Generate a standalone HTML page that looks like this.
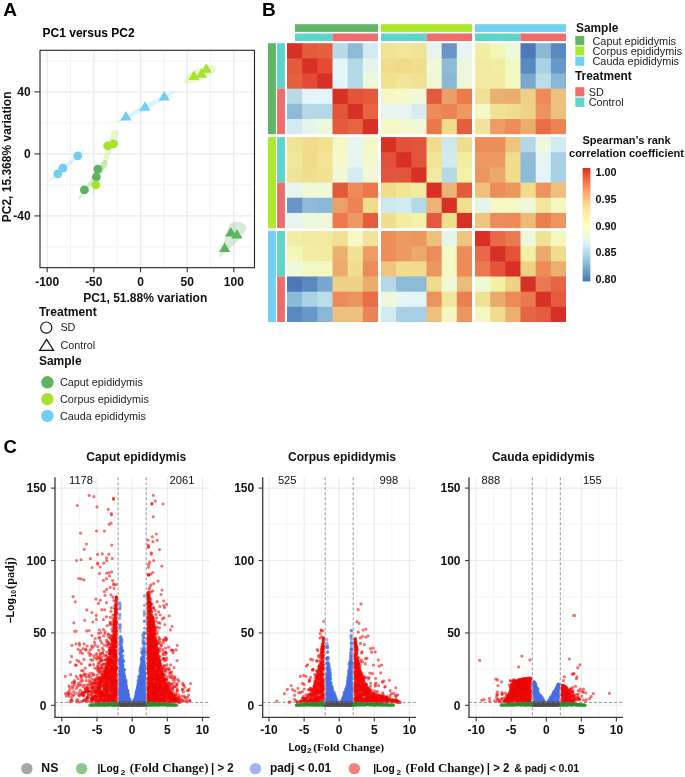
<!DOCTYPE html>
<html><head><meta charset="utf-8"><style>
html,body{margin:0;padding:0;background:#fff;}
body{width:685px;height:777px;overflow:hidden;font-family:"Liberation Sans", sans-serif;}
svg{display:block;filter:blur(0.35px);}
</style></head><body>
<svg width="685" height="777" viewBox="0 0 685 777">
<rect width="685" height="777" fill="#fff"/>
<text x="3.2" y="15.9" font-size="19" font-weight="bold" text-anchor="start" fill="#000" font-family='"Liberation Sans", sans-serif' >A</text>
<text x="42.6" y="37.0" font-size="12" font-weight="bold" text-anchor="start" fill="#000" font-family='"Liberation Sans", sans-serif' >PC1 versus PC2</text>
<rect x="40.0" y="50.3" width="214.5" height="217.39999999999998" fill="#fff"/>
<line x1="70.5" y1="50.3" x2="70.5" y2="267.7" stroke="#F2F2F2" stroke-width="1"/>
<line x1="117.2" y1="50.3" x2="117.2" y2="267.7" stroke="#F2F2F2" stroke-width="1"/>
<line x1="163.8" y1="50.3" x2="163.8" y2="267.7" stroke="#F2F2F2" stroke-width="1"/>
<line x1="210.5" y1="50.3" x2="210.5" y2="267.7" stroke="#F2F2F2" stroke-width="1"/>
<line x1="40.0" y1="246.9" x2="254.5" y2="246.9" stroke="#F2F2F2" stroke-width="1"/>
<line x1="40.0" y1="184.9" x2="254.5" y2="184.9" stroke="#F2F2F2" stroke-width="1"/>
<line x1="40.0" y1="122.9" x2="254.5" y2="122.9" stroke="#F2F2F2" stroke-width="1"/>
<line x1="40.0" y1="60.9" x2="254.5" y2="60.9" stroke="#F2F2F2" stroke-width="1"/>
<line x1="47.2" y1="50.3" x2="47.2" y2="267.7" stroke="#EBEBEB" stroke-width="1.4"/>
<line x1="93.8" y1="50.3" x2="93.8" y2="267.7" stroke="#EBEBEB" stroke-width="1.4"/>
<line x1="140.5" y1="50.3" x2="140.5" y2="267.7" stroke="#EBEBEB" stroke-width="1.4"/>
<line x1="187.2" y1="50.3" x2="187.2" y2="267.7" stroke="#EBEBEB" stroke-width="1.4"/>
<line x1="233.8" y1="50.3" x2="233.8" y2="267.7" stroke="#EBEBEB" stroke-width="1.4"/>
<line x1="40.0" y1="215.9" x2="254.5" y2="215.9" stroke="#EBEBEB" stroke-width="1.4"/>
<line x1="40.0" y1="153.9" x2="254.5" y2="153.9" stroke="#EBEBEB" stroke-width="1.4"/>
<line x1="40.0" y1="91.9" x2="254.5" y2="91.9" stroke="#EBEBEB" stroke-width="1.4"/>
<ellipse cx="66.4" cy="165.9" rx="24.6" ry="1.8" transform="rotate(-41.9 66.4 165.9)" fill="#6ECFF2" fill-opacity="0.25"/>
<ellipse cx="145.5" cy="107.2" rx="32.9" ry="2.5" transform="rotate(-28.0 145.5 107.2)" fill="#6ECFF2" fill-opacity="0.25"/>
<path d="M91.8 194.3L110.6 134.9C111.5 129.3 117.8 128.3 118.7 134.0L93.4 194.8Z" fill="#A6E22E" fill-opacity="0.25"/>
<path d="M78.0 198.3L102.3 162.0C104.0 158.4 109.0 159.2 107.6 165.2L79.5 199.2Z" fill="#5DB35F" fill-opacity="0.25"/>
<ellipse cx="200.0" cy="74.3" rx="17.8" ry="6.2" transform="rotate(-25.0 200.0 74.3)" fill="#A6E22E" fill-opacity="0.22"/>
<path d="M218.7 257.7L229.0 225.2C231.0 221.0 240.5 220.3 245.0 224.8C247.6 227.4 246.0 230.5 243.5 233.8L237.1 241.4L229.5 249.0Z" fill="#5DB35F" fill-opacity="0.25"/>
<circle cx="57.8" cy="173.8" r="4.4" fill="#6ECFF2"/>
<circle cx="62.9" cy="168.2" r="4.4" fill="#6ECFF2"/>
<circle cx="77.8" cy="155.9" r="4.4" fill="#6ECFF2"/>
<circle cx="97.8" cy="169.1" r="4.4" fill="#5DB35F"/>
<circle cx="96.3" cy="177.0" r="4.4" fill="#5DB35F"/>
<circle cx="84.4" cy="189.9" r="4.4" fill="#5DB35F"/>
<circle cx="107.7" cy="145.8" r="4.4" fill="#A6E22E"/>
<circle cx="113.6" cy="143.8" r="4.4" fill="#A6E22E"/>
<circle cx="95.8" cy="184.9" r="4.4" fill="#A6E22E"/>
<path d="M120.4 120.6L131.6 120.6L126.0 111.1Z" fill="#6ECFF2"/>
<path d="M139.4 110.7L150.6 110.7L145.0 101.2Z" fill="#6ECFF2"/>
<path d="M158.7 100.4L169.9 100.4L164.3 90.9Z" fill="#6ECFF2"/>
<path d="M188.3 79.9L199.5 79.9L193.9 70.4Z" fill="#A6E22E"/>
<path d="M195.9 77.7L207.1 77.7L201.5 68.2Z" fill="#A6E22E"/>
<path d="M200.7 72.8L211.9 72.8L206.3 63.3Z" fill="#A6E22E"/>
<path d="M225.2 236.6L236.4 236.6L230.8 227.1Z" fill="#5DB35F"/>
<path d="M231.3 238.5L242.5 238.5L236.9 229.0Z" fill="#5DB35F"/>
<path d="M219.1 252.0L230.3 252.0L224.7 242.5Z" fill="#5DB35F"/>
<rect x="40.0" y="50.3" width="214.5" height="217.39999999999998" fill="none" stroke="#222" stroke-width="1.1"/>
<line x1="34.4" y1="215.9" x2="40.0" y2="215.9" stroke="#333" stroke-width="1.1"/>
<text x="30.6" y="220.1" font-size="12" font-weight="bold" text-anchor="end" fill="#111" font-family='"Liberation Sans", sans-serif' >-40</text>
<line x1="34.4" y1="153.9" x2="40.0" y2="153.9" stroke="#333" stroke-width="1.1"/>
<text x="30.6" y="158.1" font-size="12" font-weight="bold" text-anchor="end" fill="#111" font-family='"Liberation Sans", sans-serif' >0</text>
<line x1="34.4" y1="91.9" x2="40.0" y2="91.9" stroke="#333" stroke-width="1.1"/>
<text x="30.6" y="96.1" font-size="12" font-weight="bold" text-anchor="end" fill="#111" font-family='"Liberation Sans", sans-serif' >40</text>
<line x1="47.2" y1="267.7" x2="47.2" y2="272.3" stroke="#333" stroke-width="1.1"/>
<text x="47.2" y="285.8" font-size="12" font-weight="bold" text-anchor="middle" fill="#111" font-family='"Liberation Sans", sans-serif' >-100</text>
<line x1="93.8" y1="267.7" x2="93.8" y2="272.3" stroke="#333" stroke-width="1.1"/>
<text x="93.8" y="285.8" font-size="12" font-weight="bold" text-anchor="middle" fill="#111" font-family='"Liberation Sans", sans-serif' >-50</text>
<line x1="140.5" y1="267.7" x2="140.5" y2="272.3" stroke="#333" stroke-width="1.1"/>
<text x="140.5" y="285.8" font-size="12" font-weight="bold" text-anchor="middle" fill="#111" font-family='"Liberation Sans", sans-serif' >0</text>
<line x1="187.2" y1="267.7" x2="187.2" y2="272.3" stroke="#333" stroke-width="1.1"/>
<text x="187.2" y="285.8" font-size="12" font-weight="bold" text-anchor="middle" fill="#111" font-family='"Liberation Sans", sans-serif' >50</text>
<line x1="233.8" y1="267.7" x2="233.8" y2="272.3" stroke="#333" stroke-width="1.1"/>
<text x="233.8" y="285.8" font-size="12" font-weight="bold" text-anchor="middle" fill="#111" font-family='"Liberation Sans", sans-serif' >100</text>
<text x="145.2" y="302.2" font-size="12" font-weight="bold" text-anchor="middle" fill="#111" font-family='"Liberation Sans", sans-serif' >PC1, 51.88% variation</text>
<text x="0" y="0" font-size="12" font-weight="bold" text-anchor="middle" fill="#111" font-family='"Liberation Sans", sans-serif' transform="translate(10.9 156.9) rotate(-90)">PC2, 15.368% variation</text>
<text x="38.9" y="316.2" font-size="12.1" font-weight="bold" text-anchor="start" fill="#111" font-family='"Liberation Sans", sans-serif' >Treatment</text>
<circle cx="46.3" cy="327.6" r="5.6" fill="none" stroke="#111" stroke-width="1.2"/>
<text x="60.4" y="331.2" font-size="10.8" font-weight="normal" text-anchor="start" fill="#222" font-family='"Liberation Sans", sans-serif' >SD</text>
<path d="M39.6 350.4L53.6 350.4L46.6 339.4Z" fill="none" stroke="#111" stroke-width="1.2" stroke-linejoin="miter"/>
<text x="60.4" y="349.0" font-size="10.8" font-weight="normal" text-anchor="start" fill="#222" font-family='"Liberation Sans", sans-serif' >Control</text>
<text x="38.9" y="365.0" font-size="12.0" font-weight="bold" text-anchor="start" fill="#111" font-family='"Liberation Sans", sans-serif' >Sample</text>
<circle cx="47.4" cy="382.3" r="6.2" fill="#5DB35F"/>
<text x="60.0" y="386.2" font-size="10.8" font-weight="normal" text-anchor="start" fill="#222" font-family='"Liberation Sans", sans-serif' >Caput epididymis</text>
<circle cx="47.4" cy="399.1" r="6.2" fill="#A6E22E"/>
<text x="60.0" y="403.0" font-size="10.8" font-weight="normal" text-anchor="start" fill="#222" font-family='"Liberation Sans", sans-serif' >Corpus epididymis</text>
<circle cx="47.4" cy="415.9" r="6.2" fill="#6ECFF2"/>
<text x="60.0" y="419.8" font-size="10.8" font-weight="normal" text-anchor="start" fill="#222" font-family='"Liberation Sans", sans-serif' >Cauda epididymis</text>
<text x="262.0" y="15.9" font-size="19" font-weight="bold" text-anchor="start" fill="#000" font-family='"Liberation Sans", sans-serif' >B</text>
<rect x="287.00" y="43.20" width="15.87" height="15.87" fill="#D73027"/>
<rect x="302.17" y="43.20" width="15.87" height="15.87" fill="#E65A3C"/>
<rect x="317.33" y="43.20" width="15.87" height="15.87" fill="#E6603F"/>
<rect x="332.50" y="43.20" width="15.87" height="15.87" fill="#B9DBE8"/>
<rect x="347.67" y="43.20" width="15.87" height="15.87" fill="#8DBAD6"/>
<rect x="362.83" y="43.20" width="15.17" height="15.87" fill="#D2EAF2"/>
<rect x="381.00" y="43.20" width="15.87" height="15.87" fill="#F1E394"/>
<rect x="396.17" y="43.20" width="15.87" height="15.87" fill="#F2E69A"/>
<rect x="411.33" y="43.20" width="15.87" height="15.87" fill="#F1E396"/>
<rect x="426.50" y="43.20" width="15.87" height="15.87" fill="#E6F5EE"/>
<rect x="441.67" y="43.20" width="15.87" height="15.87" fill="#6895C6"/>
<rect x="456.83" y="43.20" width="15.17" height="15.87" fill="#E6F5F2"/>
<rect x="475.00" y="43.20" width="15.87" height="15.87" fill="#F2EEA4"/>
<rect x="490.17" y="43.20" width="15.87" height="15.87" fill="#F4F7B8"/>
<rect x="505.33" y="43.20" width="15.87" height="15.87" fill="#EEF8DE"/>
<rect x="520.50" y="43.20" width="15.87" height="15.87" fill="#4F78B8"/>
<rect x="535.67" y="43.20" width="15.87" height="15.87" fill="#8BBAD6"/>
<rect x="550.83" y="43.20" width="15.17" height="15.87" fill="#5A88C0"/>
<rect x="287.00" y="58.37" width="15.87" height="15.87" fill="#E65A3C"/>
<rect x="302.17" y="58.37" width="15.87" height="15.87" fill="#D73027"/>
<rect x="317.33" y="58.37" width="15.87" height="15.87" fill="#E34B35"/>
<rect x="332.50" y="58.37" width="15.87" height="15.87" fill="#E3F5F8"/>
<rect x="347.67" y="58.37" width="15.87" height="15.87" fill="#B3D8E8"/>
<rect x="362.83" y="58.37" width="15.17" height="15.87" fill="#E6F5EC"/>
<rect x="381.00" y="58.37" width="15.87" height="15.87" fill="#F0DC8C"/>
<rect x="396.17" y="58.37" width="15.87" height="15.87" fill="#F0DA8A"/>
<rect x="411.33" y="58.37" width="15.87" height="15.87" fill="#F0DE8E"/>
<rect x="426.50" y="58.37" width="15.87" height="15.87" fill="#F0F8D6"/>
<rect x="441.67" y="58.37" width="15.87" height="15.87" fill="#8DBAD6"/>
<rect x="456.83" y="58.37" width="15.17" height="15.87" fill="#ECF8DC"/>
<rect x="475.00" y="58.37" width="15.87" height="15.87" fill="#F2EAA2"/>
<rect x="490.17" y="58.37" width="15.87" height="15.87" fill="#F2EDA4"/>
<rect x="505.33" y="58.37" width="15.87" height="15.87" fill="#F2F8C4"/>
<rect x="520.50" y="58.37" width="15.87" height="15.87" fill="#5A88C0"/>
<rect x="535.67" y="58.37" width="15.87" height="15.87" fill="#A9D3E5"/>
<rect x="550.83" y="58.37" width="15.17" height="15.87" fill="#6898C8"/>
<rect x="287.00" y="73.53" width="15.87" height="15.87" fill="#E6603F"/>
<rect x="302.17" y="73.53" width="15.87" height="15.87" fill="#E34B35"/>
<rect x="317.33" y="73.53" width="15.87" height="15.87" fill="#D73027"/>
<rect x="332.50" y="73.53" width="15.87" height="15.87" fill="#E3F5F8"/>
<rect x="347.67" y="73.53" width="15.87" height="15.87" fill="#B3D8E8"/>
<rect x="362.83" y="73.53" width="15.17" height="15.87" fill="#ECF8DC"/>
<rect x="381.00" y="73.53" width="15.87" height="15.87" fill="#F1E08F"/>
<rect x="396.17" y="73.53" width="15.87" height="15.87" fill="#F2E598"/>
<rect x="411.33" y="73.53" width="15.87" height="15.87" fill="#F1E193"/>
<rect x="426.50" y="73.53" width="15.87" height="15.87" fill="#F0F8D6"/>
<rect x="441.67" y="73.53" width="15.87" height="15.87" fill="#88B8D6"/>
<rect x="456.83" y="73.53" width="15.17" height="15.87" fill="#EEF8D8"/>
<rect x="475.00" y="73.53" width="15.87" height="15.87" fill="#F2EAA0"/>
<rect x="490.17" y="73.53" width="15.87" height="15.87" fill="#F2ECA2"/>
<rect x="505.33" y="73.53" width="15.87" height="15.87" fill="#F4F8C0"/>
<rect x="520.50" y="73.53" width="15.87" height="15.87" fill="#78A8D0"/>
<rect x="535.67" y="73.53" width="15.87" height="15.87" fill="#BBDDE8"/>
<rect x="550.83" y="73.53" width="15.17" height="15.87" fill="#88B8D6"/>
<rect x="287.00" y="88.70" width="15.87" height="15.87" fill="#B9DBE8"/>
<rect x="302.17" y="88.70" width="15.87" height="15.87" fill="#E3F5F8"/>
<rect x="317.33" y="88.70" width="15.87" height="15.87" fill="#E3F5F8"/>
<rect x="332.50" y="88.70" width="15.87" height="15.87" fill="#D73027"/>
<rect x="347.67" y="88.70" width="15.87" height="15.87" fill="#E45538"/>
<rect x="362.83" y="88.70" width="15.17" height="15.87" fill="#E65A3C"/>
<rect x="381.00" y="88.70" width="15.87" height="15.87" fill="#F5F7C4"/>
<rect x="396.17" y="88.70" width="15.87" height="15.87" fill="#F5F8C8"/>
<rect x="411.33" y="88.70" width="15.87" height="15.87" fill="#F0F8D8"/>
<rect x="426.50" y="88.70" width="15.87" height="15.87" fill="#E25A3D"/>
<rect x="441.67" y="88.70" width="15.87" height="15.87" fill="#EBA06A"/>
<rect x="456.83" y="88.70" width="15.17" height="15.87" fill="#EC7A4E"/>
<rect x="475.00" y="88.70" width="15.87" height="15.87" fill="#F2DE94"/>
<rect x="490.17" y="88.70" width="15.87" height="15.87" fill="#EBB070"/>
<rect x="505.33" y="88.70" width="15.87" height="15.87" fill="#EBAC6E"/>
<rect x="520.50" y="88.70" width="15.87" height="15.87" fill="#EFD08A"/>
<rect x="535.67" y="88.70" width="15.87" height="15.87" fill="#EC8A5A"/>
<rect x="550.83" y="88.70" width="15.17" height="15.87" fill="#EEC07E"/>
<rect x="287.00" y="103.87" width="15.87" height="15.87" fill="#8DBAD6"/>
<rect x="302.17" y="103.87" width="15.87" height="15.87" fill="#B3D8E8"/>
<rect x="317.33" y="103.87" width="15.87" height="15.87" fill="#B3D8E8"/>
<rect x="332.50" y="103.87" width="15.87" height="15.87" fill="#E45538"/>
<rect x="347.67" y="103.87" width="15.87" height="15.87" fill="#D73027"/>
<rect x="362.83" y="103.87" width="15.17" height="15.87" fill="#E6643F"/>
<rect x="381.00" y="103.87" width="15.87" height="15.87" fill="#E6F5F0"/>
<rect x="396.17" y="103.87" width="15.87" height="15.87" fill="#E6F5F2"/>
<rect x="411.33" y="103.87" width="15.87" height="15.87" fill="#D6EBF2"/>
<rect x="426.50" y="103.87" width="15.87" height="15.87" fill="#EC8A5A"/>
<rect x="441.67" y="103.87" width="15.87" height="15.87" fill="#EC8255"/>
<rect x="456.83" y="103.87" width="15.17" height="15.87" fill="#EC9A64"/>
<rect x="475.00" y="103.87" width="15.87" height="15.87" fill="#F4F8C4"/>
<rect x="490.17" y="103.87" width="15.87" height="15.87" fill="#F1E194"/>
<rect x="505.33" y="103.87" width="15.87" height="15.87" fill="#F0DE8E"/>
<rect x="520.50" y="103.87" width="15.87" height="15.87" fill="#EED286"/>
<rect x="535.67" y="103.87" width="15.87" height="15.87" fill="#EC9460"/>
<rect x="550.83" y="103.87" width="15.17" height="15.87" fill="#EEC07E"/>
<rect x="287.00" y="119.03" width="15.87" height="15.17" fill="#D2EAF2"/>
<rect x="302.17" y="119.03" width="15.87" height="15.17" fill="#E6F5EC"/>
<rect x="317.33" y="119.03" width="15.87" height="15.17" fill="#ECF8DC"/>
<rect x="332.50" y="119.03" width="15.87" height="15.17" fill="#E65A3C"/>
<rect x="347.67" y="119.03" width="15.87" height="15.17" fill="#E6643F"/>
<rect x="362.83" y="119.03" width="15.17" height="15.17" fill="#D73027"/>
<rect x="381.00" y="119.03" width="15.87" height="15.17" fill="#F4F8C4"/>
<rect x="396.17" y="119.03" width="15.87" height="15.17" fill="#F2F8CC"/>
<rect x="411.33" y="119.03" width="15.87" height="15.17" fill="#F0F8D8"/>
<rect x="426.50" y="119.03" width="15.87" height="15.17" fill="#EB774B"/>
<rect x="441.67" y="119.03" width="15.87" height="15.17" fill="#F1DC8E"/>
<rect x="456.83" y="119.03" width="15.17" height="15.17" fill="#E35E40"/>
<rect x="475.00" y="119.03" width="15.87" height="15.17" fill="#F2E39A"/>
<rect x="490.17" y="119.03" width="15.87" height="15.17" fill="#EC9C64"/>
<rect x="505.33" y="119.03" width="15.87" height="15.17" fill="#EC8C5A"/>
<rect x="520.50" y="119.03" width="15.87" height="15.17" fill="#EBAC6E"/>
<rect x="535.67" y="119.03" width="15.87" height="15.17" fill="#E96E48"/>
<rect x="550.83" y="119.03" width="15.17" height="15.17" fill="#EC8455"/>
<rect x="287.00" y="137.10" width="15.87" height="15.87" fill="#F1E394"/>
<rect x="302.17" y="137.10" width="15.87" height="15.87" fill="#F0DC8C"/>
<rect x="317.33" y="137.10" width="15.87" height="15.87" fill="#F1E08F"/>
<rect x="332.50" y="137.10" width="15.87" height="15.87" fill="#F5F7C4"/>
<rect x="347.67" y="137.10" width="15.87" height="15.87" fill="#E6F5F0"/>
<rect x="362.83" y="137.10" width="15.17" height="15.87" fill="#F4F8C4"/>
<rect x="381.00" y="137.10" width="15.87" height="15.87" fill="#D73027"/>
<rect x="396.17" y="137.10" width="15.87" height="15.87" fill="#E2523A"/>
<rect x="411.33" y="137.10" width="15.87" height="15.87" fill="#E2543B"/>
<rect x="426.50" y="137.10" width="15.87" height="15.87" fill="#F0DC8C"/>
<rect x="441.67" y="137.10" width="15.87" height="15.87" fill="#CEE8F0"/>
<rect x="456.83" y="137.10" width="15.17" height="15.87" fill="#F0DE90"/>
<rect x="475.00" y="137.10" width="15.87" height="15.87" fill="#EC8E5A"/>
<rect x="490.17" y="137.10" width="15.87" height="15.87" fill="#EC8E5A"/>
<rect x="505.33" y="137.10" width="15.87" height="15.87" fill="#EEC47E"/>
<rect x="520.50" y="137.10" width="15.87" height="15.87" fill="#B5D8E8"/>
<rect x="535.67" y="137.10" width="15.87" height="15.87" fill="#EEF8DA"/>
<rect x="550.83" y="137.10" width="15.17" height="15.87" fill="#D2EAF2"/>
<rect x="287.00" y="152.27" width="15.87" height="15.87" fill="#F2E69A"/>
<rect x="302.17" y="152.27" width="15.87" height="15.87" fill="#F0DA8A"/>
<rect x="317.33" y="152.27" width="15.87" height="15.87" fill="#F2E598"/>
<rect x="332.50" y="152.27" width="15.87" height="15.87" fill="#F5F8C8"/>
<rect x="347.67" y="152.27" width="15.87" height="15.87" fill="#E6F5F2"/>
<rect x="362.83" y="152.27" width="15.17" height="15.87" fill="#F2F8CC"/>
<rect x="381.00" y="152.27" width="15.87" height="15.87" fill="#E2523A"/>
<rect x="396.17" y="152.27" width="15.87" height="15.87" fill="#D73027"/>
<rect x="411.33" y="152.27" width="15.87" height="15.87" fill="#E2553C"/>
<rect x="426.50" y="152.27" width="15.87" height="15.87" fill="#F1E596"/>
<rect x="441.67" y="152.27" width="15.87" height="15.87" fill="#D2EAF2"/>
<rect x="456.83" y="152.27" width="15.17" height="15.87" fill="#F2EDA0"/>
<rect x="475.00" y="152.27" width="15.87" height="15.87" fill="#EC9A62"/>
<rect x="490.17" y="152.27" width="15.87" height="15.87" fill="#EC9A62"/>
<rect x="505.33" y="152.27" width="15.87" height="15.87" fill="#F0DE8E"/>
<rect x="520.50" y="152.27" width="15.87" height="15.87" fill="#8DBAD6"/>
<rect x="535.67" y="152.27" width="15.87" height="15.87" fill="#E6F5F2"/>
<rect x="550.83" y="152.27" width="15.17" height="15.87" fill="#A8D0E4"/>
<rect x="287.00" y="167.43" width="15.87" height="15.87" fill="#F1E396"/>
<rect x="302.17" y="167.43" width="15.87" height="15.87" fill="#F0DE8E"/>
<rect x="317.33" y="167.43" width="15.87" height="15.87" fill="#F1E193"/>
<rect x="332.50" y="167.43" width="15.87" height="15.87" fill="#F0F8D8"/>
<rect x="347.67" y="167.43" width="15.87" height="15.87" fill="#D6EBF2"/>
<rect x="362.83" y="167.43" width="15.17" height="15.87" fill="#F0F8D8"/>
<rect x="381.00" y="167.43" width="15.87" height="15.87" fill="#E2543B"/>
<rect x="396.17" y="167.43" width="15.87" height="15.87" fill="#E2553C"/>
<rect x="411.33" y="167.43" width="15.87" height="15.87" fill="#D73027"/>
<rect x="426.50" y="167.43" width="15.87" height="15.87" fill="#F2EAA0"/>
<rect x="441.67" y="167.43" width="15.87" height="15.87" fill="#B5D8E8"/>
<rect x="456.83" y="167.43" width="15.17" height="15.87" fill="#F2F2AA"/>
<rect x="475.00" y="167.43" width="15.87" height="15.87" fill="#EC9660"/>
<rect x="490.17" y="167.43" width="15.87" height="15.87" fill="#EBAA6C"/>
<rect x="505.33" y="167.43" width="15.87" height="15.87" fill="#F0DC8C"/>
<rect x="520.50" y="167.43" width="15.87" height="15.87" fill="#8DBAD6"/>
<rect x="535.67" y="167.43" width="15.87" height="15.87" fill="#E3F5F8"/>
<rect x="550.83" y="167.43" width="15.17" height="15.87" fill="#A8D0E4"/>
<rect x="287.00" y="182.60" width="15.87" height="15.87" fill="#E6F5EE"/>
<rect x="302.17" y="182.60" width="15.87" height="15.87" fill="#F0F8D6"/>
<rect x="317.33" y="182.60" width="15.87" height="15.87" fill="#F0F8D6"/>
<rect x="332.50" y="182.60" width="15.87" height="15.87" fill="#E25A3D"/>
<rect x="347.67" y="182.60" width="15.87" height="15.87" fill="#EC8A5A"/>
<rect x="362.83" y="182.60" width="15.17" height="15.87" fill="#EB774B"/>
<rect x="381.00" y="182.60" width="15.87" height="15.87" fill="#F0DC8C"/>
<rect x="396.17" y="182.60" width="15.87" height="15.87" fill="#F1E596"/>
<rect x="411.33" y="182.60" width="15.87" height="15.87" fill="#F2EAA0"/>
<rect x="426.50" y="182.60" width="15.87" height="15.87" fill="#D73027"/>
<rect x="441.67" y="182.60" width="15.87" height="15.87" fill="#EBB474"/>
<rect x="456.83" y="182.60" width="15.17" height="15.87" fill="#E35A3E"/>
<rect x="475.00" y="182.60" width="15.87" height="15.87" fill="#EEC07E"/>
<rect x="490.17" y="182.60" width="15.87" height="15.87" fill="#EC8C5A"/>
<rect x="505.33" y="182.60" width="15.87" height="15.87" fill="#EC9660"/>
<rect x="520.50" y="182.60" width="15.87" height="15.87" fill="#F0DC8C"/>
<rect x="535.67" y="182.60" width="15.87" height="15.87" fill="#EC9460"/>
<rect x="550.83" y="182.60" width="15.17" height="15.87" fill="#EEC07E"/>
<rect x="287.00" y="197.77" width="15.87" height="15.87" fill="#6895C6"/>
<rect x="302.17" y="197.77" width="15.87" height="15.87" fill="#8DBAD6"/>
<rect x="317.33" y="197.77" width="15.87" height="15.87" fill="#88B8D6"/>
<rect x="332.50" y="197.77" width="15.87" height="15.87" fill="#EBA06A"/>
<rect x="347.67" y="197.77" width="15.87" height="15.87" fill="#EC8255"/>
<rect x="362.83" y="197.77" width="15.17" height="15.87" fill="#F1DC8E"/>
<rect x="381.00" y="197.77" width="15.87" height="15.87" fill="#CEE8F0"/>
<rect x="396.17" y="197.77" width="15.87" height="15.87" fill="#D2EAF2"/>
<rect x="411.33" y="197.77" width="15.87" height="15.87" fill="#B5D8E8"/>
<rect x="426.50" y="197.77" width="15.87" height="15.87" fill="#EBB474"/>
<rect x="441.67" y="197.77" width="15.87" height="15.87" fill="#D73027"/>
<rect x="456.83" y="197.77" width="15.17" height="15.87" fill="#F0E08E"/>
<rect x="475.00" y="197.77" width="15.87" height="15.87" fill="#E6F5EA"/>
<rect x="490.17" y="197.77" width="15.87" height="15.87" fill="#F4F8C4"/>
<rect x="505.33" y="197.77" width="15.87" height="15.87" fill="#F4F8C4"/>
<rect x="520.50" y="197.77" width="15.87" height="15.87" fill="#EEF8D6"/>
<rect x="535.67" y="197.77" width="15.87" height="15.87" fill="#F2E69C"/>
<rect x="550.83" y="197.77" width="15.17" height="15.87" fill="#F4F8C0"/>
<rect x="287.00" y="212.93" width="15.87" height="15.17" fill="#E6F5F2"/>
<rect x="302.17" y="212.93" width="15.87" height="15.17" fill="#ECF8DC"/>
<rect x="317.33" y="212.93" width="15.87" height="15.17" fill="#EEF8D8"/>
<rect x="332.50" y="212.93" width="15.87" height="15.17" fill="#EC7A4E"/>
<rect x="347.67" y="212.93" width="15.87" height="15.17" fill="#EC9A64"/>
<rect x="362.83" y="212.93" width="15.17" height="15.17" fill="#E35E40"/>
<rect x="381.00" y="212.93" width="15.87" height="15.17" fill="#F0DE90"/>
<rect x="396.17" y="212.93" width="15.87" height="15.17" fill="#F2EDA0"/>
<rect x="411.33" y="212.93" width="15.87" height="15.17" fill="#F2F2AA"/>
<rect x="426.50" y="212.93" width="15.87" height="15.17" fill="#E35A3E"/>
<rect x="441.67" y="212.93" width="15.87" height="15.17" fill="#F0E08E"/>
<rect x="456.83" y="212.93" width="15.17" height="15.17" fill="#D73027"/>
<rect x="475.00" y="212.93" width="15.87" height="15.17" fill="#EEC47E"/>
<rect x="490.17" y="212.93" width="15.87" height="15.17" fill="#EC8C5A"/>
<rect x="505.33" y="212.93" width="15.87" height="15.17" fill="#EC8A58"/>
<rect x="520.50" y="212.93" width="15.87" height="15.17" fill="#EBBC78"/>
<rect x="535.67" y="212.93" width="15.87" height="15.17" fill="#EA8050"/>
<rect x="550.83" y="212.93" width="15.17" height="15.17" fill="#EC9660"/>
<rect x="287.00" y="231.00" width="15.87" height="15.87" fill="#F2EEA4"/>
<rect x="302.17" y="231.00" width="15.87" height="15.87" fill="#F2EAA2"/>
<rect x="317.33" y="231.00" width="15.87" height="15.87" fill="#F2EAA0"/>
<rect x="332.50" y="231.00" width="15.87" height="15.87" fill="#F2DE94"/>
<rect x="347.67" y="231.00" width="15.87" height="15.87" fill="#F4F8C4"/>
<rect x="362.83" y="231.00" width="15.17" height="15.87" fill="#F2E39A"/>
<rect x="381.00" y="231.00" width="15.87" height="15.87" fill="#EC8E5A"/>
<rect x="396.17" y="231.00" width="15.87" height="15.87" fill="#EC9A62"/>
<rect x="411.33" y="231.00" width="15.87" height="15.87" fill="#EC9660"/>
<rect x="426.50" y="231.00" width="15.87" height="15.87" fill="#EEC07E"/>
<rect x="441.67" y="231.00" width="15.87" height="15.87" fill="#E6F5EA"/>
<rect x="456.83" y="231.00" width="15.17" height="15.87" fill="#EEC47E"/>
<rect x="475.00" y="231.00" width="15.87" height="15.87" fill="#D73027"/>
<rect x="490.17" y="231.00" width="15.87" height="15.87" fill="#E8684A"/>
<rect x="505.33" y="231.00" width="15.87" height="15.87" fill="#EA7850"/>
<rect x="520.50" y="231.00" width="15.87" height="15.87" fill="#EEF8D8"/>
<rect x="535.67" y="231.00" width="15.87" height="15.87" fill="#F0E292"/>
<rect x="550.83" y="231.00" width="15.17" height="15.87" fill="#F4F8C0"/>
<rect x="287.00" y="246.17" width="15.87" height="15.87" fill="#F4F7B8"/>
<rect x="302.17" y="246.17" width="15.87" height="15.87" fill="#F2EDA4"/>
<rect x="317.33" y="246.17" width="15.87" height="15.87" fill="#F2ECA2"/>
<rect x="332.50" y="246.17" width="15.87" height="15.87" fill="#EBB070"/>
<rect x="347.67" y="246.17" width="15.87" height="15.87" fill="#F1E194"/>
<rect x="362.83" y="246.17" width="15.17" height="15.87" fill="#EC9C64"/>
<rect x="381.00" y="246.17" width="15.87" height="15.87" fill="#EC8E5A"/>
<rect x="396.17" y="246.17" width="15.87" height="15.87" fill="#EC9A62"/>
<rect x="411.33" y="246.17" width="15.87" height="15.87" fill="#EBAA6C"/>
<rect x="426.50" y="246.17" width="15.87" height="15.87" fill="#EC8C5A"/>
<rect x="441.67" y="246.17" width="15.87" height="15.87" fill="#F4F8C4"/>
<rect x="456.83" y="246.17" width="15.17" height="15.87" fill="#EC8C5A"/>
<rect x="475.00" y="246.17" width="15.87" height="15.87" fill="#E8684A"/>
<rect x="490.17" y="246.17" width="15.87" height="15.87" fill="#D73027"/>
<rect x="505.33" y="246.17" width="15.87" height="15.87" fill="#E45238"/>
<rect x="520.50" y="246.17" width="15.87" height="15.87" fill="#F2F0A4"/>
<rect x="535.67" y="246.17" width="15.87" height="15.87" fill="#EBAA6C"/>
<rect x="550.83" y="246.17" width="15.17" height="15.87" fill="#F0DC8C"/>
<rect x="287.00" y="261.33" width="15.87" height="15.87" fill="#EEF8DE"/>
<rect x="302.17" y="261.33" width="15.87" height="15.87" fill="#F2F8C4"/>
<rect x="317.33" y="261.33" width="15.87" height="15.87" fill="#F4F8C0"/>
<rect x="332.50" y="261.33" width="15.87" height="15.87" fill="#EBAC6E"/>
<rect x="347.67" y="261.33" width="15.87" height="15.87" fill="#F0DE8E"/>
<rect x="362.83" y="261.33" width="15.17" height="15.87" fill="#EC8C5A"/>
<rect x="381.00" y="261.33" width="15.87" height="15.87" fill="#EEC47E"/>
<rect x="396.17" y="261.33" width="15.87" height="15.87" fill="#F0DE8E"/>
<rect x="411.33" y="261.33" width="15.87" height="15.87" fill="#F0DC8C"/>
<rect x="426.50" y="261.33" width="15.87" height="15.87" fill="#EC9660"/>
<rect x="441.67" y="261.33" width="15.87" height="15.87" fill="#F4F8C4"/>
<rect x="456.83" y="261.33" width="15.17" height="15.87" fill="#EC8A58"/>
<rect x="475.00" y="261.33" width="15.87" height="15.87" fill="#EA7850"/>
<rect x="490.17" y="261.33" width="15.87" height="15.87" fill="#E45238"/>
<rect x="505.33" y="261.33" width="15.87" height="15.87" fill="#D73027"/>
<rect x="520.50" y="261.33" width="15.87" height="15.87" fill="#EED286"/>
<rect x="535.67" y="261.33" width="15.87" height="15.87" fill="#EC8A58"/>
<rect x="550.83" y="261.33" width="15.17" height="15.87" fill="#EBB070"/>
<rect x="287.00" y="276.50" width="15.87" height="15.87" fill="#4F78B8"/>
<rect x="302.17" y="276.50" width="15.87" height="15.87" fill="#5A88C0"/>
<rect x="317.33" y="276.50" width="15.87" height="15.87" fill="#78A8D0"/>
<rect x="332.50" y="276.50" width="15.87" height="15.87" fill="#EFD08A"/>
<rect x="347.67" y="276.50" width="15.87" height="15.87" fill="#EED286"/>
<rect x="362.83" y="276.50" width="15.17" height="15.87" fill="#EBAC6E"/>
<rect x="381.00" y="276.50" width="15.87" height="15.87" fill="#B5D8E8"/>
<rect x="396.17" y="276.50" width="15.87" height="15.87" fill="#8DBAD6"/>
<rect x="411.33" y="276.50" width="15.87" height="15.87" fill="#8DBAD6"/>
<rect x="426.50" y="276.50" width="15.87" height="15.87" fill="#F0DC8C"/>
<rect x="441.67" y="276.50" width="15.87" height="15.87" fill="#EEF8D6"/>
<rect x="456.83" y="276.50" width="15.17" height="15.87" fill="#EBBC78"/>
<rect x="475.00" y="276.50" width="15.87" height="15.87" fill="#EEF8D8"/>
<rect x="490.17" y="276.50" width="15.87" height="15.87" fill="#F2F0A4"/>
<rect x="505.33" y="276.50" width="15.87" height="15.87" fill="#EED286"/>
<rect x="520.50" y="276.50" width="15.87" height="15.87" fill="#D73027"/>
<rect x="535.67" y="276.50" width="15.87" height="15.87" fill="#EA7850"/>
<rect x="550.83" y="276.50" width="15.17" height="15.87" fill="#E66446"/>
<rect x="287.00" y="291.67" width="15.87" height="15.87" fill="#8BBAD6"/>
<rect x="302.17" y="291.67" width="15.87" height="15.87" fill="#A9D3E5"/>
<rect x="317.33" y="291.67" width="15.87" height="15.87" fill="#BBDDE8"/>
<rect x="332.50" y="291.67" width="15.87" height="15.87" fill="#EC8A5A"/>
<rect x="347.67" y="291.67" width="15.87" height="15.87" fill="#EC9460"/>
<rect x="362.83" y="291.67" width="15.17" height="15.87" fill="#E96E48"/>
<rect x="381.00" y="291.67" width="15.87" height="15.87" fill="#EEF8DA"/>
<rect x="396.17" y="291.67" width="15.87" height="15.87" fill="#E6F5F2"/>
<rect x="411.33" y="291.67" width="15.87" height="15.87" fill="#E3F5F8"/>
<rect x="426.50" y="291.67" width="15.87" height="15.87" fill="#EC9460"/>
<rect x="441.67" y="291.67" width="15.87" height="15.87" fill="#F2E69C"/>
<rect x="456.83" y="291.67" width="15.17" height="15.87" fill="#EA8050"/>
<rect x="475.00" y="291.67" width="15.87" height="15.87" fill="#F0E292"/>
<rect x="490.17" y="291.67" width="15.87" height="15.87" fill="#EBAA6C"/>
<rect x="505.33" y="291.67" width="15.87" height="15.87" fill="#EC8A58"/>
<rect x="520.50" y="291.67" width="15.87" height="15.87" fill="#EA7850"/>
<rect x="535.67" y="291.67" width="15.87" height="15.87" fill="#D73027"/>
<rect x="550.83" y="291.67" width="15.17" height="15.87" fill="#E45C40"/>
<rect x="287.00" y="306.83" width="15.87" height="15.17" fill="#5A88C0"/>
<rect x="302.17" y="306.83" width="15.87" height="15.17" fill="#6898C8"/>
<rect x="317.33" y="306.83" width="15.87" height="15.17" fill="#88B8D6"/>
<rect x="332.50" y="306.83" width="15.87" height="15.17" fill="#EEC07E"/>
<rect x="347.67" y="306.83" width="15.87" height="15.17" fill="#EEC07E"/>
<rect x="362.83" y="306.83" width="15.17" height="15.17" fill="#EC8455"/>
<rect x="381.00" y="306.83" width="15.87" height="15.17" fill="#D2EAF2"/>
<rect x="396.17" y="306.83" width="15.87" height="15.17" fill="#A8D0E4"/>
<rect x="411.33" y="306.83" width="15.87" height="15.17" fill="#A8D0E4"/>
<rect x="426.50" y="306.83" width="15.87" height="15.17" fill="#EEC07E"/>
<rect x="441.67" y="306.83" width="15.87" height="15.17" fill="#F4F8C0"/>
<rect x="456.83" y="306.83" width="15.17" height="15.17" fill="#EC9660"/>
<rect x="475.00" y="306.83" width="15.87" height="15.17" fill="#F4F8C0"/>
<rect x="490.17" y="306.83" width="15.87" height="15.17" fill="#F0DC8C"/>
<rect x="505.33" y="306.83" width="15.87" height="15.17" fill="#EBB070"/>
<rect x="520.50" y="306.83" width="15.87" height="15.17" fill="#E66446"/>
<rect x="535.67" y="306.83" width="15.87" height="15.17" fill="#E45C40"/>
<rect x="550.83" y="306.83" width="15.17" height="15.17" fill="#D73027"/>
<rect x="295.0" y="24.2" width="83.0" height="7.7" fill="#62B567"/>
<rect x="295.0" y="33.5" width="37.5" height="7.6" fill="#5DD5C9"/>
<rect x="332.5" y="33.5" width="45.5" height="7.6" fill="#EE6C6C"/>
<rect x="381.0" y="24.2" width="91.0" height="7.7" fill="#ABE82F"/>
<rect x="381.0" y="33.5" width="45.5" height="7.6" fill="#5DD5C9"/>
<rect x="426.5" y="33.5" width="45.5" height="7.6" fill="#EE6C6C"/>
<rect x="475.0" y="24.2" width="91.0" height="7.7" fill="#71D1F1"/>
<rect x="475.0" y="33.5" width="45.5" height="7.6" fill="#5DD5C9"/>
<rect x="520.5" y="33.5" width="45.5" height="7.6" fill="#EE6C6C"/>
<rect x="268.0" y="43.2" width="7.9" height="91" fill="#62B567"/>
<rect x="277.1" y="43.2" width="7.8" height="45.5" fill="#5DD5C9"/>
<rect x="277.1" y="88.7" width="7.8" height="45.5" fill="#EE6C6C"/>
<rect x="268.0" y="137.1" width="7.9" height="91" fill="#ABE82F"/>
<rect x="277.1" y="137.1" width="7.8" height="45.5" fill="#5DD5C9"/>
<rect x="277.1" y="182.6" width="7.8" height="45.5" fill="#EE6C6C"/>
<rect x="268.0" y="231.0" width="7.9" height="91" fill="#71D1F1"/>
<rect x="277.1" y="231.0" width="7.8" height="45.5" fill="#5DD5C9"/>
<rect x="277.1" y="276.5" width="7.8" height="45.5" fill="#EE6C6C"/>
<text x="576.0" y="32.3" font-size="11.9" font-weight="bold" text-anchor="start" fill="#111" font-family='"Liberation Sans", sans-serif' >Sample</text>
<rect x="575.3" y="36.0" width="9.0" height="9.2" fill="#62B567"/>
<text x="592.5" y="44.6" font-size="10.9" font-weight="normal" text-anchor="start" fill="#222" font-family='"Liberation Sans", sans-serif' >Caput epididymis</text>
<rect x="575.3" y="46.3" width="9.0" height="9.2" fill="#ABE82F"/>
<text x="592.5" y="54.9" font-size="10.9" font-weight="normal" text-anchor="start" fill="#222" font-family='"Liberation Sans", sans-serif' >Corpus epididymis</text>
<rect x="575.3" y="56.6" width="9.0" height="9.2" fill="#71D1F1"/>
<text x="592.5" y="65.2" font-size="10.9" font-weight="normal" text-anchor="start" fill="#222" font-family='"Liberation Sans", sans-serif' >Cauda epididymis</text>
<text x="575.0" y="79.6" font-size="11.9" font-weight="bold" text-anchor="start" fill="#111" font-family='"Liberation Sans", sans-serif' >Treatment</text>
<rect x="575.3" y="87.2" width="9.0" height="9.2" fill="#EE6C6C"/>
<text x="588.7" y="95.8" font-size="10.85" font-weight="normal" text-anchor="start" fill="#222" font-family='"Liberation Sans", sans-serif' >SD</text>
<rect x="575.3" y="97.6" width="9.0" height="9.2" fill="#5DD5C9"/>
<text x="588.7" y="106.2" font-size="10.85" font-weight="normal" text-anchor="start" fill="#222" font-family='"Liberation Sans", sans-serif' >Control</text>
<text x="626.5" y="144.0" font-size="11.0" font-weight="bold" text-anchor="middle" fill="#111" font-family='"Liberation Sans", sans-serif' >Spearman&#8217;s rank</text>
<text x="626.5" y="157.2" font-size="11.0" font-weight="bold" text-anchor="middle" fill="#111" font-family='"Liberation Sans", sans-serif' >correlation coefficient</text>
<defs><linearGradient id="cb" x1="0" y1="1" x2="0" y2="0"><stop offset="0" stop-color="#4575B4"/><stop offset="0.1667" stop-color="#91BFDB"/><stop offset="0.3333" stop-color="#E0F3F8"/><stop offset="0.5" stop-color="#FFFFBF"/><stop offset="0.6667" stop-color="#FEE090"/><stop offset="0.8333" stop-color="#FC8D59"/><stop offset="1" stop-color="#D73027"/></linearGradient></defs>
<rect x="582.6" y="168.0" width="7.8" height="113.4" fill="url(#cb)"/>
<text x="595.6" y="176.2" font-size="10.8" font-weight="bold" text-anchor="start" fill="#111" font-family='"Liberation Sans", sans-serif' >1.00</text>
<text x="595.6" y="203.0" font-size="10.8" font-weight="bold" text-anchor="start" fill="#111" font-family='"Liberation Sans", sans-serif' >0.95</text>
<text x="595.6" y="229.7" font-size="10.8" font-weight="bold" text-anchor="start" fill="#111" font-family='"Liberation Sans", sans-serif' >0.90</text>
<text x="595.6" y="256.4" font-size="10.8" font-weight="bold" text-anchor="start" fill="#111" font-family='"Liberation Sans", sans-serif' >0.85</text>
<text x="595.6" y="283.2" font-size="10.8" font-weight="bold" text-anchor="start" fill="#111" font-family='"Liberation Sans", sans-serif' >0.80</text>
<text x="3.4" y="453.0" font-size="18.5" font-weight="bold" text-anchor="start" fill="#000" font-family='"Liberation Sans", sans-serif' >C</text>
<line x1="79.4" y1="477.3" x2="79.4" y2="717.4" stroke="#F3F3F3" stroke-width="0.8"/>
<line x1="114.6" y1="477.3" x2="114.6" y2="717.4" stroke="#F3F3F3" stroke-width="0.8"/>
<line x1="149.7" y1="477.3" x2="149.7" y2="717.4" stroke="#F3F3F3" stroke-width="0.8"/>
<line x1="184.9" y1="477.3" x2="184.9" y2="717.4" stroke="#F3F3F3" stroke-width="0.8"/>
<line x1="55.0" y1="669.1" x2="209.5" y2="669.1" stroke="#F3F3F3" stroke-width="0.8"/>
<line x1="55.0" y1="596.7" x2="209.5" y2="596.7" stroke="#F3F3F3" stroke-width="0.8"/>
<line x1="55.0" y1="524.3" x2="209.5" y2="524.3" stroke="#F3F3F3" stroke-width="0.8"/>
<line x1="61.8" y1="477.3" x2="61.8" y2="717.4" stroke="#EBEBEB" stroke-width="1.1"/>
<line x1="97.0" y1="477.3" x2="97.0" y2="717.4" stroke="#EBEBEB" stroke-width="1.1"/>
<line x1="132.2" y1="477.3" x2="132.2" y2="717.4" stroke="#EBEBEB" stroke-width="1.1"/>
<line x1="167.3" y1="477.3" x2="167.3" y2="717.4" stroke="#EBEBEB" stroke-width="1.1"/>
<line x1="202.5" y1="477.3" x2="202.5" y2="717.4" stroke="#EBEBEB" stroke-width="1.1"/>
<line x1="55.0" y1="705.3" x2="209.5" y2="705.3" stroke="#EBEBEB" stroke-width="1.1"/>
<line x1="55.0" y1="632.9" x2="209.5" y2="632.9" stroke="#EBEBEB" stroke-width="1.1"/>
<line x1="55.0" y1="560.5" x2="209.5" y2="560.5" stroke="#EBEBEB" stroke-width="1.1"/>
<line x1="55.0" y1="488.1" x2="209.5" y2="488.1" stroke="#EBEBEB" stroke-width="1.1"/>
<path d="M137.1 699.8h0M125.9 701.3h0M123.8 674.0h0M138.3 687.9h0M130.1 699.8h0M141.8 672.3h0M127.1 700.9h0M124.5 686.9h0M136.9 700.6h0M139.8 695.3h0M125.7 695.5h0M125.8 689.2h0M144.0 690.1h0M142.4 683.2h0M127.4 693.2h0M128.3 698.3h0M124.1 688.2h0M138.0 693.2h0M119.7 660.8h0M142.9 702.0h0M123.6 674.4h0M139.8 695.6h0M128.2 699.6h0M143.4 649.5h0M123.2 674.6h0M144.3 688.3h0M139.8 692.0h0M141.1 683.8h0M143.0 659.6h0M121.9 682.0h0M139.4 701.2h0M142.2 698.0h0M122.9 699.9h0M126.0 698.0h0M141.2 694.2h0M144.2 693.1h0M126.2 686.3h0M137.2 695.0h0M139.4 694.5h0M140.7 697.5h0M137.6 686.8h0M125.1 695.3h0M143.1 670.5h0M141.9 697.3h0M138.1 689.2h0M121.9 675.6h0M136.9 690.3h0M144.5 662.2h0M141.2 681.4h0M123.9 684.8h0M136.7 692.6h0M142.0 702.4h0M120.6 699.2h0M137.6 692.4h0M123.9 672.9h0M120.5 682.3h0M123.6 673.3h0M119.9 649.6h0M125.1 682.6h0M121.0 669.4h0M137.6 700.0h0M124.6 676.6h0M125.4 681.3h0M139.9 700.3h0M125.1 681.1h0M126.7 699.2h0M121.0 697.7h0M144.4 676.8h0M123.3 684.3h0M144.4 679.7h0M121.6 686.4h0M125.7 697.8h0M144.1 672.4h0M142.8 662.6h0M139.9 689.8h0M125.5 688.9h0M124.9 692.8h0M125.9 681.4h0M140.0 697.7h0M124.1 680.4h0M124.5 687.4h0M122.8 687.9h0M142.7 694.6h0M142.6 694.9h0M122.8 674.3h0M120.4 700.5h0M144.5 665.4h0M120.3 660.0h0M123.5 696.7h0M126.6 689.0h0M121.1 679.9h0M142.9 686.6h0M140.9 701.4h0M127.2 697.6h0M138.3 688.9h0M142.8 700.4h0M139.5 689.4h0M137.2 701.2h0M119.9 685.9h0M142.7 696.1h0M138.2 691.9h0M136.2 699.0h0M125.7 684.1h0M127.1 694.1h0M140.8 682.4h0M143.3 689.0h0M136.7 694.9h0M141.5 700.9h0M120.7 673.6h0M144.5 689.9h0M122.4 690.5h0M138.5 696.7h0M122.5 692.6h0M123.5 695.8h0M138.2 690.8h0M124.7 681.3h0M122.6 668.3h0M123.1 681.6h0M123.9 688.4h0M121.5 696.0h0M123.7 696.8h0M138.7 697.2h0M122.4 681.3h0M142.6 684.9h0M126.4 701.4h0M143.3 684.1h0M143.6 700.9h0M124.9 696.7h0M128.3 698.7h0M123.5 688.9h0M120.6 698.4h0M136.9 695.5h0M136.9 700.7h0M141.8 687.8h0M124.8 690.4h0M120.5 648.7h0M142.4 678.0h0M138.8 697.7h0M120.6 675.7h0M140.8 685.7h0M125.9 699.3h0M142.7 659.9h0M120.4 701.8h0M144.4 678.2h0M143.1 652.9h0M141.3 698.7h0M124.3 694.7h0M138.6 695.8h0M142.9 694.8h0M125.0 681.6h0M121.6 680.0h0M141.6 697.6h0M126.7 701.4h0M124.8 687.0h0M121.2 669.2h0M143.3 693.8h0M141.8 689.6h0M122.9 665.8h0M139.7 693.0h0M141.4 669.1h0M126.2 697.8h0M124.2 692.8h0M130.0 701.2h0M121.8 687.2h0M122.9 690.6h0M140.0 681.5h0M143.3 671.1h0M140.8 675.0h0M123.6 696.4h0M120.1 671.4h0M140.5 687.3h0M121.8 699.6h0M139.7 700.5h0M142.6 691.1h0M126.3 697.3h0M126.7 691.6h0M143.0 641.3h0M119.9 698.4h0M121.4 700.3h0M119.8 628.0h0M144.5 654.9h0M123.7 676.4h0M133.4 702.1h0M122.7 699.9h0M144.0 689.9h0M124.3 679.3h0M142.8 655.1h0M121.8 693.6h0M140.4 669.3h0M121.3 694.8h0M123.9 686.3h0M144.5 679.6h0M143.3 652.7h0M125.5 690.4h0M141.3 692.2h0M125.1 681.0h0M140.5 667.7h0M127.9 697.3h0M143.1 702.2h0M119.7 675.0h0M143.4 699.5h0M141.1 699.5h0M142.1 682.7h0M120.4 654.7h0M122.1 697.5h0M124.8 699.7h0M128.6 698.2h0M139.9 694.7h0M126.5 688.8h0M140.9 693.8h0M140.5 681.8h0M124.4 682.2h0M120.1 698.7h0M121.0 653.0h0M123.0 687.4h0M120.3 660.3h0M137.8 694.6h0M138.1 696.6h0M121.2 688.0h0M141.8 697.9h0M144.5 652.3h0M125.3 688.0h0M122.7 676.5h0M121.4 702.2h0M143.7 681.9h0M122.9 679.9h0M142.9 696.2h0M144.3 700.3h0M141.3 674.1h0M144.6 669.9h0M121.8 697.9h0M137.4 692.3h0M144.6 701.1h0M143.7 697.3h0M126.7 697.5h0M140.8 701.9h0M140.5 696.3h0M140.4 683.3h0M122.7 672.4h0M121.0 699.5h0M142.3 694.1h0M140.9 698.0h0M144.6 671.2h0M124.4 682.2h0M126.8 694.0h0M141.7 666.9h0M140.9 695.1h0M143.4 691.8h0M124.6 683.9h0M120.9 685.7h0M120.8 656.2h0M141.8 698.9h0M126.8 699.0h0M125.1 685.6h0M141.1 682.0h0M141.4 688.0h0M138.2 699.3h0M139.6 687.7h0M144.3 632.4h0M123.2 671.7h0M127.8 692.2h0M136.1 699.1h0M123.7 687.9h0M126.3 695.4h0M141.0 687.0h0M119.8 615.6h0M122.1 698.3h0M122.2 699.9h0M134.9 699.5h0M139.5 681.5h0M141.2 692.7h0M143.1 674.2h0M121.4 694.6h0M141.6 701.4h0M127.2 692.5h0M141.1 665.2h0M125.3 701.3h0M127.4 698.5h0M121.0 699.9h0M140.4 690.0h0M135.0 698.5h0M141.8 675.6h0M121.8 661.7h0M142.6 692.5h0M137.6 692.3h0M121.6 680.7h0M141.7 675.8h0M120.3 702.2h0M138.8 688.8h0M124.4 691.1h0M144.5 668.5h0M140.5 699.1h0M142.5 686.5h0M143.2 698.9h0M126.6 695.8h0M143.0 689.6h0M140.1 687.5h0M140.3 698.1h0M125.7 695.5h0M126.6 689.7h0M144.4 672.7h0M124.8 692.7h0M122.3 677.3h0M127.8 702.2h0M139.7 701.8h0M141.3 664.1h0M140.1 681.2h0M137.1 689.9h0M120.6 692.9h0M138.8 698.1h0M134.3 701.2h0M143.5 682.6h0M134.7 700.1h0M121.1 675.0h0M125.2 698.1h0M136.8 701.3h0M125.2 686.2h0M142.0 693.8h0M143.4 654.7h0M140.9 699.8h0M140.0 689.4h0M128.8 700.6h0M144.1 685.6h0M143.6 661.5h0M120.0 694.8h0M127.7 695.7h0M123.4 699.1h0M120.5 696.2h0M143.4 698.2h0M121.0 701.0h0M123.5 683.3h0M125.1 689.8h0M121.0 659.4h0M127.0 690.3h0M135.8 700.5h0M140.8 696.4h0M144.6 695.4h0M125.1 700.1h0M140.3 699.2h0M124.5 700.7h0M141.0 668.0h0M120.4 651.4h0M144.2 644.1h0M122.7 694.8h0M144.5 700.6h0M125.6 700.8h0M138.7 701.5h0M139.6 691.4h0M139.9 679.8h0M120.6 692.7h0M125.5 702.0h0M120.5 661.6h0M121.7 685.0h0M137.6 693.0h0M141.3 685.1h0M140.9 674.7h0M138.1 695.2h0M120.0 672.4h0M143.9 692.3h0M140.2 701.8h0M129.1 701.1h0M138.9 677.5h0M140.1 692.0h0M126.6 699.8h0M139.1 701.3h0M128.2 701.8h0M129.2 699.9h0M123.9 676.0h0M120.7 691.0h0M142.4 656.7h0M124.3 689.1h0M143.5 689.1h0M122.4 696.6h0M122.7 667.5h0M123.5 696.7h0M120.0 673.4h0M121.9 679.5h0M141.6 697.5h0M123.3 684.5h0M119.8 670.5h0M121.4 684.1h0M120.0 636.7h0M124.7 685.8h0M124.2 692.8h0M124.7 695.5h0M140.8 696.4h0M128.4 699.1h0M123.4 694.2h0M123.8 675.0h0M142.0 694.5h0M140.0 677.4h0M122.0 683.8h0M141.6 661.1h0M121.3 684.3h0M123.6 679.3h0M139.4 692.8h0M140.7 695.1h0M119.9 683.9h0M121.1 701.7h0M141.7 700.1h0M124.6 686.1h0M143.6 687.8h0M122.3 701.5h0M124.5 702.4h0M144.3 613.4h0M139.6 688.3h0M138.3 697.8h0M136.3 702.4h0M144.6 678.3h0M136.4 700.3h0M138.4 683.8h0M124.5 695.7h0M126.0 685.0h0M122.0 673.2h0M139.7 701.1h0M122.4 684.4h0M138.4 688.4h0M121.6 665.0h0M120.3 673.3h0M144.3 692.9h0M123.3 690.5h0M143.3 698.6h0M122.0 686.3h0M141.0 679.3h0M123.6 693.0h0M139.6 684.6h0M141.8 693.4h0M139.3 690.9h0M139.9 699.7h0M121.6 701.7h0M124.0 695.8h0M143.0 698.1h0M123.2 694.6h0M120.2 695.7h0M128.2 697.8h0M126.4 692.6h0M136.8 698.2h0M142.3 678.6h0M122.8 695.5h0M140.6 676.7h0M125.4 694.9h0M134.0 702.1h0M143.8 689.2h0M143.6 668.5h0M124.7 680.5h0M137.0 696.7h0M120.7 690.1h0M141.2 659.7h0M122.0 689.1h0M143.9 701.9h0M138.7 689.6h0M123.8 690.8h0M141.3 675.3h0M136.3 699.7h0M136.9 700.4h0M143.1 691.0h0M129.1 702.2h0M140.5 698.4h0M121.4 688.2h0M129.1 700.2h0M121.8 694.1h0M143.8 663.1h0M139.8 697.2h0M123.9 678.8h0M137.0 693.2h0M125.3 691.5h0M120.7 702.3h0M124.1 687.4h0M122.9 699.3h0M122.3 697.3h0M122.6 650.6h0M137.2 694.2h0M122.7 699.6h0M122.7 702.4h0M141.2 692.2h0M123.6 695.7h0M135.2 701.4h0M121.8 675.9h0M142.8 701.7h0M140.7 702.3h0M125.9 688.4h0M140.7 682.1h0M138.6 701.2h0M137.4 689.6h0M120.3 693.0h0M141.9 695.3h0M126.2 697.0h0M127.9 701.8h0M120.6 664.2h0M121.9 693.6h0M134.3 702.3h0M122.3 695.6h0M140.1 688.4h0M140.3 692.0h0M122.8 691.8h0M126.1 698.2h0M144.0 698.5h0M141.3 684.8h0M143.1 677.7h0M142.5 700.6h0" stroke="#4169E1" stroke-width="3.2" stroke-linecap="round" stroke-opacity="0.55" fill="none"/>
<path d="M119.9 696.8h0M125.3 701.5h0M142.5 696.4h0M138.5 685.3h0M134.4 701.2h0M144.5 677.9h0M120.6 694.9h0M135.5 696.2h0M144.1 686.8h0M129.7 699.9h0M143.1 686.8h0M125.6 692.1h0M143.9 690.3h0M143.8 662.8h0M136.7 692.1h0M140.5 693.7h0M140.9 688.5h0M126.4 686.5h0M144.0 672.6h0M141.0 694.1h0M143.2 700.3h0M136.1 694.0h0M125.3 696.4h0M137.2 702.3h0M121.1 695.1h0M144.2 669.3h0M140.9 690.8h0M142.7 698.1h0M143.5 684.8h0M141.6 665.4h0M123.8 686.6h0M120.0 688.3h0M121.7 697.6h0M121.2 662.0h0M125.7 690.6h0M120.7 693.4h0M121.9 676.6h0M144.4 675.0h0M122.5 694.6h0M121.1 700.4h0M121.1 700.8h0M138.8 695.7h0M126.5 690.5h0M123.0 665.5h0M121.6 677.8h0M142.1 690.7h0M123.5 692.4h0M139.6 688.8h0M138.7 689.4h0M140.1 679.1h0M120.9 684.2h0M119.8 695.9h0M142.3 687.7h0M119.8 692.3h0M143.7 636.7h0M123.1 671.4h0M141.9 699.2h0M141.0 693.7h0M138.0 680.8h0M134.7 700.7h0M125.7 699.7h0M123.0 701.5h0M139.3 681.5h0M144.1 650.9h0M138.5 693.8h0M140.3 694.4h0M141.7 682.3h0M121.6 686.4h0M143.4 666.2h0M140.4 683.5h0M126.0 688.8h0M124.9 696.8h0M123.6 681.4h0M120.1 652.4h0M121.7 682.0h0M141.0 699.7h0M141.3 697.6h0M138.4 683.5h0M136.6 700.1h0M129.7 700.6h0M142.0 667.6h0M140.6 692.6h0M126.8 693.2h0M143.8 695.8h0M138.1 697.8h0M140.3 695.7h0M140.9 677.2h0M122.2 651.8h0M144.3 673.8h0M120.7 687.1h0M140.8 690.7h0M125.2 687.7h0M123.2 701.9h0M144.3 699.0h0M144.2 699.0h0M128.9 700.3h0M123.9 680.6h0M142.2 689.5h0M124.1 699.2h0M124.7 694.4h0M137.7 695.8h0M122.2 699.6h0M144.5 676.4h0M141.3 699.9h0M120.4 676.3h0M123.1 683.2h0M144.5 681.1h0M119.7 659.5h0M140.9 699.4h0M137.4 697.6h0M140.7 699.9h0M141.9 685.0h0M137.3 696.5h0M126.5 692.9h0M122.1 689.5h0M141.2 667.7h0M128.0 695.9h0M141.5 700.0h0M137.1 696.0h0M140.7 690.3h0M120.4 700.0h0M135.0 701.6h0M122.2 685.3h0M138.0 699.2h0M123.7 693.8h0M124.4 680.3h0M140.2 686.0h0M120.4 699.1h0M125.0 683.4h0M126.4 688.0h0M144.1 673.6h0M142.1 682.8h0M123.5 684.9h0M139.7 694.5h0M120.6 699.4h0M143.6 693.6h0M123.4 683.6h0M144.4 700.5h0M144.0 687.2h0M136.2 700.5h0M141.6 697.3h0M127.2 700.7h0M139.3 688.6h0M121.7 696.8h0M125.3 695.3h0M142.3 676.9h0M120.1 690.1h0M136.6 698.0h0M137.9 694.1h0M120.0 653.7h0M142.5 668.3h0M139.3 689.2h0M121.5 638.7h0M123.5 675.7h0M120.7 693.2h0M127.7 690.9h0M124.8 696.2h0M127.1 693.1h0M122.2 664.8h0M122.8 675.2h0M123.2 698.1h0M142.5 657.9h0M119.8 608.2h0M126.5 695.3h0M140.0 700.8h0M123.3 677.4h0M121.9 688.5h0M142.7 691.0h0M140.8 685.7h0M142.2 695.8h0M141.2 674.2h0M143.8 692.7h0M122.6 660.0h0M122.3 690.6h0M140.0 695.2h0M142.1 681.0h0M120.1 693.7h0M128.1 694.2h0M135.3 701.2h0M143.7 694.1h0M119.7 695.5h0M144.5 621.1h0M142.2 695.0h0M143.5 677.1h0M144.5 689.1h0M138.6 683.5h0M141.5 688.6h0M122.8 688.5h0M143.7 692.2h0M121.7 647.9h0M138.7 702.0h0M141.1 678.3h0M142.1 701.0h0M139.4 682.6h0M141.9 699.6h0M140.9 700.8h0M125.1 686.1h0M122.3 693.9h0M119.8 693.4h0M142.9 659.2h0M136.7 699.1h0M120.6 695.8h0M139.7 687.0h0M125.9 691.9h0M123.5 693.4h0M141.9 689.5h0M120.6 687.9h0M136.8 698.7h0M140.9 681.9h0M128.3 701.5h0M127.0 695.7h0M139.6 699.2h0M143.5 659.7h0M125.4 686.3h0M125.4 687.5h0M134.5 701.1h0M121.1 680.6h0M139.9 687.9h0M142.7 659.8h0M143.5 698.2h0M141.3 698.9h0M127.9 698.4h0M125.5 696.2h0M141.2 691.5h0M126.3 701.4h0M143.1 696.3h0M124.3 698.4h0M139.8 681.8h0M141.8 686.2h0M144.0 681.7h0M141.5 666.3h0M127.6 694.9h0M119.9 667.5h0M142.4 699.9h0M124.0 676.3h0M135.3 697.9h0M121.4 699.2h0M142.3 662.2h0M140.4 681.9h0M125.4 685.4h0M125.8 682.1h0M143.4 701.8h0M137.5 696.7h0M127.1 696.2h0M142.4 679.1h0M138.8 692.5h0M142.4 697.1h0M141.5 678.9h0M144.1 702.2h0M142.0 700.8h0M124.5 687.1h0M144.0 693.2h0M141.7 670.2h0M140.6 695.5h0M122.5 686.5h0M123.6 689.6h0M143.7 689.9h0M119.9 694.5h0M142.9 695.6h0M121.0 695.7h0M123.8 687.7h0M141.2 688.2h0M122.2 674.3h0M123.3 701.3h0M124.2 692.8h0M122.3 685.6h0M128.2 696.4h0M141.0 701.7h0M126.2 694.1h0M139.6 691.7h0M139.7 700.5h0M142.9 696.7h0M140.0 688.8h0M127.6 693.2h0M140.4 685.3h0M123.8 669.5h0M126.5 695.1h0M144.2 611.4h0M122.2 697.7h0M125.3 687.3h0M126.4 697.1h0M144.4 684.9h0M120.1 641.3h0M121.3 681.6h0M140.2 702.2h0M121.4 640.9h0M129.6 700.0h0M121.9 691.0h0M121.1 688.3h0M121.6 667.9h0M141.9 678.2h0M140.9 685.8h0M123.2 695.2h0M140.0 699.8h0M123.1 696.0h0M141.1 697.6h0M121.8 639.5h0M128.6 701.7h0M127.6 698.0h0M137.2 693.2h0M141.1 701.3h0M134.4 701.9h0M141.8 701.0h0M140.6 697.6h0M135.8 699.2h0M142.8 681.4h0M121.4 701.5h0M120.5 693.5h0M139.9 673.5h0M123.0 675.2h0M122.2 662.1h0M119.8 682.4h0M120.6 681.5h0M141.7 668.3h0M139.4 691.1h0M133.7 700.2h0M119.8 690.7h0M139.0 681.3h0M123.1 687.4h0M134.9 701.0h0M122.8 669.9h0M125.1 697.8h0M124.3 699.6h0M120.4 673.7h0M121.5 690.5h0M122.4 700.2h0M121.9 700.7h0M137.4 694.0h0M120.2 692.6h0M141.2 685.2h0M143.8 696.6h0M138.1 695.6h0M123.8 690.6h0M128.8 700.6h0M139.1 680.0h0M140.5 670.7h0M140.6 671.3h0M121.0 674.5h0M121.5 667.2h0M124.1 698.6h0M123.0 699.7h0M143.1 689.8h0M123.6 686.3h0M137.0 702.2h0M139.4 698.7h0M138.8 685.2h0M125.5 687.6h0M142.0 695.5h0M143.8 670.2h0M140.9 682.0h0M137.4 701.4h0M121.1 656.3h0M139.4 702.2h0M119.9 644.9h0M125.2 694.6h0M143.2 698.8h0M141.0 685.0h0M122.8 665.1h0M120.2 694.4h0M141.2 672.8h0M137.6 700.0h0M119.9 696.0h0M120.1 685.1h0M141.5 686.0h0M120.5 688.5h0M142.6 692.1h0M142.1 694.0h0M137.4 692.1h0M127.1 696.8h0M142.5 673.4h0M120.8 667.1h0M121.8 700.7h0M141.9 697.2h0M137.0 693.3h0M141.2 699.2h0M142.4 681.4h0M126.8 694.1h0M143.6 683.2h0M122.4 700.5h0M144.5 680.1h0M135.4 699.3h0M123.7 680.7h0M123.4 692.6h0M123.7 702.2h0M123.5 673.8h0M120.5 700.5h0M138.2 684.6h0M121.5 694.5h0M122.8 688.6h0M124.4 684.8h0M122.8 698.5h0M142.9 651.6h0M136.3 694.3h0M123.4 668.8h0M143.0 662.2h0M142.6 697.1h0M144.3 667.9h0M142.8 666.5h0M139.6 696.3h0M141.8 696.5h0M123.3 691.1h0M120.6 661.2h0M144.3 699.4h0M126.1 689.5h0M139.9 687.7h0M122.2 683.3h0M139.9 698.4h0M122.1 692.3h0M125.4 698.8h0M141.5 699.0h0M144.6 695.0h0M142.5 701.1h0M119.7 694.4h0M139.2 689.9h0M124.1 692.8h0M119.9 698.9h0M122.9 672.9h0M140.0 697.8h0M144.3 643.3h0M142.7 684.2h0M125.6 689.5h0M140.3 675.1h0M138.5 700.5h0M144.5 673.9h0M144.2 701.9h0M126.9 694.0h0M124.8 680.5h0M143.1 678.1h0M140.2 691.3h0M142.7 677.3h0M120.8 695.6h0M142.8 693.0h0M124.5 675.8h0M142.0 658.6h0M142.3 691.7h0M123.9 699.0h0M141.0 672.3h0M136.2 698.3h0M124.0 690.9h0M124.0 677.9h0M141.2 694.3h0M126.8 696.0h0M122.2 698.3h0M139.3 692.2h0M144.1 689.9h0M142.1 699.0h0M129.3 701.9h0M143.2 700.2h0M144.1 672.9h0M124.7 679.2h0M123.0 694.1h0M120.9 690.3h0M122.6 663.7h0M138.1 693.9h0M120.7 698.0h0M140.9 685.0h0M141.9 698.7h0M129.2 701.5h0M126.5 693.5h0M120.9 692.9h0M125.1 695.5h0M121.4 695.6h0M122.7 687.3h0M140.3 694.2h0M122.9 701.4h0M122.8 696.5h0M123.1 669.0h0M134.0 700.5h0M124.0 699.1h0M125.5 684.3h0M136.8 700.0h0M143.2 658.7h0M122.8 699.3h0M137.6 693.7h0M123.9 690.4h0M123.0 696.7h0M120.2 659.9h0M144.4 595.9h0M137.8 701.3h0M122.6 680.3h0M121.8 664.0h0M139.1 696.2h0M124.7 701.1h0M129.7 700.9h0M143.4 696.4h0M120.8 701.7h0M143.8 683.8h0M143.6 699.4h0M138.0 701.7h0M120.1 697.7h0M125.8 701.5h0M120.7 674.3h0M140.1 700.2h0M139.4 677.6h0M136.7 699.1h0M120.1 692.6h0M127.9 695.3h0M122.3 676.4h0M123.1 698.4h0M137.9 686.9h0" stroke="#4169E1" stroke-width="3.2" stroke-linecap="round" stroke-opacity="0.55" fill="none"/>
<path d="M142.2 693.7h0M139.3 692.6h0M142.7 686.4h0M141.8 674.3h0M121.8 697.3h0M120.1 698.2h0M122.0 642.7h0M142.6 657.8h0M120.3 702.2h0M128.0 700.7h0M142.0 660.3h0M140.7 693.1h0M121.6 697.0h0M122.3 674.5h0M138.9 684.9h0M141.7 673.9h0M136.6 691.6h0M122.4 661.5h0M144.6 633.3h0M123.9 689.1h0M143.6 696.8h0M144.1 686.1h0M123.5 685.7h0M125.6 700.4h0M144.2 673.7h0M139.6 690.8h0M128.6 698.5h0M125.8 700.3h0M125.3 683.7h0M119.8 677.8h0M121.6 691.0h0M127.2 698.9h0M127.7 694.5h0M120.1 672.1h0M121.3 695.9h0M144.3 686.2h0M141.2 698.5h0M142.1 687.5h0M124.9 684.3h0M120.9 675.3h0M124.1 688.9h0M139.9 695.8h0M140.7 691.6h0M123.3 690.3h0M120.4 702.2h0M119.7 671.8h0M138.7 700.1h0M138.6 689.1h0M122.5 674.0h0M119.7 679.7h0M126.4 695.9h0M143.9 685.6h0M122.9 684.4h0M141.9 670.3h0M121.9 692.3h0M120.6 674.2h0M120.3 639.4h0M141.9 695.9h0M141.1 671.6h0M141.3 693.2h0M125.0 682.7h0M142.7 701.8h0M141.7 700.2h0M142.9 643.1h0M144.6 677.4h0M143.8 641.7h0M122.0 700.9h0M140.1 677.8h0M122.8 650.8h0M122.0 702.1h0M144.4 700.9h0M121.3 665.3h0M119.9 662.3h0M123.5 673.5h0M142.4 698.5h0M124.4 689.6h0M120.8 676.1h0M120.0 700.5h0M142.2 700.6h0M134.4 701.4h0M143.7 676.2h0M120.5 701.5h0M121.8 691.6h0M138.9 690.0h0M124.4 698.7h0M143.5 680.1h0M140.2 679.1h0M126.7 698.0h0M138.0 691.6h0M121.4 651.6h0M142.7 690.9h0M144.4 687.8h0M120.0 653.3h0M142.2 698.0h0M143.0 692.1h0M139.4 680.6h0M124.9 695.0h0M121.4 673.0h0M125.3 689.4h0M120.1 700.4h0M138.3 692.9h0M143.8 678.5h0M124.6 696.0h0M122.7 679.7h0M140.7 689.8h0M140.8 697.8h0M143.5 681.8h0M142.1 700.1h0M124.8 698.1h0M143.2 658.6h0M141.2 686.2h0M138.0 692.4h0M137.2 699.5h0M141.1 691.0h0M138.4 689.6h0M119.8 697.7h0M142.8 687.3h0M141.0 696.7h0M141.8 680.2h0M121.2 648.1h0M144.4 701.1h0M121.1 686.3h0M121.9 680.9h0M123.6 682.4h0M139.7 701.9h0M127.0 690.6h0M137.7 697.0h0M125.5 700.1h0M123.8 678.1h0M140.7 683.6h0M127.0 697.7h0M123.2 700.5h0M144.3 695.1h0M140.0 694.1h0M126.8 691.6h0M136.7 699.8h0M140.6 688.3h0M139.6 696.5h0M135.6 699.9h0M139.1 698.4h0M136.8 699.3h0M138.3 699.7h0M123.1 672.7h0M126.0 687.6h0M120.3 631.2h0M126.0 699.2h0M125.0 685.9h0M141.9 701.6h0M139.5 701.1h0M139.4 692.8h0M121.5 688.1h0M144.1 678.3h0M144.3 615.4h0M136.6 699.2h0M119.8 678.6h0M121.0 695.5h0M140.1 689.3h0M121.8 698.5h0M125.9 700.7h0M135.5 701.2h0M131.0 702.3h0M139.9 677.1h0M123.7 697.0h0M134.4 702.0h0M123.2 685.4h0M123.6 691.0h0M121.5 655.8h0M143.4 699.4h0M124.3 681.7h0M136.7 700.4h0M138.7 700.3h0M143.6 674.9h0M137.9 698.9h0M140.9 680.6h0M143.0 682.3h0M138.1 685.8h0M122.7 692.4h0M122.4 682.0h0M123.3 681.8h0M120.2 643.6h0M120.5 701.9h0M143.1 660.8h0M143.5 694.6h0M140.8 677.5h0M122.6 699.1h0M125.1 686.9h0M123.4 694.7h0M140.5 677.9h0M119.8 692.3h0M126.8 697.7h0M119.7 661.5h0M120.6 682.5h0M144.5 697.3h0M121.7 702.4h0M142.0 664.9h0M124.4 687.5h0M140.2 685.8h0M141.5 685.5h0M128.0 695.6h0M120.4 695.2h0M141.3 692.0h0M142.0 687.5h0M141.7 652.1h0M141.3 692.2h0M129.4 699.0h0M141.7 681.0h0M144.1 690.9h0M120.6 639.9h0M143.1 689.9h0M138.4 700.6h0M137.4 696.1h0M144.5 699.5h0M120.7 702.1h0M122.0 697.9h0M126.5 699.7h0M143.8 655.7h0M139.5 681.4h0M127.8 698.6h0M125.6 700.5h0M144.5 695.7h0M122.3 680.7h0M124.4 686.6h0M143.5 682.5h0M140.9 692.9h0M140.3 667.9h0M119.9 694.3h0M127.1 692.8h0M144.1 652.5h0M123.0 692.7h0M126.2 696.7h0M138.1 693.9h0M126.4 689.7h0M120.3 673.1h0M124.7 686.3h0M121.2 684.2h0M122.7 670.7h0M137.7 687.0h0M139.4 679.5h0M124.6 677.9h0M142.9 700.9h0M126.8 701.0h0M141.2 681.1h0M119.9 679.3h0M120.0 667.3h0M124.0 692.5h0M126.7 694.4h0M138.8 696.1h0M125.6 683.8h0M120.0 688.5h0M138.5 698.6h0M122.0 687.3h0M143.1 689.4h0M140.2 683.7h0M134.4 701.8h0M143.6 692.9h0M120.8 693.2h0M125.4 683.8h0M141.2 689.8h0M144.1 671.1h0M142.5 701.8h0M139.6 683.1h0M139.0 701.8h0M124.7 692.8h0M124.4 697.0h0M120.7 677.7h0M126.5 695.7h0M121.5 693.5h0M125.6 699.0h0M123.7 695.1h0M143.6 638.0h0M143.7 677.2h0M124.3 700.6h0M120.8 694.2h0M140.5 696.6h0M120.9 683.7h0M120.2 655.8h0M123.3 700.6h0M139.6 696.9h0M124.5 694.6h0M125.1 697.3h0M120.6 697.7h0M144.6 683.7h0M142.7 696.9h0M140.8 693.7h0M138.2 695.9h0M143.1 691.1h0M119.9 700.5h0M123.8 684.8h0M142.5 687.5h0M144.1 691.5h0M143.2 697.7h0M126.1 701.6h0M123.6 674.1h0M142.7 674.9h0M144.2 645.4h0M127.6 697.9h0M128.2 696.6h0M123.2 691.6h0M144.3 642.8h0M141.1 701.8h0M144.0 676.8h0M126.0 697.9h0M122.6 681.4h0M120.7 680.8h0M125.2 702.2h0M144.3 682.6h0M136.5 701.9h0M124.8 696.9h0M120.7 673.9h0M143.3 669.7h0M125.9 693.2h0M141.2 699.5h0M120.3 694.9h0M123.9 673.0h0M122.2 683.0h0M140.9 668.0h0M140.4 676.1h0M143.3 675.2h0M121.4 694.2h0M120.6 674.3h0M126.2 696.2h0M121.0 681.3h0M120.6 696.2h0M144.1 701.0h0M138.4 686.8h0M121.2 656.6h0M142.8 701.1h0M127.8 694.2h0M121.1 699.1h0M142.8 678.3h0M122.9 698.6h0M122.2 676.9h0M144.4 698.0h0M119.9 664.9h0M123.7 672.5h0M119.8 659.0h0M125.4 689.2h0M128.2 697.0h0M124.0 669.7h0M137.7 699.7h0M136.6 695.0h0M143.3 686.9h0M141.8 700.6h0M140.8 691.8h0M122.1 682.6h0M144.3 691.1h0M122.8 684.4h0M144.5 691.0h0M135.2 700.3h0M139.1 696.1h0M120.1 660.1h0M125.6 692.6h0M138.9 687.6h0M124.7 694.4h0M123.1 670.9h0M144.4 641.6h0M121.9 684.6h0M142.5 680.4h0M123.1 683.0h0M123.8 684.7h0M122.5 697.9h0M137.9 692.7h0M128.0 691.0h0M140.0 697.9h0M141.6 698.4h0M136.0 701.6h0M119.9 604.2h0M140.0 699.8h0M136.1 700.4h0M143.7 696.9h0M143.0 697.4h0M122.9 699.2h0M141.4 698.3h0M120.5 694.2h0M138.8 688.7h0M120.8 680.2h0M138.9 694.0h0M120.5 692.0h0M121.1 689.5h0M142.1 667.1h0M128.6 699.9h0M143.9 674.3h0M120.2 698.7h0M127.7 701.7h0M120.8 680.0h0M122.4 685.6h0M122.4 659.7h0M141.9 672.4h0M143.9 681.4h0M119.8 689.4h0M128.3 694.9h0M140.4 691.5h0M120.2 700.7h0M142.5 671.8h0M144.0 681.0h0M119.7 690.3h0M144.1 661.8h0M126.3 691.2h0M144.6 675.6h0M122.6 665.9h0M125.1 699.5h0M141.8 658.6h0M121.5 695.4h0M125.0 698.4h0M121.7 669.3h0M122.5 691.4h0M121.9 694.5h0M144.3 697.5h0M137.2 698.8h0M137.3 701.1h0M139.4 691.2h0M123.7 695.0h0M121.1 648.1h0M144.0 673.5h0M136.6 696.2h0M139.4 684.9h0M123.1 691.7h0M126.6 697.3h0M136.3 697.5h0M137.2 700.8h0M123.5 680.7h0M142.9 650.9h0M137.8 698.5h0M121.8 680.2h0M142.0 691.1h0M120.2 642.9h0M126.6 699.6h0M121.2 697.3h0M141.0 670.3h0M121.9 662.6h0M121.2 685.4h0M139.5 681.2h0M142.5 687.9h0M119.8 618.3h0M121.8 661.1h0M120.2 698.2h0M123.4 691.0h0M123.0 660.5h0M144.4 701.6h0M126.8 698.0h0M124.7 700.5h0M129.0 701.2h0M142.6 701.2h0M122.3 684.0h0M137.6 697.3h0M143.6 646.2h0M121.8 685.2h0M141.1 699.8h0M138.5 682.4h0M135.6 697.0h0M142.3 684.6h0M140.8 698.3h0M122.0 682.2h0M123.1 688.7h0M122.5 700.9h0M139.0 691.6h0M140.3 689.4h0M138.2 693.2h0M122.8 699.7h0M128.7 700.5h0M122.8 699.8h0M137.0 701.8h0M122.1 697.7h0M120.2 697.2h0M144.5 686.1h0M144.3 673.2h0M127.6 701.5h0M121.6 695.2h0M137.0 699.4h0M123.0 692.4h0M144.6 701.7h0M141.1 688.1h0M143.1 696.2h0M124.0 679.9h0M128.0 694.1h0M142.1 688.5h0M141.1 697.7h0M140.3 693.1h0M123.2 699.9h0M120.5 641.5h0M141.5 701.6h0M139.9 701.6h0M137.4 694.6h0M143.4 700.8h0M120.8 700.9h0M137.4 701.4h0M137.0 697.7h0M128.1 697.7h0M143.6 695.6h0M120.7 698.5h0M121.6 694.5h0M144.4 672.7h0M138.6 701.9h0M119.8 662.4h0M137.0 697.3h0M125.1 683.4h0M123.6 684.0h0M144.3 697.5h0M140.9 681.3h0M143.6 698.2h0" stroke="#4169E1" stroke-width="3.2" stroke-linecap="round" stroke-opacity="0.55" fill="none"/>
<path d="M143.8 700.8h0M122.8 676.6h0M125.9 684.3h0M123.6 693.6h0M139.9 701.8h0M121.5 650.6h0M124.8 697.4h0M129.7 702.1h0M126.5 694.8h0M142.5 700.2h0M121.0 687.3h0M143.7 676.9h0M121.5 644.9h0M141.7 698.5h0M123.7 693.2h0M139.7 685.0h0M141.4 684.8h0M124.9 679.2h0M127.1 689.9h0M120.2 682.1h0M123.9 698.5h0M136.8 696.0h0M124.5 676.7h0M124.0 682.9h0M136.6 698.2h0M140.2 692.1h0M143.6 673.0h0M140.8 675.4h0M125.4 686.4h0M126.1 692.1h0M140.0 694.5h0M124.2 682.3h0M125.3 689.3h0M120.3 676.0h0M122.2 698.9h0M122.0 699.5h0M142.6 697.4h0M125.8 696.8h0M144.4 633.7h0M120.2 662.7h0M140.4 685.9h0M126.7 698.7h0M120.0 679.4h0M129.5 701.5h0M123.5 684.3h0M142.5 684.4h0M142.9 692.9h0M121.5 685.7h0M136.4 702.2h0M140.6 688.6h0M142.4 695.7h0M139.7 693.3h0M138.3 686.5h0M142.2 681.7h0M144.5 628.2h0M142.2 665.3h0M121.8 677.4h0M143.7 701.1h0M142.6 688.4h0M122.1 672.0h0M119.8 689.9h0M141.5 664.4h0M120.4 687.5h0M123.0 674.5h0M126.7 692.6h0M120.6 641.1h0M134.7 700.8h0M140.6 675.5h0M142.6 681.8h0M123.5 661.3h0M119.8 664.5h0M142.3 683.1h0M142.7 669.9h0M121.6 699.2h0M125.3 699.3h0M121.3 695.6h0M123.9 702.3h0M122.4 671.5h0M123.3 680.0h0M144.1 657.3h0M142.8 700.1h0M120.4 692.2h0M143.1 685.8h0M121.7 646.9h0M123.4 669.9h0M141.9 669.3h0M144.3 693.4h0M144.4 693.6h0M142.3 684.1h0M120.2 684.3h0M142.9 700.9h0M120.4 701.0h0M142.7 652.3h0M124.3 676.8h0M137.2 698.4h0M126.6 694.0h0M121.1 696.1h0M125.0 686.6h0M121.4 699.1h0M128.5 701.3h0M138.0 690.9h0M140.4 690.5h0M124.7 695.0h0M137.6 694.2h0M142.6 680.9h0M120.6 689.9h0M141.7 699.7h0M124.1 701.0h0M121.0 696.0h0M119.8 701.1h0M143.9 643.0h0M139.6 683.9h0M122.3 693.3h0M144.2 698.9h0M143.5 699.6h0M121.9 701.6h0M141.2 701.2h0M138.7 696.8h0M127.5 702.1h0M144.3 675.5h0M140.2 701.2h0M119.8 625.1h0M120.3 647.3h0M122.3 663.5h0M142.0 684.1h0M144.3 650.1h0M119.7 675.0h0M142.1 671.1h0M144.1 649.7h0M128.5 698.1h0M125.1 702.0h0M142.6 661.7h0M139.1 690.6h0M122.4 699.2h0M138.5 700.2h0M121.9 689.0h0M126.6 697.3h0M137.7 695.5h0M126.5 694.5h0M144.1 695.3h0M139.9 697.6h0M140.9 680.6h0M142.3 661.3h0M123.1 692.1h0M121.1 701.4h0M121.3 671.9h0M136.2 692.9h0M120.5 688.8h0M141.5 690.8h0M121.1 652.7h0M141.5 691.0h0M143.4 687.2h0M140.6 696.4h0M138.5 687.3h0M142.3 684.1h0M128.7 698.4h0M121.1 683.5h0M126.1 691.2h0M143.9 672.9h0M122.7 673.3h0M124.8 696.4h0M140.0 671.2h0M123.5 677.5h0M128.0 700.1h0M129.1 701.5h0M144.3 688.3h0M124.3 693.4h0M121.8 700.0h0M122.9 673.3h0M141.0 698.9h0M141.1 702.3h0M141.7 695.0h0M140.9 676.6h0M142.5 672.1h0M139.9 701.9h0M124.2 695.5h0M120.1 695.5h0M120.7 693.5h0M120.0 693.1h0M130.1 702.3h0M137.4 700.2h0M128.3 700.6h0M122.2 698.9h0M142.0 660.1h0M139.7 680.4h0M142.5 635.3h0M134.3 702.2h0M120.5 657.9h0M119.7 602.7h0M144.4 691.2h0M143.2 673.6h0M126.1 680.1h0M125.0 692.8h0M124.2 698.4h0M144.1 697.7h0M139.3 701.0h0M123.3 702.1h0M127.5 692.5h0M144.1 702.4h0M141.8 680.7h0M123.2 701.5h0M124.7 682.4h0M138.7 684.6h0M144.3 685.1h0M141.4 696.6h0M142.1 687.8h0M139.6 700.1h0M125.2 692.7h0M144.5 700.1h0M139.0 699.6h0M141.2 691.3h0M143.8 690.1h0M126.6 691.3h0M143.9 653.2h0M120.4 701.8h0M123.6 692.5h0M122.6 696.6h0M121.0 687.7h0M141.4 688.2h0M144.4 667.2h0M125.0 694.7h0M144.3 689.4h0M143.0 696.3h0M143.9 677.8h0M123.5 686.3h0M122.3 657.7h0M122.4 692.1h0M122.2 666.5h0M142.0 680.0h0M143.0 683.8h0M122.0 687.9h0M128.5 698.1h0M140.5 702.1h0M138.0 688.8h0M142.4 700.7h0M123.1 690.1h0M119.8 691.6h0M124.6 683.0h0M123.7 676.2h0M123.1 682.3h0M139.7 696.0h0M121.7 697.4h0M142.0 669.2h0M125.4 687.5h0M124.8 698.4h0M143.1 674.7h0M142.4 676.6h0M120.6 701.4h0M144.1 673.3h0M121.4 700.1h0M135.2 699.9h0M143.6 693.8h0M141.7 666.5h0M141.7 671.6h0M142.4 684.3h0M139.1 689.9h0M140.5 670.4h0M127.0 694.3h0M135.7 699.8h0M121.0 682.6h0M138.6 695.5h0M120.7 668.2h0M144.5 698.3h0M121.6 682.9h0M143.5 694.6h0M123.7 673.8h0M122.0 685.1h0M141.9 697.9h0M125.9 701.4h0M135.3 702.3h0M138.1 689.2h0M122.4 692.1h0M126.4 695.3h0M141.1 673.4h0M123.0 698.0h0M136.7 702.2h0M123.4 686.6h0M121.4 696.5h0M124.2 688.7h0M141.8 686.1h0M120.5 638.1h0M121.9 662.4h0M142.6 691.0h0M143.8 680.4h0M123.1 694.8h0M139.4 695.4h0M120.4 670.6h0M120.7 699.5h0M125.3 686.2h0M120.6 677.7h0M135.7 702.4h0M121.5 700.7h0M125.4 685.1h0M120.5 664.8h0M123.8 698.4h0M141.8 691.9h0M144.4 692.9h0M139.1 693.6h0M125.9 692.7h0M121.0 662.3h0M121.4 683.4h0M141.1 669.0h0M125.7 691.8h0M141.1 690.0h0M142.9 699.3h0M124.4 676.2h0M121.5 699.3h0M143.3 672.8h0M142.5 652.2h0M138.9 690.8h0M135.4 701.9h0M142.5 700.7h0M141.7 648.7h0M143.9 633.2h0M120.2 678.7h0M141.6 700.9h0M140.3 698.0h0M143.4 682.5h0M138.8 684.2h0M123.5 674.4h0M143.2 683.0h0M137.8 700.5h0M124.3 689.3h0M124.2 685.5h0M137.8 698.3h0M141.9 689.3h0M121.0 688.8h0M138.9 690.5h0M122.8 692.6h0M139.2 695.8h0M125.2 701.9h0M121.5 659.1h0M139.7 687.8h0M142.5 653.6h0M139.4 691.1h0M123.8 692.0h0M123.8 683.5h0M142.0 677.0h0M144.2 673.1h0M135.9 701.6h0M137.3 702.4h0M138.4 693.7h0M123.1 698.8h0M128.0 699.8h0M126.4 697.5h0M138.4 698.5h0M141.0 666.0h0M120.2 626.5h0M137.7 686.9h0M121.4 694.7h0M140.9 675.6h0M127.7 700.6h0M138.2 700.5h0M138.4 698.6h0M120.4 680.1h0M126.7 689.4h0M143.5 692.4h0M124.7 682.7h0M122.7 669.5h0M129.3 700.0h0M133.5 701.6h0M122.4 667.2h0M137.3 692.8h0M144.3 689.8h0M144.3 701.0h0M123.0 673.1h0M144.3 647.8h0M122.4 686.1h0M126.8 698.9h0M137.8 693.8h0M137.3 701.5h0M141.8 668.4h0M120.3 663.7h0M141.5 680.0h0M125.1 694.7h0M139.2 690.9h0M124.8 676.5h0M119.8 661.2h0M121.5 697.4h0M140.8 681.9h0M122.8 675.9h0M140.8 685.7h0M142.3 685.8h0M137.4 693.8h0M120.7 679.5h0M142.1 699.0h0M120.8 698.7h0M122.8 691.3h0M123.6 698.9h0M140.4 674.0h0M121.4 663.3h0M141.2 692.1h0M125.6 696.7h0M122.0 677.5h0M120.4 677.1h0M142.3 699.1h0M120.2 686.9h0M120.1 628.0h0M142.9 690.2h0M120.8 694.3h0M121.5 697.9h0M136.0 698.7h0M119.9 693.5h0M120.2 695.4h0M136.0 695.9h0M121.6 696.7h0M122.2 693.2h0M143.7 678.6h0M121.6 664.1h0M139.9 691.5h0M129.6 700.8h0M122.8 691.3h0M135.6 698.3h0M125.1 687.4h0M124.8 686.4h0M121.1 693.1h0M124.3 679.5h0M143.4 700.4h0M143.2 676.4h0M142.1 696.7h0M138.3 702.2h0M137.2 692.5h0M122.1 656.6h0M121.4 701.4h0M135.3 699.0h0M124.6 683.5h0M121.3 688.9h0M122.4 690.0h0M124.5 684.7h0M120.7 677.3h0M143.9 677.1h0M137.1 697.1h0M124.6 678.7h0M144.5 665.9h0M137.3 689.1h0M129.3 698.8h0M122.1 699.0h0M121.1 653.3h0M135.7 701.7h0M120.1 681.1h0M135.4 702.3h0M124.7 685.8h0M123.9 685.3h0M143.1 672.1h0M139.7 701.5h0M126.9 698.2h0M122.6 650.4h0M121.5 689.6h0M121.8 669.2h0M139.9 702.3h0M144.0 698.4h0M136.1 701.2h0M140.9 671.0h0M142.1 667.9h0M126.9 697.8h0M125.3 700.0h0M124.9 684.2h0M126.0 699.3h0M137.7 700.4h0M122.5 669.8h0M122.1 695.0h0M119.8 678.4h0M142.3 692.1h0M120.8 694.8h0M143.5 701.4h0M139.7 696.1h0M138.5 698.6h0M120.0 609.1h0M126.2 685.6h0M120.0 682.7h0M122.3 680.1h0M121.4 673.2h0M138.2 687.1h0M143.2 675.9h0M141.2 698.9h0M126.1 690.2h0M140.7 694.8h0M121.9 699.5h0M123.1 697.5h0M120.5 662.1h0M138.8 683.5h0M120.0 674.5h0M122.5 677.8h0M142.6 694.4h0M135.4 701.3h0M127.4 696.9h0M137.8 698.4h0M128.2 694.1h0M135.8 702.1h0M122.8 698.2h0M141.2 698.4h0M121.6 685.7h0M124.3 700.7h0M120.2 670.3h0M139.9 693.4h0M141.9 700.9h0M126.2 700.7h0M123.2 675.3h0M141.7 670.3h0M138.8 700.2h0" stroke="#4169E1" stroke-width="3.2" stroke-linecap="round" stroke-opacity="0.55" fill="none"/>
<path d="M121.2 695.1h0M139.1 693.7h0M120.2 700.3h0M121.7 698.2h0M142.8 671.6h0M126.4 696.5h0M143.3 670.5h0M124.9 684.8h0M120.6 669.6h0M123.6 698.4h0M127.7 694.9h0M120.0 692.3h0M124.9 669.8h0M123.1 681.6h0M134.4 700.6h0M125.1 700.4h0M140.5 694.8h0M123.9 681.9h0M141.0 682.6h0M124.3 688.5h0M140.5 676.5h0M123.7 697.6h0M119.7 670.6h0M125.2 696.3h0M128.0 695.1h0M138.7 682.0h0M143.4 690.0h0M124.6 702.3h0M138.4 691.0h0M124.1 700.8h0M141.0 702.2h0M124.1 692.8h0M137.0 701.6h0M144.4 697.0h0M139.1 689.4h0M122.8 698.0h0M143.2 694.1h0M141.8 662.5h0M120.1 699.6h0M142.0 697.9h0M121.3 693.9h0M138.1 693.6h0M121.1 673.7h0M141.8 700.4h0M122.8 681.0h0M121.5 669.6h0M124.8 688.5h0M141.8 697.8h0M137.9 697.6h0M126.1 698.4h0M122.0 679.9h0M138.3 696.7h0M143.6 677.1h0M142.5 689.9h0M144.4 648.9h0M136.9 689.3h0M141.8 672.3h0M139.5 701.3h0M141.5 695.9h0M127.6 698.8h0M123.2 702.2h0M124.5 684.8h0M128.7 698.0h0M124.7 689.3h0M141.8 684.8h0M143.6 691.2h0M144.0 668.8h0M137.4 696.3h0M122.6 682.7h0M142.5 694.0h0M140.5 683.6h0M144.6 692.5h0M144.2 694.4h0M142.3 695.9h0M121.9 657.7h0M143.6 700.3h0M143.6 634.0h0M141.6 690.9h0M125.6 685.2h0M120.4 686.3h0M124.9 683.1h0M141.4 676.2h0M138.7 692.9h0M141.3 671.3h0M140.9 695.7h0M141.9 672.4h0M143.6 656.3h0M135.9 693.2h0M124.7 687.9h0M119.9 691.2h0M143.4 659.2h0M123.6 681.6h0M120.8 677.4h0M144.4 698.4h0M123.5 700.6h0M144.5 638.1h0M142.3 692.5h0M144.2 695.9h0M144.5 695.0h0M120.3 693.3h0M125.2 698.1h0M122.8 683.6h0M129.3 700.9h0M120.0 614.0h0M135.9 698.0h0M138.4 693.4h0M135.4 700.1h0M138.0 690.5h0M140.4 690.3h0M142.0 686.0h0M144.5 665.4h0M126.2 697.7h0M140.0 700.3h0M126.3 688.5h0M128.4 698.9h0M141.5 662.6h0M120.1 689.2h0M139.5 688.3h0M123.4 697.7h0M128.0 697.3h0M121.4 693.8h0M121.2 665.3h0M123.2 699.8h0M120.4 699.6h0M127.3 690.9h0M141.9 694.5h0M120.5 686.8h0M138.0 689.9h0M140.0 670.6h0M121.9 694.2h0M124.2 683.3h0M142.4 693.5h0M136.5 698.1h0M143.3 685.8h0M138.5 688.6h0M128.1 700.9h0M144.5 694.8h0M142.8 702.2h0M142.2 687.4h0M143.4 667.2h0M124.4 679.8h0M122.2 687.6h0M142.9 688.4h0M120.0 667.8h0M120.1 686.1h0M120.7 649.3h0M141.1 697.2h0M127.8 700.4h0M123.9 686.6h0M124.3 699.6h0M124.1 695.3h0M141.9 683.4h0M120.1 688.1h0M128.1 698.0h0M141.0 689.2h0M137.9 687.8h0M121.7 667.4h0M142.7 700.1h0M142.1 684.2h0M125.1 696.0h0M138.0 695.9h0M137.8 691.5h0M120.9 651.0h0M141.3 693.3h0M124.3 697.0h0M126.3 687.8h0M122.0 640.4h0M123.1 661.4h0M139.9 698.7h0M140.7 693.4h0M124.4 678.9h0M119.8 692.9h0M121.2 666.7h0M140.7 692.1h0M140.9 669.7h0M123.1 655.6h0M139.1 680.0h0M122.6 687.1h0M123.2 681.7h0M122.8 700.4h0M143.6 676.7h0M128.7 699.3h0M143.3 702.1h0M143.5 693.6h0M120.3 651.2h0M138.1 686.4h0M138.1 684.6h0M121.9 670.4h0M120.9 690.4h0M142.2 691.1h0M122.8 675.9h0M142.7 652.9h0M126.8 697.8h0M140.6 671.0h0M122.5 667.4h0M121.5 673.4h0M122.2 694.0h0M125.0 690.8h0M139.9 695.9h0M140.1 695.0h0M120.3 683.6h0M141.7 693.9h0M120.7 699.5h0M121.0 666.1h0M142.3 695.4h0M121.8 688.4h0M125.3 694.1h0M141.7 699.2h0M135.1 702.3h0M121.1 694.8h0M119.9 694.1h0M121.5 676.0h0M120.7 697.1h0M144.5 664.8h0M143.8 660.9h0M127.9 698.8h0M142.8 691.3h0M137.7 693.7h0M127.7 699.8h0M141.0 700.9h0M142.8 639.1h0M127.0 693.2h0M143.8 700.0h0M124.1 675.2h0M122.1 685.3h0M122.8 680.9h0M120.3 624.6h0M143.5 696.2h0M124.5 682.2h0M143.7 685.4h0M143.6 695.5h0M140.1 675.9h0M142.7 692.1h0M122.8 678.0h0M121.3 695.8h0M138.8 701.4h0M126.4 698.0h0M121.3 665.5h0M143.2 659.4h0M142.5 697.1h0M124.1 701.5h0M140.3 687.6h0M142.8 689.3h0M120.9 702.0h0M126.3 700.4h0M141.4 678.6h0M122.2 689.7h0M127.0 697.1h0M121.3 694.6h0M135.8 699.6h0M142.1 694.1h0M139.4 698.0h0M141.7 668.9h0M139.1 698.4h0M121.4 682.0h0M141.4 692.9h0M138.9 697.9h0M128.3 701.6h0M137.6 696.9h0M139.4 694.9h0M123.7 697.3h0M139.6 688.7h0M121.4 658.7h0M123.8 678.1h0M138.7 692.0h0M120.5 675.5h0M137.1 693.4h0M142.7 686.5h0M120.8 664.4h0M120.8 690.3h0M140.7 698.8h0M143.3 674.5h0M128.3 698.9h0M120.3 680.9h0M141.7 687.1h0M121.0 642.0h0M141.8 670.1h0M123.6 690.9h0M142.7 653.7h0M139.5 700.6h0M122.5 677.2h0M143.5 699.9h0M124.4 695.6h0M141.2 701.5h0M139.6 699.5h0M125.9 686.4h0M142.5 692.1h0M123.6 700.6h0M123.6 689.9h0M120.5 658.4h0M121.0 664.5h0M138.6 697.7h0M139.7 679.0h0M123.1 671.2h0M119.9 625.2h0M140.6 668.0h0M144.2 679.5h0M144.5 605.3h0M136.7 698.3h0M122.9 699.3h0M136.1 700.4h0M120.6 696.1h0M120.7 636.4h0M141.5 686.3h0M137.0 696.1h0M123.6 701.7h0M139.7 678.4h0M143.8 692.2h0M124.4 701.8h0M141.0 683.9h0M123.6 700.9h0M122.4 696.2h0M120.6 637.8h0M142.8 683.4h0M143.7 687.3h0M125.4 684.1h0M122.7 665.1h0M125.4 690.4h0M136.2 699.6h0M124.9 701.5h0M133.5 701.9h0M136.7 691.4h0M140.1 676.3h0M139.2 683.3h0M121.3 678.7h0M121.1 697.3h0M121.0 651.1h0M123.4 700.2h0M121.2 637.5h0M123.1 683.8h0M120.8 649.2h0M124.0 682.5h0M124.4 678.6h0M122.8 696.9h0M141.1 702.3h0M124.7 679.7h0M138.7 685.4h0M136.4 693.1h0M121.7 694.5h0M121.9 698.9h0M144.0 659.3h0M139.5 697.8h0M120.7 644.9h0M123.2 690.3h0M120.3 606.2h0M120.4 680.7h0M120.0 650.5h0M124.5 680.2h0M141.1 699.1h0M144.3 648.5h0M120.4 669.7h0M121.8 700.5h0M122.7 688.1h0M124.4 693.6h0M120.4 699.8h0M122.0 689.3h0M140.4 690.4h0M123.6 669.0h0M143.7 650.8h0M136.7 699.9h0M138.2 680.2h0M141.2 698.7h0M137.6 700.9h0M136.4 696.8h0M124.8 696.8h0M128.4 698.1h0M139.0 690.0h0M143.1 680.0h0M124.7 692.1h0M142.6 680.6h0M143.4 696.3h0M123.7 698.6h0M140.0 696.2h0M126.8 695.3h0M121.2 694.8h0M121.7 700.5h0M144.3 696.2h0M137.9 701.7h0M125.6 689.1h0M125.7 684.8h0M143.1 702.2h0M142.1 700.0h0M127.4 700.6h0M123.8 693.5h0M142.8 676.9h0M141.3 670.4h0M122.3 672.7h0M143.1 659.4h0M121.0 661.9h0M125.8 681.9h0M137.1 700.5h0M127.7 699.0h0M122.1 691.7h0M142.8 662.0h0M142.3 668.9h0M138.5 676.4h0M122.4 695.4h0M141.4 700.0h0M120.6 698.4h0M142.1 700.5h0M142.8 690.7h0M138.6 698.0h0M143.3 683.8h0M136.9 691.8h0M141.1 684.4h0M139.9 690.1h0M137.9 699.1h0M143.1 679.4h0M144.3 652.1h0M143.9 691.5h0M121.3 661.9h0M126.0 688.3h0M139.9 694.8h0M144.0 696.1h0M126.7 695.8h0M122.8 700.9h0M124.5 682.6h0M125.1 701.9h0M120.4 692.3h0M121.9 681.4h0M141.9 652.5h0M139.1 696.1h0M125.8 690.7h0M142.3 688.8h0M126.3 692.0h0M120.0 687.7h0M141.1 669.0h0M127.7 699.6h0M120.2 675.4h0M139.5 698.7h0M128.8 700.8h0M120.3 697.4h0M141.7 657.7h0M142.4 692.0h0M139.3 702.1h0M120.0 700.3h0M139.9 691.6h0M138.0 695.1h0M120.1 687.5h0M140.9 696.6h0M125.8 696.7h0M121.2 698.7h0M124.9 679.5h0M124.6 702.3h0M142.8 677.8h0M139.2 690.4h0M137.6 695.8h0M122.6 675.8h0M136.1 695.8h0M142.7 666.9h0M139.3 691.4h0M142.8 691.1h0M125.5 692.1h0M144.3 621.3h0M121.3 683.1h0M122.2 658.5h0M125.0 682.0h0M141.1 688.0h0M125.8 693.7h0M127.5 695.7h0M123.4 682.8h0M137.9 684.0h0M143.4 674.6h0M121.2 646.9h0M139.2 684.2h0M126.9 697.7h0M124.8 701.7h0M120.8 685.0h0M143.9 682.4h0M123.7 693.8h0M120.0 690.4h0M138.2 700.9h0M142.4 677.8h0M123.9 691.5h0M140.3 699.8h0M143.7 693.9h0M124.2 691.5h0M142.3 691.6h0M141.2 684.7h0M142.0 701.8h0M120.7 696.3h0M143.0 690.6h0M124.0 661.1h0M125.6 694.7h0M140.7 670.3h0M144.1 665.0h0M137.5 689.9h0M120.3 663.5h0M144.4 673.8h0M142.0 658.5h0M144.3 683.5h0M121.6 700.1h0M139.0 701.7h0M125.1 700.7h0M128.0 700.7h0M140.5 689.0h0M137.9 702.1h0M144.0 685.8h0M121.1 668.6h0M140.6 700.8h0" stroke="#4169E1" stroke-width="3.2" stroke-linecap="round" stroke-opacity="0.55" fill="none"/>
<path d="M110.1 637.9h0M99.4 630.0h0M152.5 656.8h0M107.9 700.5h0M155.6 669.9h0M173.2 696.6h0M158.9 662.3h0M116.1 604.2h0M172.4 698.5h0M152.5 646.3h0M109.8 677.4h0M103.9 663.8h0M115.7 682.2h0M112.0 699.3h0M161.5 671.6h0M115.2 692.7h0M112.2 695.5h0M160.2 672.4h0M150.6 609.6h0M94.9 689.6h0M114.7 650.2h0M148.2 651.7h0M108.6 664.0h0M152.7 619.3h0M148.8 700.6h0M165.0 683.1h0M116.2 690.4h0M106.4 675.2h0M150.0 697.6h0M156.5 683.6h0M150.5 630.2h0M155.6 660.7h0M150.7 617.4h0M148.3 604.6h0M165.1 654.3h0M149.6 654.8h0M114.2 673.1h0M156.0 657.9h0M111.3 645.0h0M113.5 702.2h0M111.9 650.0h0M176.2 684.5h0M160.1 614.8h0M115.6 618.4h0M148.6 651.1h0M185.0 687.3h0M114.9 624.1h0M105.9 691.6h0M115.7 624.2h0M154.9 638.3h0M188.6 695.1h0M116.2 688.8h0M114.4 673.5h0M114.4 620.7h0M114.8 657.3h0M113.5 675.2h0M104.1 699.5h0M105.0 631.7h0M113.7 672.4h0M149.6 625.7h0M149.8 660.9h0M185.3 697.7h0M106.1 672.8h0M152.8 643.6h0M152.0 503.4h0M164.4 690.4h0M148.3 647.0h0M152.6 617.2h0M149.3 678.9h0M87.2 698.8h0M148.4 690.3h0M182.8 701.3h0M178.1 700.7h0M153.2 634.4h0M156.9 698.8h0M149.2 617.1h0M151.5 643.8h0M149.3 599.0h0M148.0 691.0h0M149.9 633.1h0M106.9 681.7h0M150.7 665.6h0M101.2 677.4h0M114.1 673.1h0M111.3 661.1h0M154.8 700.8h0M109.2 666.5h0M111.4 690.1h0M105.3 673.5h0M154.1 648.0h0M148.8 617.9h0M115.0 634.5h0M154.3 626.8h0M176.1 702.1h0M151.3 639.2h0M148.9 673.0h0M71.3 700.3h0M113.9 667.3h0M155.5 637.1h0M153.4 626.4h0M153.8 689.7h0M154.4 659.3h0M149.4 602.4h0M110.9 682.9h0M113.8 686.4h0M72.6 696.0h0M114.6 636.6h0M163.2 654.8h0M107.6 668.9h0M153.7 687.2h0M156.0 665.2h0M110.5 653.5h0M152.8 635.7h0M115.8 642.0h0M151.6 695.9h0M154.3 657.1h0M148.7 631.2h0M100.0 691.9h0M106.6 668.3h0M155.6 642.9h0M149.7 674.2h0M151.9 639.6h0M111.6 680.0h0M150.5 646.8h0M107.3 625.7h0M157.3 666.2h0M111.5 675.9h0M150.0 620.7h0M115.4 639.9h0M162.0 683.6h0M149.6 666.4h0M156.2 702.3h0M158.5 622.6h0M150.7 690.0h0M150.8 633.6h0M171.0 701.5h0M153.6 646.3h0M109.3 685.2h0M115.1 646.7h0M104.2 682.6h0M155.4 673.8h0M92.0 683.5h0M101.0 692.0h0M153.1 658.8h0M147.9 687.3h0M151.1 648.7h0M108.1 663.7h0M152.1 625.8h0M163.7 658.6h0M157.5 676.9h0M154.4 689.5h0M161.8 667.2h0M149.0 597.6h0M112.2 668.7h0M115.2 643.7h0M149.7 615.0h0M159.0 675.0h0M151.0 694.3h0M152.3 630.9h0M179.7 702.3h0M106.4 685.9h0M87.1 646.1h0M157.0 689.1h0M165.4 701.2h0M148.4 669.5h0M148.1 637.3h0M147.9 663.3h0M173.9 699.7h0M163.7 639.9h0M80.5 533.2h0M148.6 689.8h0M94.2 698.9h0M158.2 581.1h0M149.8 661.0h0M151.3 659.2h0M153.9 700.8h0M97.7 681.5h0M156.3 647.5h0M150.8 665.8h0M168.6 698.4h0M161.2 691.3h0M153.4 643.5h0M152.8 702.1h0M154.5 663.8h0M115.4 628.8h0M107.7 678.7h0M180.0 699.2h0M152.9 688.8h0M148.3 661.0h0M107.0 670.9h0M152.7 674.0h0M113.7 690.1h0M150.1 611.0h0M148.2 616.3h0M165.5 640.2h0M150.6 614.6h0M169.1 692.3h0M151.1 618.1h0M100.4 699.4h0M148.5 648.5h0M106.9 700.3h0M110.2 682.4h0M115.5 668.3h0M105.8 677.1h0M148.1 701.0h0M89.9 665.0h0M153.5 660.1h0M69.0 696.2h0M162.3 667.9h0M111.0 684.5h0M151.2 701.0h0M168.8 682.6h0M106.2 699.1h0M157.1 652.8h0M88.0 701.4h0M164.8 624.5h0M106.2 700.9h0M97.9 696.6h0M148.8 629.5h0M150.9 584.8h0M158.0 679.0h0M148.0 639.2h0M153.1 645.0h0M159.0 699.0h0M150.3 618.3h0M162.5 687.2h0M183.2 684.9h0M154.2 701.9h0M164.7 686.0h0M99.4 697.8h0M112.7 701.0h0M149.1 618.4h0M148.8 616.2h0M155.7 657.3h0M110.8 669.3h0M150.8 607.9h0M155.8 686.8h0M151.7 666.9h0M115.0 681.4h0M110.2 687.0h0M102.8 664.3h0M115.9 668.4h0M150.1 627.2h0M155.3 699.2h0M155.7 683.9h0M111.7 685.0h0M160.3 665.2h0M148.8 687.4h0M163.8 605.6h0M166.1 688.6h0M88.1 701.2h0M112.0 695.6h0M147.8 634.0h0M159.2 665.7h0M152.1 617.7h0M158.9 680.1h0M115.6 701.6h0M105.3 680.7h0M101.9 681.2h0M155.4 689.3h0M161.0 594.5h0M148.7 664.3h0M110.3 651.4h0M149.1 677.6h0M115.2 645.7h0M110.7 695.6h0M93.2 697.0h0M114.7 661.7h0M91.9 698.6h0M165.3 699.5h0M149.0 683.1h0M151.5 664.4h0M115.9 663.7h0M105.1 679.6h0M114.4 689.7h0M65.4 693.6h0M109.3 673.6h0M111.3 693.0h0M166.6 696.7h0M155.5 644.9h0M152.9 693.1h0M151.2 664.7h0M115.8 657.1h0M100.5 640.7h0M148.9 696.8h0M163.2 692.7h0M110.5 661.9h0M154.8 653.1h0M112.0 682.6h0M156.1 659.7h0M148.2 668.8h0M151.3 633.2h0M169.1 668.7h0M160.1 701.2h0M183.4 691.8h0M107.5 690.2h0M159.7 687.0h0M116.3 584.5h0M158.3 674.0h0M169.4 695.9h0M154.2 634.0h0M148.1 666.2h0M155.9 670.3h0M170.9 683.9h0M114.9 655.3h0M114.4 668.6h0M99.7 681.8h0M107.0 700.6h0M149.2 618.9h0M110.9 611.3h0M148.2 595.9h0M109.5 672.5h0M164.9 700.2h0M101.1 680.9h0M155.1 690.0h0M171.0 696.4h0M96.7 684.8h0M167.0 697.1h0M112.8 676.7h0M72.2 682.8h0M97.2 687.7h0M110.1 662.9h0M112.5 667.0h0M160.0 695.1h0M156.3 652.4h0M148.8 664.7h0M147.9 682.7h0M110.4 660.0h0M164.7 674.3h0M94.1 698.4h0M159.4 670.6h0M116.1 638.3h0M115.2 641.1h0M109.6 702.3h0M169.8 686.8h0M115.4 672.2h0M105.7 687.3h0M115.4 629.5h0M148.1 660.7h0M174.6 697.4h0M107.8 668.1h0M165.0 687.6h0M148.1 632.2h0M174.4 697.2h0M152.0 697.9h0M162.5 677.1h0M111.3 667.3h0M154.3 648.8h0M175.7 693.8h0M154.8 683.3h0M112.1 695.6h0M147.9 632.3h0M163.1 680.2h0M155.8 639.9h0M163.6 681.5h0M149.0 618.6h0M151.2 681.5h0M108.4 661.2h0M149.2 691.7h0M159.7 692.7h0M155.3 640.9h0M158.5 667.7h0M98.8 669.2h0M148.1 610.0h0M153.5 656.7h0M115.5 613.4h0M162.4 666.5h0M164.9 671.1h0M111.9 680.8h0M155.5 679.0h0M152.2 668.9h0M68.5 694.0h0M108.4 634.0h0M149.0 660.3h0M108.7 701.4h0M99.2 691.4h0M152.7 634.7h0M152.8 679.6h0M107.0 698.2h0M100.4 671.1h0M147.9 632.7h0M99.2 677.7h0M151.0 653.8h0M157.2 696.3h0M112.6 642.4h0M104.1 681.2h0M157.1 651.1h0M149.9 697.1h0M102.3 553.9h0M98.3 695.9h0M172.1 675.4h0M113.9 627.1h0M151.6 624.4h0M109.2 672.7h0M114.5 638.4h0M116.2 608.7h0M115.9 657.0h0M156.9 692.3h0M99.7 688.0h0M149.1 627.9h0M160.7 687.8h0M115.7 650.1h0M103.9 685.4h0M156.8 689.2h0M115.4 643.5h0M166.6 686.2h0M149.4 621.0h0M149.6 652.6h0M109.1 572.9h0M147.9 681.5h0M154.7 690.7h0M167.3 686.0h0M149.2 626.1h0M106.1 681.0h0M112.9 677.6h0M159.6 660.6h0M148.0 644.1h0M152.6 650.5h0M159.4 697.6h0M111.1 523.1h0M113.1 684.7h0M155.2 629.8h0M154.4 643.8h0M159.2 662.8h0M116.3 667.2h0M111.6 646.9h0M150.7 695.1h0M155.9 696.5h0M103.7 700.1h0M153.4 662.0h0M165.2 692.2h0M114.6 666.4h0M152.4 657.9h0M114.1 634.8h0M81.0 559.7h0M148.5 547.2h0M148.7 639.4h0M176.9 698.8h0M170.4 629.9h0M150.3 683.7h0M153.2 621.5h0M70.7 674.7h0M149.9 663.1h0M114.9 673.7h0M104.8 695.2h0M161.8 566.1h0M71.8 696.5h0M155.0 701.2h0M163.2 694.9h0M101.3 683.4h0M161.9 685.7h0M104.4 695.9h0M150.0 622.9h0M153.9 651.3h0M162.8 690.1h0M153.4 636.6h0M148.7 606.8h0M164.0 699.5h0M154.8 700.7h0M107.9 700.4h0M101.0 667.6h0M96.6 697.2h0M112.6 624.7h0M157.1 648.3h0M153.3 672.4h0M179.0 697.0h0M149.5 658.4h0M155.1 654.3h0M114.2 640.1h0M106.5 640.0h0M163.9 684.6h0M151.9 626.5h0M150.4 695.2h0M156.2 687.5h0M148.9 681.9h0M170.3 677.4h0M158.2 690.2h0M86.0 691.5h0M116.3 660.5h0M152.9 693.2h0M159.9 639.0h0M116.4 597.6h0M112.7 641.4h0M155.4 675.5h0M108.4 686.6h0M161.7 699.4h0M156.6 617.8h0M158.1 658.3h0M163.8 688.1h0M114.8 646.3h0M116.0 668.0h0M95.3 691.1h0M156.9 686.9h0M114.1 626.4h0M100.8 696.0h0M116.0 612.8h0M107.2 696.6h0M112.6 580.6h0M152.9 667.4h0M104.6 689.1h0M152.0 688.4h0M110.9 686.5h0M163.8 684.1h0M161.1 679.6h0M149.5 697.7h0M152.3 636.4h0M103.4 629.3h0M148.7 673.9h0M160.3 664.1h0M113.4 682.7h0M160.8 692.3h0M166.6 684.1h0M162.1 678.3h0M148.7 698.9h0M150.9 650.2h0M115.1 655.4h0M156.1 688.5h0M149.0 702.2h0M153.1 699.3h0M147.9 540.2h0M164.0 617.9h0M148.0 673.3h0M114.0 657.0h0M98.1 679.9h0M111.2 666.5h0M150.0 701.3h0M114.9 631.5h0M156.8 675.1h0M152.1 639.7h0M151.3 683.2h0M116.5 609.4h0M109.4 683.4h0M165.4 683.7h0M153.8 651.2h0M111.6 701.8h0M157.6 649.7h0M152.8 572.5h0M115.7 624.3h0M116.4 630.8h0M166.9 696.8h0M116.2 610.0h0M161.3 699.6h0M116.3 681.4h0M113.3 690.9h0M151.6 680.6h0M154.9 688.7h0M113.6 671.4h0M163.7 697.4h0M106.7 589.4h0M158.6 693.5h0M160.3 702.2h0M154.2 685.7h0M93.5 687.4h0M166.5 698.3h0M149.4 634.5h0M113.2 626.7h0M149.7 632.9h0M159.8 665.5h0M148.0 642.4h0M112.5 694.2h0M98.2 692.0h0M88.7 691.1h0M180.2 699.1h0M149.3 647.9h0M93.6 687.8h0M150.8 619.8h0M106.1 678.4h0M154.7 692.1h0M101.3 692.1h0M149.1 663.1h0M114.0 697.4h0M156.2 677.7h0M105.4 677.1h0M112.9 696.3h0M174.2 677.9h0M158.6 662.0h0M112.4 679.5h0M152.5 620.6h0M159.3 684.1h0M98.5 633.3h0M166.0 652.9h0M152.0 646.9h0M102.8 674.8h0M105.4 664.1h0M109.3 696.2h0M160.1 656.4h0M103.7 698.8h0M115.8 680.5h0M109.3 663.3h0M157.3 695.3h0M110.9 693.2h0M105.4 694.9h0M150.1 650.2h0M81.4 663.7h0M149.1 644.9h0M160.6 665.2h0M152.5 617.5h0M164.7 682.8h0M96.0 701.5h0M178.9 681.1h0" stroke="#EE0000" stroke-width="3.2" stroke-linecap="round" stroke-opacity="0.55" fill="none"/>
<path d="M111.9 700.1h0M112.7 668.8h0M160.5 692.0h0M148.0 637.7h0M115.6 701.8h0M112.9 686.1h0M153.0 628.6h0M114.3 664.7h0M153.0 617.6h0M101.3 701.8h0M154.2 634.0h0M107.5 681.1h0M111.2 686.2h0M164.0 683.4h0M156.5 675.2h0M110.4 700.1h0M76.1 631.1h0M174.4 698.3h0M84.7 620.3h0M162.3 679.9h0M112.0 670.2h0M158.3 678.2h0M161.7 697.3h0M111.8 689.2h0M104.0 693.9h0M108.6 658.4h0M150.4 693.1h0M105.8 683.4h0M159.2 691.7h0M150.6 687.2h0M154.1 691.9h0M147.9 596.7h0M150.9 657.4h0M102.5 701.9h0M82.2 693.3h0M112.4 700.6h0M150.1 668.2h0M102.5 693.0h0M150.2 624.2h0M158.9 640.2h0M116.4 597.1h0M165.0 691.5h0M73.6 691.5h0M149.2 621.1h0M148.2 653.7h0M159.9 606.5h0M149.6 657.0h0M104.8 700.7h0M149.6 630.2h0M87.0 698.1h0M155.8 681.5h0M113.3 683.8h0M165.7 690.7h0M96.6 655.8h0M151.7 679.3h0M157.4 683.7h0M160.4 693.8h0M99.4 664.4h0M166.9 664.8h0M106.1 655.1h0M148.8 604.4h0M170.9 650.1h0M149.4 619.8h0M114.6 685.3h0M114.1 623.8h0M108.6 658.2h0M149.7 638.3h0M115.9 637.5h0M109.2 699.1h0M105.7 674.1h0M99.8 637.6h0M99.1 669.2h0M101.7 672.1h0M151.9 670.0h0M105.1 678.2h0M99.6 698.8h0M69.0 686.0h0M158.8 669.6h0M189.1 689.2h0M91.7 646.2h0M149.1 640.6h0M158.1 700.1h0M96.0 691.5h0M112.1 702.3h0M151.8 633.8h0M155.2 663.6h0M114.9 657.0h0M106.4 667.6h0M102.7 691.1h0M152.9 659.7h0M96.8 657.3h0M114.7 635.4h0M109.4 679.0h0M151.5 637.8h0M107.0 701.2h0M148.4 598.8h0M160.0 683.8h0M151.2 634.3h0M111.2 673.3h0M116.0 611.6h0M107.5 676.7h0M93.4 695.9h0M165.2 691.7h0M112.0 690.2h0M114.7 689.0h0M152.3 676.4h0M159.4 670.6h0M115.6 609.0h0M116.4 668.5h0M147.9 690.1h0M156.7 697.4h0M113.8 700.6h0M92.6 697.0h0M152.6 620.9h0M76.6 560.5h0M109.1 647.6h0M155.7 693.7h0M149.3 676.7h0M154.9 654.8h0M113.2 692.0h0M104.0 690.2h0M166.4 638.7h0M115.9 635.7h0M168.9 697.3h0M160.2 663.7h0M110.7 696.2h0M149.7 645.4h0M111.5 690.4h0M172.5 700.0h0M154.9 693.4h0M157.2 680.4h0M99.4 689.6h0M149.8 691.1h0M93.9 496.7h0M115.9 609.5h0M153.8 653.4h0M112.5 641.2h0M114.4 679.5h0M164.0 680.5h0M152.6 644.7h0M148.4 601.9h0M116.2 669.6h0M148.8 611.0h0M148.5 607.0h0M148.8 637.3h0M150.3 638.2h0M173.2 698.3h0M115.8 683.0h0M170.3 692.9h0M162.1 590.1h0M109.8 698.8h0M98.0 692.7h0M153.7 667.9h0M109.0 692.6h0M103.3 694.9h0M113.7 690.4h0M178.1 700.9h0M152.1 652.7h0M148.0 696.1h0M161.3 702.3h0M150.8 658.8h0M155.0 683.7h0M107.6 671.7h0M95.1 683.6h0M116.4 679.0h0M100.2 686.5h0M148.1 592.9h0M102.7 660.1h0M113.9 640.0h0M150.4 688.3h0M150.1 628.0h0M168.8 647.2h0M115.2 696.2h0M100.5 680.6h0M155.2 699.6h0M115.3 665.0h0M104.3 687.2h0M112.8 674.2h0M157.0 634.0h0M106.0 660.0h0M105.0 671.8h0M103.3 649.9h0M98.4 689.7h0M153.2 516.8h0M161.3 668.1h0M116.1 600.4h0M114.2 688.2h0M75.8 693.2h0M154.5 690.0h0M101.1 681.9h0M148.9 600.5h0M155.5 674.2h0M157.5 696.7h0M111.7 701.4h0M157.2 702.0h0M105.2 659.8h0M114.6 642.6h0M97.3 675.1h0M164.6 669.8h0M92.3 679.0h0M87.1 689.6h0M89.5 680.4h0M160.4 676.1h0M153.8 675.9h0M113.8 696.2h0M115.2 666.1h0M106.4 683.1h0M92.5 696.2h0M155.9 687.7h0M116.3 698.3h0M101.7 668.5h0M109.5 654.2h0M152.1 641.5h0M156.8 657.2h0M101.9 678.6h0M152.3 647.0h0M165.0 701.1h0M104.0 682.1h0M150.5 690.1h0M160.6 675.6h0M148.2 697.5h0M150.4 637.8h0M114.4 621.6h0M85.9 700.6h0M148.7 684.4h0M112.0 662.6h0M155.6 651.1h0M84.5 675.5h0M111.5 515.1h0M103.3 696.0h0M158.5 700.9h0M150.5 626.4h0M106.1 677.1h0M112.4 684.6h0M154.8 692.9h0M153.6 694.1h0M148.2 657.7h0M161.8 680.2h0M167.3 686.0h0M150.5 664.0h0M108.3 692.5h0M113.9 680.6h0M173.4 685.9h0M115.3 619.7h0M159.4 687.3h0M148.0 603.5h0M149.0 621.2h0M168.6 698.4h0M111.6 694.9h0M82.4 694.3h0M152.3 622.0h0M161.9 685.3h0M111.0 684.5h0M114.8 677.9h0M114.6 680.9h0M148.2 625.1h0M96.1 695.6h0M153.0 672.4h0M162.6 689.2h0M158.5 689.7h0M111.9 696.6h0M99.6 658.1h0M153.5 644.7h0M110.2 624.4h0M176.0 699.1h0M85.2 689.7h0M113.7 640.3h0M148.6 627.1h0M116.2 621.2h0M152.9 639.7h0M150.6 689.5h0M115.8 604.1h0M159.4 668.0h0M110.3 617.3h0M166.2 659.9h0M115.2 615.1h0M159.6 681.5h0M109.6 665.1h0M158.4 696.0h0M157.0 674.4h0M111.8 650.4h0M170.9 700.2h0M153.6 607.7h0M116.1 680.3h0M168.6 692.8h0M148.6 630.2h0M156.6 644.5h0M108.1 668.8h0M148.1 669.6h0M112.5 649.1h0M93.8 695.9h0M166.7 679.9h0M153.9 670.7h0M109.9 698.5h0M112.6 647.3h0M153.9 693.4h0M101.4 699.1h0M149.2 689.5h0M156.5 665.2h0M149.7 687.1h0M107.5 686.3h0M156.3 692.8h0M110.9 669.0h0M173.7 693.5h0M97.8 564.3h0M109.6 696.8h0M152.6 696.2h0M155.3 658.6h0M150.0 586.9h0M152.9 634.4h0M110.9 673.3h0M113.3 641.8h0M163.6 699.4h0M98.0 701.1h0M100.6 632.8h0M114.3 626.3h0M105.7 695.2h0M150.5 631.5h0M148.7 643.7h0M103.8 680.7h0M152.3 676.9h0M152.2 624.2h0M112.3 683.5h0M110.8 658.4h0M111.4 650.7h0M107.5 700.3h0M148.0 685.9h0M165.5 686.5h0M155.0 657.6h0M157.1 693.0h0M178.6 701.7h0M115.4 647.1h0M80.3 690.1h0M149.4 631.2h0M148.4 638.9h0M155.1 633.8h0M149.9 623.4h0M106.3 670.5h0M169.3 698.2h0M149.4 666.4h0M163.2 696.0h0M106.3 678.5h0M149.8 607.1h0M159.0 702.0h0M104.7 684.2h0M115.4 635.0h0M115.6 677.2h0M115.6 694.2h0M166.3 690.4h0M153.5 688.9h0M163.4 695.1h0M113.7 651.6h0M114.5 620.7h0M159.7 684.3h0M172.1 626.4h0M151.1 690.5h0M90.6 702.0h0M108.1 699.7h0M114.7 668.8h0M148.2 682.6h0M164.2 675.3h0M148.9 690.6h0M114.8 639.8h0M113.9 687.8h0M154.0 627.5h0M161.4 692.0h0M151.5 688.9h0M99.7 685.3h0M162.1 694.0h0M115.0 641.3h0M83.4 700.4h0M153.8 639.5h0M106.5 616.8h0M152.3 625.9h0M152.1 679.7h0M158.0 669.1h0M159.3 693.7h0M154.8 688.0h0M107.6 684.3h0M154.5 665.0h0M175.8 699.7h0M150.0 678.6h0M150.5 697.0h0M154.3 672.4h0M177.2 645.3h0M165.3 676.0h0M152.1 689.9h0M113.2 700.4h0M152.0 644.6h0M106.1 687.9h0M157.7 654.2h0M94.8 696.2h0M101.5 701.3h0M97.7 702.2h0M164.1 698.5h0M154.0 662.0h0M112.1 688.3h0M105.1 681.0h0M104.0 695.8h0M164.0 677.5h0M148.3 655.2h0M156.9 678.9h0M149.9 652.7h0M161.7 702.1h0M153.1 676.8h0M148.8 649.3h0M155.1 610.4h0M148.9 657.1h0M115.9 612.9h0M161.2 701.7h0M152.4 653.9h0M182.3 689.8h0M174.7 695.9h0M155.3 676.3h0M156.1 695.1h0M103.6 677.8h0M149.5 692.3h0M164.6 607.6h0M107.2 695.8h0M162.5 700.6h0M154.5 689.5h0M155.9 696.4h0M111.7 690.3h0M152.7 692.0h0M148.7 684.6h0M151.5 641.8h0M159.2 699.3h0M148.5 546.6h0M114.3 669.8h0M149.1 700.5h0M149.0 642.3h0M115.3 653.3h0M100.4 692.8h0M112.5 689.8h0M152.9 696.8h0M152.9 640.4h0M104.7 609.8h0M104.2 694.9h0M152.7 626.9h0M109.4 662.1h0M159.4 678.0h0M68.3 692.1h0M114.3 692.9h0M149.3 656.9h0M151.0 675.6h0M113.5 689.3h0M113.3 653.3h0M158.6 678.8h0M80.4 675.4h0M153.4 624.1h0M152.7 670.8h0M116.0 664.7h0M158.4 658.4h0M158.8 675.1h0M150.6 684.4h0M108.3 670.5h0M74.7 631.4h0M116.4 656.6h0M97.0 506.9h0M96.5 696.3h0M167.2 677.3h0M150.5 659.1h0M154.1 691.8h0M112.8 644.3h0M150.2 604.9h0M115.3 688.1h0M149.6 611.6h0M108.3 659.0h0M149.1 652.4h0M112.8 672.6h0M149.8 603.7h0M113.0 684.9h0M113.8 701.4h0M113.1 651.9h0M165.0 701.0h0M108.2 509.3h0M101.9 643.1h0M153.0 683.1h0M150.1 702.2h0M114.1 657.5h0M154.8 638.0h0M150.1 669.1h0M159.6 663.1h0M155.9 654.2h0M149.2 671.8h0M151.1 641.5h0M148.2 694.8h0M151.9 645.2h0M110.9 664.7h0M82.4 653.5h0M157.2 681.3h0M153.5 684.3h0M154.8 641.7h0M148.7 694.0h0M152.8 657.3h0M107.8 672.8h0M96.8 669.0h0M170.3 691.7h0M156.7 665.5h0M149.9 652.6h0M108.2 663.8h0M161.3 699.5h0M167.3 688.6h0M152.1 694.6h0M149.1 650.8h0M115.4 637.6h0M158.6 611.9h0M157.1 672.2h0M157.3 689.5h0M115.9 623.9h0M104.1 676.2h0M115.4 656.1h0M150.3 639.7h0M149.8 623.8h0M153.7 673.5h0M116.4 660.7h0M150.9 635.5h0M112.8 636.9h0M116.4 631.0h0M92.1 699.8h0M155.4 501.1h0M162.0 675.6h0M155.5 676.5h0M160.0 688.9h0M149.3 598.6h0M149.5 669.6h0M148.3 637.9h0M155.7 691.8h0M148.3 667.1h0M153.2 643.6h0M113.4 631.6h0M154.8 693.8h0M151.4 623.8h0M154.6 701.0h0M152.5 697.0h0M157.2 655.5h0M101.1 666.0h0M90.7 654.0h0M116.4 676.6h0M154.2 629.1h0M87.4 687.6h0M152.7 646.0h0M107.1 678.1h0M96.7 694.0h0M83.2 670.9h0M112.6 698.0h0M107.1 661.1h0M151.2 624.2h0M110.3 644.1h0M110.9 638.7h0M156.6 653.3h0M114.5 655.1h0M152.3 631.1h0M92.5 698.2h0M160.6 696.8h0M164.6 696.3h0M112.7 695.0h0M150.9 656.3h0M154.4 655.6h0M149.6 644.8h0M104.1 681.7h0M115.8 651.2h0M150.6 692.7h0M90.2 687.7h0M148.8 646.3h0M150.8 609.6h0M157.7 692.9h0M162.7 695.4h0M111.7 697.6h0M152.2 686.0h0M116.3 684.0h0M172.0 695.5h0M162.0 697.0h0M152.3 674.6h0M113.7 701.6h0M148.4 628.8h0M104.4 682.8h0M109.6 656.7h0M102.0 694.2h0M98.2 664.1h0M101.7 699.4h0M155.2 691.4h0M113.8 655.8h0M115.3 688.7h0M116.3 605.1h0M152.1 639.7h0M101.9 692.5h0M182.0 696.2h0M153.5 664.2h0M157.0 680.6h0M151.2 695.2h0M103.8 690.4h0M159.9 700.1h0M108.1 641.8h0M148.2 690.3h0M116.1 701.3h0M155.5 685.2h0M151.5 617.0h0M105.6 700.5h0M116.3 612.3h0" stroke="#EE0000" stroke-width="3.2" stroke-linecap="round" stroke-opacity="0.55" fill="none"/>
<path d="M154.9 685.5h0M150.4 610.9h0M112.0 688.2h0M174.1 695.6h0M150.6 635.7h0M102.6 692.7h0M150.4 692.8h0M114.7 634.1h0M160.2 687.3h0M101.7 692.7h0M148.5 676.2h0M157.3 651.1h0M108.3 697.7h0M177.1 694.9h0M164.9 685.2h0M166.3 668.8h0M115.5 631.1h0M148.0 694.0h0M113.6 657.0h0M115.3 648.3h0M150.1 651.9h0M150.5 608.6h0M159.9 683.9h0M157.1 664.7h0M150.8 644.2h0M112.2 648.8h0M100.7 698.6h0M158.3 684.0h0M102.9 677.3h0M147.9 644.1h0M106.1 701.7h0M149.2 614.1h0M157.4 650.8h0M103.7 686.3h0M172.8 696.4h0M160.0 623.2h0M155.1 682.1h0M83.9 659.4h0M148.0 640.5h0M108.5 701.5h0M114.1 636.9h0M105.5 688.7h0M105.0 671.4h0M151.9 648.1h0M147.9 617.4h0M116.0 611.5h0M161.9 694.1h0M84.4 685.0h0M149.8 697.9h0M111.9 684.5h0M106.6 573.2h0M157.3 691.2h0M110.2 702.0h0M154.6 634.1h0M148.5 664.4h0M112.7 677.4h0M84.2 549.3h0M155.4 680.0h0M153.6 634.9h0M85.6 649.4h0M113.6 687.7h0M153.3 668.7h0M92.1 693.7h0M112.7 667.1h0M152.6 636.9h0M151.0 698.9h0M101.2 697.2h0M108.4 673.0h0M103.9 687.5h0M156.8 674.8h0M159.4 681.7h0M170.7 701.9h0M114.2 645.0h0M148.6 689.0h0M115.8 606.0h0M158.7 681.2h0M109.1 666.5h0M114.3 701.0h0M148.8 608.0h0M163.2 687.7h0M116.4 599.3h0M114.3 700.4h0M150.8 630.6h0M92.3 687.4h0M115.5 682.2h0M93.0 699.6h0M115.2 642.7h0M86.8 609.9h0M115.4 681.4h0M153.5 689.3h0M159.2 672.4h0M158.5 697.7h0M149.7 562.2h0M81.8 693.8h0M96.6 678.7h0M106.7 645.9h0M149.5 695.1h0M109.8 651.9h0M107.3 684.1h0M99.8 683.5h0M158.2 683.4h0M153.1 666.4h0M75.3 601.8h0M161.7 690.3h0M148.6 678.2h0M149.2 653.3h0M109.2 679.6h0M154.1 698.2h0M159.4 685.5h0M164.6 695.6h0M112.9 650.0h0M159.9 699.3h0M84.7 699.3h0M159.0 695.9h0M155.2 666.7h0M149.6 670.4h0M155.5 692.6h0M74.2 680.6h0M115.0 682.2h0M153.7 689.1h0M93.1 675.2h0M150.2 615.1h0M96.2 615.4h0M151.8 645.7h0M116.4 599.2h0M109.3 700.4h0M103.7 678.6h0M148.3 646.0h0M150.5 620.3h0M148.7 662.6h0M151.8 675.7h0M92.0 700.4h0M170.6 664.8h0M166.9 687.4h0M156.9 669.8h0M93.7 655.5h0M88.7 676.4h0M116.4 642.1h0M174.4 701.7h0M98.0 688.9h0M155.1 698.0h0M177.3 683.8h0M153.5 652.8h0M107.0 670.1h0M166.4 688.2h0M149.0 606.2h0M80.2 652.5h0M148.8 685.3h0M152.8 661.9h0M115.3 618.0h0M114.4 670.4h0M150.9 625.9h0M97.8 671.2h0M148.6 649.2h0M149.1 658.3h0M157.3 669.6h0M148.3 657.5h0M75.4 664.9h0M111.8 700.2h0M148.5 601.4h0M150.5 638.9h0M108.7 695.5h0M162.1 674.5h0M114.7 675.5h0M155.2 699.7h0M150.0 616.8h0M167.1 686.7h0M101.7 681.4h0M165.9 671.3h0M153.6 665.3h0M105.5 659.7h0M154.2 686.3h0M106.5 672.7h0M156.1 674.3h0M110.5 660.3h0M107.0 664.7h0M156.1 669.6h0M96.5 653.7h0M189.6 700.6h0M107.0 692.7h0M161.2 670.8h0M114.7 679.4h0M170.1 695.5h0M150.2 628.4h0M109.3 680.4h0M99.5 672.9h0M153.0 618.8h0M109.4 677.8h0M99.8 687.9h0M100.3 678.3h0M148.9 653.5h0M104.9 689.3h0M172.8 687.8h0M168.9 697.7h0M114.0 674.5h0M171.1 693.1h0M149.7 654.3h0M188.3 690.5h0M153.9 673.1h0M95.5 689.4h0M111.0 701.5h0M110.0 650.5h0M149.9 607.7h0M81.4 678.6h0M170.5 697.7h0M150.1 637.6h0M107.2 691.6h0M106.1 687.2h0M151.9 689.0h0M155.8 614.7h0M104.0 699.1h0M91.4 691.2h0M116.4 667.4h0M154.8 642.3h0M155.4 645.5h0M112.2 688.3h0M156.0 686.3h0M148.0 645.4h0M109.8 696.1h0M116.3 637.0h0M109.5 653.4h0M171.6 701.6h0M150.8 629.6h0M155.9 701.8h0M114.9 653.0h0M150.3 606.0h0M110.0 700.3h0M169.6 673.0h0M167.9 698.6h0M155.1 640.7h0M97.3 690.7h0M167.8 694.1h0M110.4 702.1h0M152.5 672.2h0M153.8 624.9h0M156.4 658.0h0M103.7 563.2h0M151.0 624.9h0M158.9 696.3h0M89.1 630.5h0M167.3 693.1h0M159.4 665.5h0M160.8 685.1h0M152.6 698.5h0M106.1 667.2h0M94.5 681.4h0M95.1 696.4h0M113.6 700.0h0M150.5 621.3h0M114.2 668.0h0M154.8 690.3h0M113.0 660.3h0M105.0 687.1h0M77.5 686.5h0M116.4 667.3h0M152.0 631.3h0M69.9 687.8h0M156.9 699.6h0M147.9 673.0h0M107.6 691.1h0M179.1 695.0h0M166.4 679.9h0M157.8 666.3h0M99.8 685.7h0M176.2 700.6h0M155.2 652.8h0M113.8 694.2h0M149.2 613.6h0M104.7 696.4h0M108.6 637.0h0M154.5 669.8h0M116.2 694.7h0M160.8 686.5h0M115.9 691.7h0M114.7 697.7h0M116.1 627.1h0M115.7 689.4h0M156.6 694.7h0M108.4 678.2h0M115.1 695.9h0M163.9 678.2h0M159.0 676.1h0M101.8 680.2h0M101.5 679.3h0M151.2 622.6h0M99.9 673.3h0M72.9 688.3h0M87.2 697.5h0M153.9 668.0h0M148.3 616.5h0M150.1 623.1h0M160.8 677.7h0M166.3 691.7h0M114.6 688.6h0M154.5 645.5h0M169.3 684.4h0M158.0 660.5h0M100.9 695.6h0M81.2 578.9h0M110.9 659.1h0M90.3 558.7h0M97.6 682.6h0M115.1 662.5h0M93.9 690.2h0M87.4 688.5h0M108.3 672.4h0M154.9 692.5h0M173.4 697.3h0M158.2 688.6h0M114.1 671.8h0M148.3 647.5h0M151.8 671.7h0M149.2 660.3h0M115.8 655.1h0M103.6 702.1h0M151.0 633.7h0M165.0 695.2h0M148.9 606.4h0M110.5 667.0h0M149.1 616.7h0M151.6 681.2h0M85.6 688.3h0M113.9 662.3h0M170.1 689.9h0M107.6 659.4h0M153.8 625.6h0M151.2 637.0h0M79.3 643.3h0M149.5 603.7h0M114.6 628.4h0M148.3 575.2h0M152.1 694.3h0M114.2 635.8h0M115.8 670.6h0M152.0 603.9h0M158.5 676.5h0M110.4 687.6h0M110.0 665.2h0M161.2 684.3h0M148.3 694.2h0M115.0 675.5h0M169.1 698.2h0M115.7 700.9h0M102.7 678.2h0M155.3 627.3h0M110.9 690.7h0M152.1 648.6h0M148.6 594.4h0M156.0 627.9h0M148.2 633.7h0M174.0 667.6h0M115.2 629.3h0M114.3 623.7h0M150.9 625.8h0M112.7 696.9h0M98.6 657.3h0M71.6 656.4h0M166.0 690.1h0M161.9 689.1h0M158.9 679.2h0M67.8 693.4h0M148.5 675.9h0M114.7 628.9h0M160.6 665.7h0M167.0 692.0h0M152.3 637.8h0M182.6 689.2h0M160.7 700.7h0M165.1 701.2h0M76.7 700.1h0M148.0 651.3h0M159.9 676.8h0M107.0 665.6h0M148.0 545.0h0M157.0 678.0h0M149.6 602.1h0M116.2 692.7h0M156.5 679.7h0M92.6 681.8h0M112.0 688.3h0M156.6 650.9h0M148.1 689.5h0M113.8 680.1h0M153.9 648.0h0M109.6 680.0h0M114.5 608.1h0M115.7 612.5h0M148.0 668.2h0M112.7 682.9h0M148.2 677.4h0M167.1 693.2h0M156.0 654.9h0M156.6 657.3h0M107.1 663.2h0M156.6 685.3h0M151.6 690.8h0M95.0 644.9h0M112.1 648.2h0M112.3 639.7h0M156.4 671.5h0M155.9 683.7h0M152.0 658.9h0M114.0 688.4h0M102.9 693.8h0M104.6 655.7h0M148.9 614.9h0M106.2 675.6h0M99.1 694.2h0M153.8 697.8h0M111.2 649.5h0M156.1 650.4h0M174.3 698.6h0M173.4 696.1h0M101.4 679.6h0M159.7 666.5h0M101.9 674.5h0M148.9 679.9h0M115.6 658.7h0M115.8 630.3h0M149.4 669.4h0M153.0 634.9h0M155.7 641.0h0M152.6 628.9h0M150.6 667.1h0M171.6 694.9h0M190.5 683.6h0M116.1 609.5h0M112.6 668.2h0M158.8 675.0h0M97.9 646.7h0M177.4 690.4h0M113.5 637.7h0M165.4 652.1h0M151.0 616.3h0M150.5 628.6h0M176.0 699.7h0M68.2 694.1h0M160.5 694.5h0M152.3 684.2h0M81.4 676.8h0M111.9 695.2h0M105.1 664.1h0M155.4 695.3h0M148.2 696.3h0M148.2 678.3h0M98.1 687.0h0M91.6 681.9h0M84.2 643.9h0M155.8 659.2h0M155.1 702.1h0M115.4 625.2h0M91.9 635.6h0M92.5 660.3h0M166.4 690.9h0M109.1 697.1h0M113.1 648.4h0M116.0 638.1h0M164.3 659.3h0M102.8 653.4h0M150.9 666.8h0M187.5 697.3h0M164.1 694.4h0M155.4 694.5h0M154.5 665.7h0M182.8 700.1h0M112.2 558.5h0M101.5 680.3h0M115.1 639.6h0M114.0 655.5h0M116.2 695.7h0M162.2 701.9h0M147.9 650.6h0M162.7 681.1h0M152.3 670.9h0M148.6 653.7h0M106.3 678.4h0M151.0 653.0h0M100.0 659.1h0M115.3 676.4h0M148.4 601.0h0M114.8 634.2h0M111.4 699.3h0M163.1 691.6h0M111.9 662.7h0M149.5 687.3h0M164.5 681.1h0M102.5 697.8h0M164.1 682.3h0M90.0 664.9h0M149.0 671.7h0M109.8 665.7h0M152.4 658.9h0M149.3 673.0h0M89.6 684.9h0M164.3 692.5h0M105.3 696.3h0M150.5 610.9h0M101.7 696.4h0M148.7 602.5h0M148.2 699.5h0M148.2 643.1h0M87.5 691.1h0M148.7 655.6h0M110.1 663.1h0M110.9 635.5h0M155.3 701.6h0M116.2 597.9h0M148.7 668.6h0M149.6 624.8h0M152.9 640.1h0M148.4 627.2h0M151.0 627.2h0M149.5 653.6h0M100.4 661.6h0M115.6 621.7h0M108.9 671.8h0M159.6 673.4h0M155.8 660.7h0M165.7 688.3h0M157.6 687.0h0M155.7 643.7h0M147.9 602.7h0M100.0 687.0h0M101.0 698.8h0M112.1 680.7h0M88.0 694.4h0M154.5 663.2h0M158.6 667.2h0M151.8 679.2h0M165.6 684.1h0M150.6 635.7h0M153.7 688.4h0M149.2 639.1h0M91.1 694.4h0M157.8 687.3h0M153.3 495.3h0M100.8 680.6h0M148.5 613.1h0M106.9 675.7h0M148.8 677.1h0M78.0 678.7h0M149.1 646.7h0M155.0 639.9h0M148.4 679.3h0M106.4 665.1h0M110.8 659.4h0M116.4 693.0h0M110.8 670.8h0M116.3 610.3h0M155.9 642.3h0M115.5 622.1h0M148.7 596.1h0M97.5 666.3h0M77.6 699.7h0M151.2 655.0h0M152.8 625.9h0M148.0 699.0h0M156.8 653.5h0M152.1 697.9h0M112.0 652.1h0M154.4 650.7h0M115.0 698.8h0M158.1 690.3h0M158.0 659.2h0M165.1 699.2h0M150.1 605.9h0M157.9 682.3h0M148.0 693.7h0M155.4 639.0h0M150.1 685.6h0M94.9 692.5h0M106.3 664.8h0M161.3 659.8h0M163.1 504.0h0M177.7 679.3h0M150.7 698.5h0M171.4 700.3h0M97.4 688.3h0M152.4 664.5h0M149.2 700.5h0M153.7 583.6h0M108.7 671.3h0M114.2 664.4h0M151.6 650.0h0M155.3 690.1h0M115.7 669.0h0M115.1 614.8h0M114.9 633.5h0M96.6 701.4h0M151.5 643.8h0M148.4 664.4h0M153.7 622.5h0M114.5 663.4h0M151.6 677.9h0M114.4 692.9h0M163.7 699.1h0M97.4 694.0h0M164.2 678.5h0M115.6 680.1h0M150.4 650.6h0" stroke="#EE0000" stroke-width="3.2" stroke-linecap="round" stroke-opacity="0.55" fill="none"/>
<path d="M164.0 691.1h0M149.2 668.9h0M114.1 653.3h0M80.8 694.2h0M153.8 560.6h0M148.7 699.7h0M101.8 685.9h0M151.5 634.7h0M168.2 692.7h0M87.2 691.7h0M73.8 622.8h0M99.4 684.8h0M150.1 667.5h0M154.1 681.7h0M115.2 699.9h0M151.1 665.2h0M153.4 629.6h0M115.1 670.9h0M106.8 652.0h0M149.7 638.0h0M154.0 654.3h0M96.9 659.2h0M149.6 680.0h0M100.3 684.1h0M158.3 701.1h0M114.7 615.7h0M153.0 691.6h0M114.5 619.7h0M77.0 701.7h0M114.3 630.1h0M113.4 699.0h0M152.8 590.8h0M154.3 638.0h0M154.5 694.5h0M158.6 689.9h0M149.3 641.4h0M160.4 699.8h0M167.4 697.7h0M156.8 682.0h0M150.0 690.1h0M149.4 693.4h0M153.9 659.0h0M116.4 617.3h0M158.1 670.9h0M158.3 699.8h0M116.3 646.3h0M69.5 690.5h0M161.1 680.2h0M116.5 698.9h0M109.3 678.4h0M100.3 697.8h0M152.2 615.1h0M150.5 698.1h0M104.4 591.7h0M157.1 663.2h0M151.3 651.7h0M149.4 599.5h0M116.4 634.5h0M76.3 688.5h0M115.5 657.4h0M116.3 601.2h0M163.7 658.6h0M83.2 686.7h0M156.7 664.2h0M149.6 644.8h0M71.5 699.1h0M165.1 689.2h0M114.1 694.5h0M160.1 688.8h0M156.6 687.4h0M153.5 671.2h0M153.0 678.4h0M151.9 689.8h0M168.3 688.9h0M148.9 691.0h0M116.2 667.3h0M148.0 595.4h0M113.6 630.0h0M110.5 696.0h0M98.9 701.8h0M115.4 642.5h0M152.7 632.5h0M100.1 693.2h0M114.4 646.1h0M149.8 628.8h0M156.0 683.5h0M103.3 671.4h0M100.0 689.4h0M168.7 702.0h0M171.3 692.8h0M182.7 683.4h0M115.8 631.5h0M154.0 667.3h0M157.3 654.5h0M153.7 685.3h0M112.5 637.8h0M148.9 678.4h0M152.6 657.3h0M101.0 700.7h0M111.2 697.0h0M97.6 690.1h0M155.7 653.7h0M168.6 695.0h0M155.6 663.6h0M150.5 680.5h0M114.8 679.4h0M150.3 685.3h0M152.7 686.4h0M113.0 681.2h0M98.2 686.5h0M87.3 684.8h0M153.9 674.9h0M149.6 634.7h0M148.1 679.4h0M154.5 701.0h0M151.3 554.2h0M103.8 695.4h0M149.7 629.0h0M161.1 676.6h0M98.2 687.1h0M157.5 653.4h0M90.7 659.6h0M166.6 684.7h0M166.7 701.6h0M153.7 655.6h0M148.7 617.7h0M158.3 642.9h0M94.5 642.2h0M111.9 695.0h0M149.6 660.9h0M103.6 700.6h0M151.5 691.4h0M156.9 687.6h0M156.5 659.6h0M168.8 696.2h0M100.8 679.5h0M115.1 683.0h0M72.0 645.4h0M106.0 691.1h0M152.4 661.9h0M108.3 700.6h0M164.5 689.5h0M116.1 606.7h0M159.5 684.4h0M157.4 653.0h0M100.5 687.3h0M151.8 616.9h0M174.7 679.4h0M153.5 624.4h0M148.6 698.3h0M148.2 687.4h0M111.5 668.0h0M148.4 701.1h0M153.2 659.4h0M74.4 685.3h0M150.9 599.2h0M157.0 690.6h0M153.5 665.1h0M97.0 680.1h0M102.8 652.5h0M102.4 690.8h0M152.7 699.7h0M161.1 702.3h0M78.1 649.3h0M116.4 608.2h0M157.0 601.7h0M114.4 697.1h0M155.3 674.6h0M159.2 698.7h0M113.0 682.6h0M114.6 631.0h0M100.7 695.5h0M152.4 648.2h0M157.1 627.0h0M91.7 698.0h0M114.1 685.3h0M116.3 686.4h0M152.2 637.1h0M115.5 674.3h0M156.7 652.6h0M155.5 698.2h0M106.8 560.7h0M107.7 689.2h0M148.7 682.9h0M114.5 689.0h0M148.8 696.5h0M157.7 673.3h0M106.2 666.0h0M112.1 698.3h0M107.9 660.2h0M106.5 602.7h0M109.0 659.1h0M148.6 611.6h0M155.4 654.6h0M151.0 631.4h0M114.8 645.8h0M114.4 693.1h0M158.9 658.1h0M107.9 652.1h0M148.6 693.5h0M98.4 692.8h0M98.2 667.6h0M148.6 564.7h0M114.9 655.9h0M99.4 677.5h0M147.8 594.4h0M150.7 619.5h0M101.3 679.0h0M109.3 650.3h0M165.7 692.2h0M149.4 601.2h0M149.0 665.4h0M169.4 694.6h0M116.4 621.7h0M153.9 701.4h0M115.8 627.3h0M102.8 694.4h0M148.0 594.6h0M116.0 696.5h0M89.8 655.5h0M151.8 625.6h0M152.7 686.2h0M99.9 679.8h0M152.9 677.0h0M108.3 699.2h0M148.5 623.1h0M148.4 610.4h0M171.4 694.3h0M152.9 628.1h0M159.3 687.2h0M149.8 657.2h0M154.5 683.4h0M86.7 630.9h0M158.9 690.6h0M172.6 694.6h0M164.6 691.2h0M149.7 613.9h0M115.2 631.8h0M99.7 692.3h0M159.1 687.2h0M152.7 669.0h0M112.9 597.2h0M152.4 669.9h0M173.0 679.5h0M112.5 637.5h0M115.4 672.9h0M163.4 692.6h0M95.2 682.2h0M152.0 619.0h0M160.0 688.2h0M161.9 675.3h0M106.7 693.9h0M149.5 643.2h0M160.0 663.6h0M149.3 693.6h0M103.5 672.8h0M110.7 647.0h0M149.3 637.4h0M114.8 624.9h0M108.2 689.3h0M97.6 554.4h0M78.8 692.5h0M170.6 699.4h0M107.7 644.5h0M176.1 686.9h0M155.5 640.1h0M153.7 634.7h0M116.4 628.3h0M150.7 698.4h0M157.8 659.8h0M152.8 636.9h0M89.9 650.1h0M151.4 612.3h0M149.3 671.9h0M152.2 685.4h0M154.8 649.6h0M89.6 682.4h0M102.6 674.6h0M161.6 699.6h0M151.8 651.8h0M80.8 650.5h0M77.1 660.4h0M155.1 699.8h0M154.0 682.8h0M166.4 684.3h0M100.0 656.0h0M148.2 694.4h0M151.3 635.3h0M151.2 649.9h0M170.5 692.3h0M152.8 657.9h0M170.9 690.2h0M149.5 659.2h0M152.2 682.6h0M152.8 687.3h0M100.9 653.5h0M161.2 688.5h0M152.0 646.5h0M160.7 693.2h0M98.3 685.9h0M162.7 680.8h0M148.0 652.2h0M152.3 655.7h0M153.5 664.1h0M109.3 685.2h0M115.2 625.6h0M109.9 696.1h0M154.1 657.2h0M151.0 632.4h0M103.0 674.0h0M98.9 662.3h0M108.0 670.3h0M113.5 675.9h0M172.3 695.9h0M97.2 690.4h0M152.0 694.6h0M161.9 672.3h0M170.2 691.9h0M163.7 600.8h0M100.5 685.1h0M156.6 678.2h0M115.4 619.0h0M148.3 699.9h0M148.2 648.5h0M152.1 673.1h0M169.2 615.8h0M148.6 574.5h0M95.9 599.1h0M81.5 675.9h0M84.1 694.4h0M154.5 630.8h0M114.0 676.1h0M152.7 696.6h0M161.0 682.9h0M167.7 669.0h0M160.2 679.9h0M150.5 657.0h0M152.7 621.0h0M156.5 662.3h0M153.4 678.8h0M104.2 689.3h0M109.6 653.7h0M150.7 640.0h0M106.5 682.6h0M115.5 609.7h0M114.0 668.0h0M114.4 667.9h0M154.2 640.9h0M151.4 659.8h0M171.5 695.4h0M112.3 646.5h0M151.0 644.8h0M149.0 679.7h0M84.6 692.3h0M164.4 681.4h0M103.8 681.2h0M115.2 617.8h0M107.4 668.6h0M162.4 672.8h0M150.9 654.6h0M157.1 690.6h0M114.3 684.9h0M148.3 677.9h0M151.9 637.6h0M111.2 659.6h0M176.6 699.6h0M154.0 632.3h0M158.2 678.6h0M152.2 680.2h0M156.3 698.1h0M153.6 639.1h0M74.5 682.2h0M181.3 699.8h0M150.9 661.6h0M115.4 638.9h0M153.0 699.7h0M114.1 584.8h0M115.0 619.2h0M154.0 631.0h0M91.8 700.6h0M150.2 640.4h0M108.2 690.1h0M165.6 688.0h0M150.7 650.4h0M170.2 697.2h0M148.0 689.7h0M148.5 649.5h0M105.2 675.1h0M165.5 637.5h0M163.4 693.6h0M148.7 625.0h0M113.6 694.2h0M153.0 685.8h0M150.3 650.2h0M111.3 649.2h0M105.8 690.5h0M166.0 653.1h0M168.9 695.5h0M171.8 693.1h0M148.2 658.3h0M155.5 653.5h0M113.6 634.1h0M154.6 629.8h0M115.2 691.2h0M104.6 670.1h0M156.0 697.4h0M114.4 620.9h0M157.3 681.4h0M111.1 651.5h0M149.0 602.7h0M114.6 664.8h0M160.2 687.7h0M149.0 614.2h0M84.0 579.8h0M167.9 687.3h0M113.9 668.8h0M98.9 690.1h0M109.8 665.2h0M151.3 670.3h0M112.3 666.8h0M150.3 603.5h0M91.1 649.2h0M115.8 651.5h0M166.5 697.2h0M160.1 685.8h0M74.4 684.1h0M114.6 683.5h0M106.7 683.8h0M148.0 655.5h0M113.8 633.8h0M115.9 630.5h0M154.0 631.7h0M112.8 695.4h0M157.6 698.8h0M165.6 696.9h0M163.9 688.4h0M114.2 636.9h0M108.5 673.6h0M151.2 649.5h0M149.5 611.0h0M149.1 670.9h0M111.4 513.5h0M167.6 695.4h0M116.0 702.2h0M101.6 656.7h0M111.6 661.5h0M166.0 679.2h0M107.4 688.9h0M113.9 694.3h0M82.1 692.1h0M148.2 640.2h0M109.7 673.8h0M150.8 647.6h0M102.3 695.2h0M149.3 621.4h0M113.0 699.1h0M151.4 643.0h0M115.3 671.8h0M164.2 687.5h0M115.7 640.8h0M154.1 652.7h0M151.3 682.8h0M150.2 681.4h0M151.1 649.0h0M110.0 671.5h0M151.6 669.8h0M113.8 644.8h0M176.5 699.3h0M165.2 689.5h0M111.9 681.9h0M148.7 650.3h0M112.8 697.7h0M102.9 680.6h0M151.3 665.3h0M116.5 613.7h0M149.3 639.1h0M97.2 701.2h0M155.4 642.8h0M151.7 686.5h0M103.7 700.5h0M150.5 632.3h0M110.1 587.4h0M115.7 651.0h0M154.8 692.1h0M176.2 697.3h0M150.6 612.1h0M148.1 659.3h0M148.7 635.6h0M116.3 681.6h0M151.1 644.6h0M148.5 666.8h0M148.5 654.1h0M151.2 640.1h0M108.3 679.1h0M97.4 677.7h0M154.7 675.0h0M107.9 662.9h0M92.2 698.0h0M163.2 668.4h0M116.1 681.9h0M152.7 676.3h0M114.5 628.5h0M156.9 663.9h0M112.8 621.5h0M148.1 617.2h0M111.2 648.7h0M164.0 688.2h0M156.6 693.8h0M110.8 670.0h0M160.0 701.4h0M108.3 676.5h0M149.6 682.5h0M115.2 652.2h0M108.4 634.7h0M156.0 649.0h0M115.0 693.6h0M90.0 691.5h0M110.8 655.4h0M109.9 673.8h0M97.6 563.0h0M109.6 661.8h0M104.0 688.6h0M175.3 699.6h0M159.0 678.4h0M149.6 666.1h0M149.3 611.1h0M152.9 659.8h0M116.4 600.1h0M110.7 681.7h0M101.8 609.7h0M154.0 668.6h0M159.1 701.8h0M95.5 679.2h0M176.9 686.2h0M86.1 650.0h0M111.5 673.4h0M116.1 622.6h0M116.4 597.0h0M148.2 698.1h0M112.9 663.0h0M154.7 671.6h0M154.8 694.8h0M112.1 660.4h0M108.3 698.5h0M96.3 696.4h0M148.0 621.3h0M151.7 665.0h0M149.1 668.3h0M161.3 686.2h0M171.7 672.0h0M114.8 645.4h0M149.6 626.7h0M111.4 676.8h0M158.0 686.1h0M98.7 650.3h0M149.4 644.3h0M91.9 612.5h0M158.0 673.9h0M175.6 696.7h0M111.9 636.1h0M154.3 631.5h0M152.0 702.1h0M156.4 647.9h0M158.5 679.2h0M96.2 696.7h0M178.4 699.6h0M147.9 619.2h0M153.0 631.2h0M149.9 686.1h0M148.4 567.3h0M116.2 700.4h0M76.0 643.9h0M116.3 606.6h0M96.3 701.7h0M153.3 672.9h0M183.8 685.0h0M78.7 578.5h0M110.0 672.0h0M159.7 661.7h0M168.0 692.7h0M153.0 667.8h0M149.9 679.2h0M115.6 632.6h0M148.8 673.9h0M108.9 669.7h0M115.3 617.0h0M153.5 625.0h0M104.0 678.4h0M112.4 699.4h0M116.4 650.9h0M112.5 631.1h0M153.7 637.5h0M109.6 676.8h0M107.2 676.5h0M98.9 683.4h0M185.1 701.1h0M149.2 676.4h0M161.2 678.2h0M96.4 699.6h0M116.1 684.4h0" stroke="#EE0000" stroke-width="3.2" stroke-linecap="round" stroke-opacity="0.55" fill="none"/>
<path d="M148.6 671.6h0M153.4 621.2h0M92.8 686.2h0M149.0 644.6h0M105.2 698.4h0M107.5 692.4h0M155.0 649.8h0M168.9 700.3h0M148.9 660.2h0M114.5 661.2h0M162.8 650.6h0M148.6 692.3h0M161.0 701.6h0M151.2 675.9h0M92.8 622.0h0M149.0 692.1h0M101.4 677.9h0M113.9 635.9h0M149.5 678.6h0M156.1 678.4h0M157.6 649.3h0M150.9 634.7h0M149.9 659.4h0M162.5 697.9h0M93.3 701.7h0M148.8 597.0h0M151.7 651.5h0M116.5 602.4h0M103.6 635.9h0M72.2 700.9h0M155.4 660.1h0M104.8 633.7h0M114.3 673.5h0M149.8 695.6h0M107.1 686.5h0M107.4 691.9h0M148.4 701.2h0M160.3 685.5h0M108.5 663.2h0M175.8 700.4h0M100.8 692.1h0M150.8 663.0h0M148.9 698.6h0M108.9 666.0h0M159.0 661.1h0M96.6 531.0h0M173.1 650.7h0M115.0 692.2h0M149.8 691.5h0M153.2 663.1h0M115.1 677.6h0M161.5 694.5h0M95.0 695.9h0M95.5 698.4h0M79.7 695.8h0M167.7 689.9h0M116.4 685.4h0M115.4 683.2h0M150.9 652.5h0M113.6 641.2h0M155.3 698.0h0M108.4 657.3h0M149.4 671.7h0M111.8 683.8h0M105.9 682.7h0M151.4 657.9h0M148.8 603.6h0M94.0 699.7h0M73.1 596.7h0M157.7 677.8h0M172.8 695.4h0M169.2 690.5h0M92.9 646.8h0M157.7 677.7h0M153.5 632.5h0M108.0 696.4h0M111.8 644.4h0M155.8 648.8h0M153.5 666.9h0M147.9 598.4h0M113.2 690.7h0M157.8 657.7h0M103.1 683.7h0M178.6 702.1h0M150.2 690.5h0M86.2 680.7h0M152.0 645.6h0M154.0 701.0h0M170.4 685.2h0M155.8 680.6h0M111.9 650.4h0M150.2 628.8h0M148.4 596.7h0M156.2 698.4h0M99.8 697.1h0M171.8 699.1h0M152.4 683.2h0M159.7 693.8h0M151.9 504.1h0M173.6 698.5h0M149.0 662.8h0M116.5 691.2h0M109.0 670.0h0M158.9 637.3h0M163.0 649.6h0M111.9 678.7h0M148.8 665.3h0M155.8 646.8h0M163.1 692.8h0M110.2 662.8h0M154.6 679.6h0M113.0 653.7h0M156.1 656.7h0M162.0 690.2h0M159.3 689.7h0M152.4 694.1h0M158.9 698.1h0M88.3 695.2h0M94.9 686.2h0M153.5 630.8h0M156.2 693.5h0M116.4 676.5h0M152.7 634.5h0M152.9 618.1h0M160.7 642.6h0M153.9 630.7h0M115.3 695.2h0M113.6 663.9h0M108.8 642.6h0M116.2 603.8h0M152.2 696.0h0M109.2 689.8h0M155.3 673.6h0M109.5 669.1h0M154.2 659.0h0M151.5 653.2h0M149.5 592.1h0M152.5 655.0h0M161.8 692.2h0M107.1 690.1h0M105.3 684.8h0M105.8 691.6h0M148.0 631.0h0M151.3 620.3h0M94.7 679.8h0M116.5 681.1h0M158.5 683.9h0M152.1 661.8h0M99.4 671.7h0M115.2 651.6h0M165.7 685.7h0M157.6 684.3h0M106.4 578.7h0M176.8 699.4h0M112.5 676.1h0M164.4 696.2h0M149.8 689.8h0M107.9 668.0h0M150.7 692.3h0M150.5 688.8h0M101.7 676.8h0M116.1 687.8h0M112.1 670.0h0M170.4 672.8h0M74.1 682.3h0M152.3 619.4h0M177.3 699.0h0M148.1 611.6h0M114.1 627.1h0M115.6 681.2h0M155.2 661.1h0M113.7 638.5h0M166.3 683.0h0M157.8 695.1h0M148.3 623.3h0M149.0 629.8h0M100.8 692.0h0M156.5 648.1h0M148.4 700.9h0M149.2 664.2h0M148.4 688.6h0M158.2 664.0h0M157.3 666.7h0M101.1 659.3h0M70.9 693.7h0M167.1 699.9h0M156.6 671.5h0M92.4 687.7h0M107.8 689.9h0M152.4 637.6h0M104.1 700.7h0M116.4 626.6h0M114.8 677.2h0M174.2 702.1h0M148.8 645.9h0M113.9 675.7h0M154.5 693.0h0M116.0 602.4h0M156.4 696.9h0M157.5 677.4h0M100.3 692.0h0M164.0 699.9h0M161.8 672.9h0M161.4 702.0h0M164.2 695.6h0M111.0 660.9h0M163.9 681.8h0M116.4 626.7h0M151.9 701.5h0M153.8 652.7h0M100.1 697.4h0M148.5 693.2h0M162.9 696.8h0M106.5 557.8h0M150.9 620.8h0M152.8 700.3h0M94.0 699.7h0M158.3 698.8h0M151.0 638.7h0M115.9 633.0h0M154.2 648.3h0M153.1 628.3h0M151.1 685.2h0M94.8 668.0h0M158.2 683.6h0M113.8 683.8h0M149.8 628.8h0M164.9 700.5h0M159.4 627.8h0M171.8 677.6h0M149.6 686.8h0M112.8 690.6h0M104.4 675.1h0M158.3 668.4h0M113.5 684.9h0M156.3 694.0h0M94.5 698.4h0M162.2 695.4h0M148.9 692.0h0M149.4 671.8h0M107.9 659.8h0M156.3 656.2h0M156.1 667.3h0M111.3 675.3h0M152.2 639.2h0M97.9 689.6h0M116.2 605.8h0M148.2 629.4h0M148.6 597.5h0M149.7 689.7h0M149.0 668.4h0M76.2 676.3h0M84.0 674.1h0M150.6 646.6h0M113.1 639.5h0M151.5 685.1h0M115.9 632.7h0M162.0 692.6h0M156.4 645.3h0M168.8 701.5h0M108.1 667.7h0M149.8 677.8h0M161.6 674.8h0M160.2 677.1h0M156.6 643.8h0M150.4 638.5h0M110.9 656.6h0M148.3 598.7h0M94.2 696.9h0M115.8 662.6h0M102.0 683.1h0M152.6 689.9h0M153.2 660.7h0M93.0 691.1h0M107.2 680.1h0M180.0 702.1h0M116.3 634.0h0M158.9 666.4h0M106.5 690.3h0M159.1 662.3h0M151.0 604.8h0M111.8 685.8h0M157.4 700.7h0M111.7 687.6h0M111.8 545.1h0M156.2 656.5h0M82.7 680.6h0M161.0 645.0h0M150.4 631.3h0M152.7 667.2h0M110.8 668.3h0M161.8 670.6h0M110.7 651.8h0M161.9 701.8h0M161.5 690.8h0M111.4 607.8h0M148.0 697.7h0M111.9 629.1h0M105.1 675.2h0M106.0 699.5h0M115.9 622.7h0M153.4 620.4h0M99.4 573.7h0M151.1 685.8h0M163.4 642.7h0M148.8 618.0h0M113.5 499.2h0M114.6 675.3h0M173.3 701.4h0M114.3 624.6h0M164.4 679.8h0M160.5 673.9h0M151.4 628.8h0M156.8 671.3h0M103.6 682.8h0M155.5 648.7h0M148.7 574.8h0M150.9 649.9h0M154.6 658.6h0M154.9 694.5h0M148.3 622.5h0M115.3 612.2h0M150.9 685.3h0M156.9 651.0h0M106.0 673.7h0M148.1 679.3h0M151.4 661.5h0M169.2 688.7h0M159.5 549.6h0M112.3 668.0h0M103.1 676.1h0M149.4 677.6h0M105.5 667.4h0M114.4 685.9h0M111.4 701.4h0M106.5 676.0h0M109.1 698.4h0M151.3 683.2h0M157.8 665.8h0M99.0 637.8h0M153.0 541.7h0M104.3 676.4h0M112.6 688.4h0M155.7 666.6h0M111.9 669.2h0M113.9 650.5h0M101.5 692.8h0M110.2 653.5h0M111.3 676.7h0M163.9 701.8h0M102.8 699.9h0M159.9 688.8h0M107.9 658.4h0M153.9 629.9h0M155.2 678.0h0M116.3 687.0h0M112.4 700.3h0M111.8 681.5h0M153.6 659.7h0M148.1 652.4h0M112.3 678.9h0M187.4 702.0h0M150.4 621.0h0M115.9 609.5h0M108.5 670.0h0M112.1 661.9h0M115.2 667.1h0M151.4 670.0h0M83.4 693.2h0M115.9 683.0h0M162.9 673.6h0M113.5 678.1h0M79.6 645.1h0M153.3 658.3h0M115.8 621.6h0M158.3 651.9h0M149.1 645.1h0M177.2 689.3h0M111.8 640.0h0M98.4 603.4h0M155.1 653.2h0M111.8 657.2h0M148.5 687.9h0M157.0 647.6h0M113.4 636.5h0M171.4 692.6h0M151.2 682.9h0M155.9 677.6h0M172.4 688.2h0M103.5 677.2h0M148.8 696.8h0M111.4 671.2h0M176.1 649.9h0M152.8 663.0h0M103.7 693.5h0M154.4 646.1h0M154.6 644.5h0M149.2 623.9h0M148.4 602.8h0M175.0 676.8h0M150.0 607.0h0M104.2 676.5h0M151.6 691.8h0M114.3 635.8h0M115.6 642.3h0M96.7 691.5h0M163.7 700.2h0M110.6 698.2h0M109.2 665.2h0M155.4 696.8h0M149.1 589.0h0M111.6 652.7h0M148.5 595.0h0M113.0 660.4h0M164.9 696.6h0M81.6 670.6h0M94.3 658.0h0M156.9 694.1h0M164.0 665.5h0M114.6 640.2h0M87.7 691.4h0M96.6 700.5h0M110.3 693.8h0M154.0 666.3h0M148.0 651.9h0M150.6 634.3h0M79.4 685.4h0M115.4 609.3h0M113.2 676.7h0M148.8 690.7h0M105.6 669.1h0M152.5 617.9h0M153.1 625.6h0M151.4 682.6h0M150.1 678.7h0M105.0 595.3h0M86.3 691.8h0M156.1 675.5h0M157.3 680.5h0M149.7 698.7h0M155.5 676.6h0M66.2 695.9h0M153.6 700.7h0M112.1 654.0h0M165.1 660.8h0M165.9 695.2h0M155.2 677.9h0M155.2 699.7h0M157.2 631.9h0M156.2 651.2h0M154.3 702.3h0M113.9 600.6h0M152.9 685.0h0M113.8 701.6h0M109.9 622.2h0M154.5 671.6h0M168.2 683.3h0M164.1 680.9h0M166.7 604.4h0M116.3 622.7h0M150.5 645.9h0M154.7 632.8h0M149.1 657.1h0M114.9 679.2h0M159.8 687.6h0M151.1 677.9h0M153.3 608.1h0M93.5 683.5h0M79.1 661.7h0M149.6 634.1h0M154.8 636.5h0M149.3 599.1h0M155.7 696.7h0M108.9 554.2h0M111.2 661.5h0M110.7 687.9h0M90.7 694.8h0M160.8 669.3h0M150.1 606.4h0M149.5 638.7h0M151.2 626.1h0M152.1 617.5h0M162.5 618.7h0M108.8 670.1h0M157.2 667.3h0M82.5 695.2h0M150.9 641.8h0M152.9 693.7h0M108.2 682.8h0M152.2 618.4h0M149.4 633.6h0M94.1 674.5h0M110.2 697.6h0M115.1 623.2h0M106.4 697.8h0M116.0 610.1h0M105.3 691.1h0M91.5 692.7h0M148.7 683.2h0M100.1 683.4h0M88.5 695.7h0M98.1 701.9h0M148.3 669.4h0M150.6 574.1h0M167.7 683.2h0M151.1 666.7h0M152.0 691.7h0M116.4 674.5h0M148.4 697.9h0M167.7 693.1h0M110.4 657.7h0M99.2 678.9h0M100.3 700.1h0M177.1 660.6h0M65.3 676.3h0M151.7 674.4h0M95.4 699.1h0M155.7 677.6h0M104.2 645.2h0M88.8 652.9h0M159.1 676.1h0M113.0 615.1h0M113.4 649.9h0M152.1 663.1h0M109.9 648.3h0M116.0 653.1h0M92.2 567.5h0M164.2 690.1h0M115.9 653.8h0M86.4 544.0h0M112.9 653.1h0M160.5 681.3h0M112.5 699.3h0M109.7 660.8h0M109.5 576.0h0M148.5 636.0h0M158.9 649.7h0M157.2 540.3h0M153.8 639.9h0M150.9 680.9h0M159.8 643.6h0M115.8 695.1h0M148.1 697.3h0M150.5 602.6h0M160.3 698.4h0M157.8 697.6h0M171.0 695.1h0M114.4 645.9h0M106.7 642.2h0M149.8 607.4h0M152.8 693.4h0M150.3 605.7h0M163.0 653.3h0M105.5 670.7h0M112.8 690.2h0M151.6 683.2h0M151.2 650.5h0M163.1 688.6h0M152.3 687.6h0M114.5 632.0h0M111.1 669.4h0M149.9 700.4h0M114.6 684.0h0M115.5 632.6h0M111.6 686.4h0M149.9 647.5h0M109.3 695.7h0M155.7 650.2h0M95.5 702.2h0M107.0 701.3h0M157.2 673.5h0M152.2 632.9h0M153.2 629.1h0M156.1 690.4h0M109.1 693.2h0M101.7 695.4h0M115.9 616.0h0M108.4 672.3h0M115.6 614.2h0M96.7 700.0h0M113.5 647.7h0M150.2 619.3h0M152.1 697.0h0M109.2 678.2h0M112.3 679.3h0M161.8 695.9h0M152.0 681.3h0M150.1 693.0h0M162.2 668.5h0M174.0 695.4h0M108.6 675.3h0M107.2 689.5h0M151.3 615.7h0M106.7 674.8h0M115.0 615.2h0M150.0 689.8h0M112.7 682.4h0M151.9 679.9h0M169.1 670.1h0M100.6 694.8h0" stroke="#EE0000" stroke-width="3.2" stroke-linecap="round" stroke-opacity="0.55" fill="none"/>
<path d="M158.8 649.4h0M158.0 669.7h0M98.8 694.7h0M115.8 692.2h0M116.2 645.3h0M149.3 684.4h0M113.5 659.7h0M101.9 660.8h0M112.4 671.0h0M151.5 696.4h0M155.4 642.5h0M162.9 691.1h0M92.3 689.2h0M149.0 643.5h0M148.3 698.5h0M150.8 630.4h0M116.2 624.2h0M84.3 692.4h0M151.4 678.0h0M147.9 627.7h0M156.2 701.3h0M114.9 632.8h0M152.2 645.3h0M148.8 634.3h0M111.7 571.9h0M103.9 677.6h0M99.0 698.9h0M108.6 644.4h0M162.6 700.6h0M147.9 628.2h0M89.2 495.3h0M116.2 658.7h0M154.6 660.7h0M97.3 684.0h0M109.6 695.6h0M104.5 674.1h0M148.7 614.4h0M76.4 665.3h0M115.3 656.4h0M93.3 698.8h0M108.4 660.2h0M156.3 695.2h0M107.4 693.5h0M170.1 700.4h0M157.7 677.7h0M184.3 696.4h0M149.6 650.0h0M69.9 701.9h0M164.6 696.8h0M172.5 650.1h0M152.3 536.8h0M162.3 700.8h0M150.7 630.5h0M151.5 653.6h0M160.2 668.7h0M107.6 659.1h0M154.7 687.2h0M154.2 631.2h0M177.4 700.2h0M172.4 698.8h0M111.0 652.2h0M170.3 693.5h0M152.7 634.8h0M150.4 667.9h0M110.0 698.1h0M149.3 595.0h0M107.7 669.2h0M148.1 592.4h0M151.3 682.2h0M109.9 670.8h0M87.3 687.5h0M96.8 697.2h0M114.4 624.1h0M149.0 695.3h0M152.5 640.3h0M103.4 676.0h0M78.7 695.2h0M81.2 684.6h0M100.3 600.3h0M116.3 693.9h0M149.6 679.3h0M116.0 656.1h0M155.6 685.5h0M113.0 618.4h0M111.7 655.0h0M115.8 696.5h0M162.7 671.5h0M107.2 692.1h0M114.6 694.0h0M155.7 702.0h0M116.3 597.5h0M151.8 611.5h0M106.7 689.7h0M159.8 668.5h0M151.7 631.2h0M91.3 684.6h0M155.7 662.7h0M153.3 628.5h0M174.8 701.5h0M112.4 698.2h0M106.7 668.1h0M151.9 666.0h0M111.3 685.6h0M110.8 681.2h0M150.1 642.3h0M148.8 637.1h0M73.7 694.7h0M100.0 683.9h0M163.9 683.4h0M98.9 702.1h0M150.7 613.6h0M160.6 681.4h0M155.2 650.5h0M83.2 701.0h0M174.2 682.2h0M106.8 656.7h0M104.0 696.1h0M158.1 687.1h0M165.7 648.0h0M78.5 683.1h0M110.5 623.4h0M89.1 690.3h0M116.4 646.6h0M111.6 676.6h0M151.3 552.8h0M167.4 695.2h0M149.3 609.9h0M159.6 669.1h0M156.0 688.0h0M115.8 611.0h0M88.4 692.0h0M149.2 640.8h0M164.4 679.1h0M149.3 636.0h0M151.3 624.9h0M154.6 657.6h0M152.3 685.1h0M152.8 694.8h0M114.0 629.9h0M160.1 665.0h0M161.6 677.3h0M153.4 694.4h0M152.1 702.1h0M110.8 669.1h0M147.9 607.9h0M174.5 686.8h0M164.2 691.8h0M159.6 666.1h0M167.5 689.6h0M115.3 671.7h0M150.1 605.0h0M112.2 640.0h0M157.9 678.4h0M155.9 621.2h0M155.2 646.6h0M152.6 664.1h0M158.7 696.2h0M108.0 694.5h0M148.3 668.5h0M162.7 677.1h0M162.5 689.6h0M156.3 534.0h0M156.5 665.8h0M154.0 625.2h0M77.9 684.0h0M149.9 639.6h0M151.6 676.4h0M147.9 594.8h0M148.4 623.2h0M111.1 671.4h0M113.4 653.3h0M110.5 682.4h0M161.0 677.1h0M93.6 664.7h0M92.3 673.1h0M163.7 686.2h0M147.9 618.0h0M186.9 700.0h0M157.9 641.9h0M161.9 689.2h0M152.8 700.0h0M171.5 702.3h0M167.0 689.3h0M115.3 654.7h0M151.5 658.0h0M98.4 699.4h0M113.3 662.3h0M154.9 650.2h0M114.8 633.8h0M153.9 623.8h0M150.1 654.6h0M116.3 646.0h0M105.5 692.1h0M111.3 665.3h0M162.2 688.4h0M99.2 688.7h0M116.2 612.9h0M187.4 690.5h0M179.1 697.6h0M96.9 698.9h0M148.8 627.1h0M114.0 694.6h0M150.5 671.9h0M102.6 664.7h0M153.1 628.5h0M149.4 605.5h0M149.6 675.0h0M99.7 682.2h0M172.5 683.6h0M153.3 675.5h0M152.9 656.8h0M157.7 652.2h0M86.6 687.8h0M150.6 651.9h0M112.6 655.6h0M159.6 662.3h0M147.9 621.1h0M113.6 656.3h0M116.3 688.5h0M108.7 687.1h0M160.6 695.9h0M100.3 697.2h0M154.3 677.6h0M111.7 699.6h0M173.1 697.9h0M149.1 688.1h0M107.4 687.9h0M148.0 686.9h0M155.0 663.1h0M113.3 691.2h0M152.3 625.0h0M111.0 594.8h0M154.8 688.4h0M111.6 672.6h0M157.6 654.0h0M160.3 701.8h0M159.9 698.6h0M114.0 696.0h0M153.6 653.5h0M151.5 639.0h0M110.3 682.8h0M151.5 620.0h0M157.0 655.7h0M148.5 598.6h0M113.5 659.8h0M113.5 685.7h0M107.6 679.4h0M159.9 668.7h0M148.8 604.3h0M116.4 630.6h0M104.8 696.3h0M107.7 694.7h0M169.2 695.1h0M157.0 693.4h0M155.3 700.7h0M177.5 698.1h0M153.5 655.8h0M85.2 668.1h0M155.2 694.6h0M149.8 637.0h0M148.8 657.5h0M106.9 672.3h0M92.0 697.7h0M112.5 666.8h0M151.1 630.5h0M114.7 624.8h0M104.2 669.7h0M153.5 642.1h0M159.1 680.2h0M152.2 644.4h0M148.3 618.1h0M112.0 675.9h0M148.1 666.2h0M158.0 668.2h0M149.3 671.1h0M151.0 662.2h0M99.6 683.3h0M169.6 695.6h0M160.2 648.4h0M156.0 647.7h0M152.0 674.8h0M112.3 641.6h0M113.4 498.4h0M149.6 636.5h0M108.7 671.3h0M166.2 639.9h0M162.5 674.2h0M161.0 695.6h0M173.1 652.8h0M148.5 635.9h0M155.0 678.3h0M110.7 696.6h0M115.2 685.0h0M147.9 622.5h0M96.3 619.3h0M104.4 531.1h0M150.8 683.1h0M112.1 679.7h0M108.3 696.6h0M109.2 524.3h0M106.0 685.3h0M107.5 693.4h0M153.5 697.7h0M169.4 675.5h0M96.0 692.5h0M105.5 699.1h0M113.6 655.9h0M151.4 668.1h0M109.6 679.8h0M155.6 696.1h0M155.8 677.5h0M105.0 697.7h0M151.7 645.6h0M156.0 650.5h0M116.4 622.1h0M72.5 686.2h0M113.5 583.8h0M160.2 683.3h0M111.8 661.3h0M113.0 664.4h0M115.6 660.7h0M149.5 656.2h0M113.5 672.3h0M167.7 692.1h0M153.5 643.4h0M116.0 673.7h0M150.6 700.9h0M148.3 639.3h0M155.7 662.2h0M173.8 698.9h0M149.5 645.7h0M94.5 692.7h0M153.7 625.2h0M158.6 660.6h0M166.5 658.0h0M113.3 666.2h0M114.9 691.3h0M114.7 638.8h0M151.7 633.1h0M152.3 678.5h0M111.0 689.3h0M111.5 679.0h0M153.5 637.6h0M155.5 651.5h0M114.4 655.3h0M150.2 617.7h0M171.7 694.1h0M116.2 660.3h0M114.6 648.2h0M113.8 639.5h0M152.8 641.6h0M110.0 681.4h0M156.1 687.3h0M148.0 613.9h0M149.5 654.2h0M116.2 613.1h0M153.8 634.1h0M147.9 624.5h0M95.2 638.5h0M166.2 691.4h0M115.0 631.4h0M83.6 695.9h0M96.9 701.4h0M115.1 685.4h0M98.0 702.3h0M80.9 681.4h0M151.4 653.4h0M153.9 663.2h0M166.1 639.3h0M165.5 693.8h0M103.5 693.4h0M156.0 645.7h0M150.3 658.4h0M155.3 640.5h0M110.8 691.5h0M148.4 662.8h0M86.2 700.6h0M152.9 620.3h0M113.8 682.2h0M149.7 698.7h0M114.1 588.5h0M157.2 689.3h0M150.6 683.6h0M108.3 680.5h0M165.7 688.6h0M155.7 640.6h0M152.3 685.0h0M172.4 697.4h0M115.7 623.8h0M97.6 686.6h0M158.6 660.7h0M153.5 641.6h0M152.1 633.6h0M161.5 694.0h0M172.8 695.9h0M158.6 670.2h0M162.4 689.6h0M85.3 689.1h0M106.1 688.0h0M148.8 691.9h0M152.6 686.2h0M93.3 698.3h0M153.2 637.6h0M153.2 693.3h0M108.1 674.0h0M115.1 620.1h0M155.7 688.3h0M87.2 697.3h0M171.2 700.3h0M154.8 695.6h0M166.6 687.2h0M164.4 680.9h0M171.9 699.8h0M163.2 687.6h0M107.3 678.4h0M184.5 696.9h0M152.7 649.1h0M100.1 567.0h0M105.3 693.1h0M151.9 634.6h0M151.3 697.6h0M114.9 702.1h0M164.9 666.1h0M108.4 679.9h0M110.3 663.5h0M151.2 592.1h0M149.3 602.2h0M97.5 698.4h0M81.5 701.3h0M116.1 669.4h0M110.7 678.8h0M112.3 665.2h0M109.3 673.4h0M155.2 652.9h0M86.0 677.1h0M163.5 640.0h0M148.3 593.4h0M157.3 663.5h0M156.5 697.5h0M91.7 699.4h0M157.5 655.0h0M148.6 690.2h0M112.2 640.8h0M100.9 696.9h0M149.2 612.8h0M157.1 643.0h0M109.4 688.1h0M109.6 675.5h0M172.9 690.4h0M155.0 701.9h0M112.7 655.3h0M150.7 622.6h0M99.5 699.1h0M160.5 702.3h0M158.7 656.2h0M172.9 696.1h0M104.8 675.0h0M99.1 687.9h0M116.0 666.2h0M104.6 670.9h0M85.7 674.2h0M153.9 627.5h0M153.2 625.8h0M114.6 650.4h0M114.9 691.8h0M100.9 695.0h0M78.8 702.1h0M173.7 696.9h0M154.8 645.1h0M100.0 653.8h0M157.5 670.7h0M70.2 662.1h0M97.9 696.7h0M148.4 595.5h0M113.9 657.2h0M89.7 673.5h0M113.0 645.0h0M90.4 676.9h0M148.8 647.6h0M148.4 594.4h0M147.9 606.7h0M109.2 650.1h0M152.7 658.0h0M160.7 675.3h0M151.8 684.6h0M155.6 650.5h0M149.6 626.2h0M102.8 667.8h0M158.5 690.9h0M114.3 698.6h0M154.6 631.3h0M159.6 651.1h0M153.5 695.5h0M149.2 637.0h0M115.6 653.4h0M152.4 657.0h0M153.0 668.4h0M162.4 693.6h0M162.1 698.1h0M115.9 660.8h0M112.5 701.0h0M113.3 653.1h0M155.9 650.4h0M106.7 685.1h0M148.0 601.0h0M147.9 630.3h0M157.4 700.4h0M94.7 683.0h0M156.4 692.4h0M149.3 622.4h0M165.7 684.3h0M97.1 697.7h0M113.7 669.0h0M154.1 633.2h0M148.9 597.2h0M153.1 638.2h0M103.4 619.5h0M157.5 651.3h0M151.8 697.2h0M150.6 673.1h0M156.4 678.1h0M88.8 674.7h0M106.9 671.5h0M77.3 505.5h0M148.1 643.1h0M108.2 671.3h0M161.5 645.6h0M148.5 605.9h0M149.6 605.0h0M150.2 667.0h0M116.3 644.3h0M111.7 668.4h0M97.7 700.6h0M99.9 700.3h0M83.1 648.7h0M155.0 652.9h0M153.0 692.2h0M112.7 671.6h0M158.2 663.6h0M190.0 700.7h0M116.1 667.1h0M158.7 699.8h0M115.4 689.9h0M116.1 641.2h0M152.4 648.7h0M153.5 625.3h0M159.5 688.9h0M92.1 684.5h0M157.3 656.9h0M153.0 635.2h0M157.9 675.7h0M167.6 702.3h0M148.0 672.4h0M168.3 696.3h0M153.0 646.0h0M111.0 663.5h0M110.1 669.8h0M102.7 686.0h0M158.9 667.0h0M152.9 652.9h0M109.8 663.6h0M149.2 672.6h0M155.7 677.3h0M177.1 691.9h0M151.9 668.2h0M103.4 580.4h0M99.6 687.4h0M94.9 686.9h0M150.1 630.4h0M114.8 605.8h0M165.0 689.7h0M148.6 672.9h0M109.4 659.8h0M148.8 598.2h0M115.5 629.9h0M114.8 636.0h0M163.0 675.6h0M156.7 673.3h0M159.9 685.4h0M151.6 628.4h0M154.2 638.5h0M152.6 692.9h0M148.8 695.3h0M148.3 620.4h0M108.0 664.2h0M95.6 700.1h0M153.8 645.6h0M100.2 693.2h0M105.5 687.7h0M150.7 648.7h0M156.0 657.6h0M113.5 698.5h0M113.7 689.0h0M110.1 658.4h0M95.9 692.2h0M102.2 648.0h0M156.3 642.7h0M89.1 697.8h0M148.2 695.1h0M158.4 687.3h0" stroke="#EE0000" stroke-width="3.2" stroke-linecap="round" stroke-opacity="0.55" fill="none"/>
<path d="M118.1 701.9L116.7 701.9L115.3 702.0L113.9 702.0L112.5 702.1L111.0 702.2L109.6 702.3L108.2 702.4L106.8 702.5L105.4 702.6L104.0 702.7L102.6 702.9L101.2 703.0L99.8 703.2L98.4 703.3L97.0 703.5L95.6 703.6L94.2 703.8L92.8 703.9L91.3 704.1L89.9 704.3L89.9 704.5L91.3 704.6L92.8 704.8L94.2 704.9L95.6 705.0L97.0 705.2L98.4 705.3L99.8 705.4L101.2 705.5L102.6 705.6L104.0 705.7L105.4 705.8L106.8 705.9L108.2 706.0L109.6 706.1L111.0 706.2L112.5 706.2L113.9 706.3L115.3 706.3L116.7 706.4L118.1 706.4Z" fill="#2E8E2E" fill-opacity="0.85"/>
<path d="M146.2 701.9L147.8 701.9L149.3 702.0L150.9 702.0L152.4 702.1L154.0 702.2L155.5 702.3L157.1 702.4L158.6 702.5L160.1 702.6L161.7 702.7L163.2 702.9L164.8 703.0L166.3 703.2L167.9 703.3L169.4 703.5L171.0 703.6L172.5 703.8L174.1 703.9L175.6 704.1L177.2 704.3L177.2 704.5L175.6 704.6L174.1 704.8L172.5 704.9L171.0 705.0L169.4 705.2L167.9 705.3L166.3 705.4L164.8 705.5L163.2 705.6L161.7 705.7L160.1 705.8L158.6 705.9L157.1 706.0L155.5 706.1L154.0 706.2L152.4 706.2L150.9 706.3L149.3 706.3L147.8 706.4L146.2 706.4Z" fill="#2E8E2E" fill-opacity="0.85"/>
<path d="M117.6 703.6h0M155.7 703.7h0M95.9 705.2h0M149.5 704.6h0M156.1 703.8h0M111.6 705.1h0M94.2 704.9h0M165.1 704.3h0M162.5 704.9h0M104.2 704.4h0M150.4 705.2h0M117.6 704.6h0M106.9 705.0h0M110.4 704.8h0M169.9 705.2h0M117.9 703.5h0M91.1 705.3h0M155.2 703.5h0M94.6 705.3h0M146.4 704.1h0M147.5 704.2h0M151.1 703.2h0M171.7 704.7h0M89.8 705.2h0M150.3 705.1h0M108.0 703.8h0M104.5 705.3h0M115.0 703.5h0M147.0 703.4h0M172.3 705.1h0M110.2 704.2h0M109.2 704.3h0M116.6 705.1h0M173.0 705.2h0M153.5 703.8h0M110.8 703.4h0M148.8 703.1h0M147.9 704.0h0M106.5 704.3h0M101.5 705.1h0M92.8 705.2h0M158.5 705.2h0M171.4 704.7h0M114.2 704.3h0M113.0 703.2h0M163.0 704.1h0M160.0 704.6h0M159.2 704.0h0M154.1 704.6h0M94.2 705.1h0M112.2 704.5h0M113.7 703.9h0M150.2 704.0h0M169.3 704.5h0M151.7 704.8h0M153.9 704.9h0M116.0 704.4h0M172.5 705.2h0M150.6 703.2h0M170.1 705.2h0M101.9 704.1h0M157.6 705.2h0M116.4 704.8h0M169.7 705.2h0M146.4 704.4h0M146.6 705.2h0M175.8 705.2h0M96.6 705.1h0M113.8 704.7h0M147.9 705.2h0M147.8 703.8h0M96.5 704.9h0M147.6 703.8h0M146.5 703.9h0M169.9 705.1h0M92.4 705.2h0M157.9 703.6h0M103.9 704.8h0M147.7 705.1h0M163.9 704.0h0M174.9 705.3h0M154.4 703.5h0M116.8 704.1h0M150.8 703.3h0M175.9 705.3h0M94.2 704.8h0M146.5 703.9h0M156.2 703.9h0M146.5 703.7h0M109.7 704.3h0M153.8 703.7h0M153.5 703.6h0M169.6 705.2h0M147.3 703.1h0M167.4 705.3h0M113.0 705.2h0M97.9 705.2h0M117.3 704.6h0M164.9 704.5h0M107.3 704.1h0M165.1 704.4h0M147.8 703.1h0M165.0 704.3h0M157.9 703.9h0M147.8 704.1h0M169.9 704.6h0M146.5 703.1h0M99.2 705.3h0M162.6 704.7h0M111.7 704.4h0M162.6 704.8h0M158.3 704.6h0M117.3 704.3h0M157.2 703.8h0M92.5 705.2h0M90.7 705.3h0M168.6 704.8h0M146.7 704.9h0M105.2 704.7h0M91.6 705.3h0M166.9 704.3h0M107.6 705.3h0M113.5 705.1h0M151.1 704.8h0M102.6 704.9h0M148.2 704.8h0M103.4 704.3h0M167.6 704.4h0M173.8 705.2h0M116.3 704.7h0M110.8 704.5h0M156.5 704.5h0M156.3 705.0h0M112.6 704.3h0" stroke="#228B22" stroke-width="3.2" stroke-linecap="round" stroke-opacity="0.55" fill="none"/>
<path d="M112.3 703.5h0M117.8 704.5h0M115.5 705.3h0M148.2 704.3h0M109.8 703.7h0M158.4 704.2h0M102.3 704.9h0M111.1 704.4h0M108.7 704.8h0M99.3 705.0h0M108.5 704.3h0M146.7 704.9h0M112.0 703.2h0M93.0 705.1h0M90.8 705.2h0M146.6 704.7h0M149.5 703.0h0M159.4 704.9h0M110.4 704.8h0M164.5 704.2h0M146.5 703.2h0M158.4 704.7h0M168.4 704.7h0M107.0 704.9h0M116.7 703.3h0M166.9 705.3h0M170.2 705.2h0M147.1 703.2h0M169.0 705.1h0M149.8 704.7h0M170.6 705.2h0M99.1 704.9h0M113.9 705.2h0M108.0 704.7h0M91.0 705.3h0M99.1 704.4h0M158.6 703.7h0M117.5 704.1h0M162.7 704.3h0M166.5 704.5h0M116.0 704.0h0M157.8 704.9h0M117.3 705.1h0M149.7 703.9h0M168.0 704.8h0M93.8 705.2h0M166.3 705.1h0M171.0 704.8h0M110.1 704.4h0M152.5 704.1h0M148.3 703.1h0M161.6 704.5h0M102.0 704.1h0M96.4 704.7h0M117.6 705.1h0M146.4 704.8h0M153.5 704.6h0M104.8 704.8h0M112.4 704.9h0M151.3 703.9h0M91.5 705.3h0M102.0 705.1h0M116.6 704.9h0M174.7 705.1h0M172.7 705.3h0M114.6 703.0h0M155.1 704.8h0M92.0 705.2h0M101.4 705.1h0M149.0 704.3h0M92.6 705.1h0M110.8 703.3h0M114.5 704.4h0M158.8 704.6h0M91.3 705.2h0M166.4 704.4h0M105.1 703.9h0M174.2 705.2h0M104.1 705.3h0M114.7 703.2h0M111.2 703.6h0M168.6 704.5h0M90.1 705.3h0M163.0 704.0h0M105.5 704.7h0M166.8 704.8h0M162.1 704.7h0M162.9 704.8h0M162.4 704.6h0M96.6 704.6h0M100.1 705.2h0M115.1 705.1h0M153.4 705.0h0M173.3 705.0h0M92.0 705.1h0M155.1 704.5h0M153.9 703.6h0M91.4 705.2h0M150.5 704.2h0M107.1 704.2h0M114.7 704.0h0M148.1 704.7h0M90.6 705.2h0M149.3 704.1h0M167.2 704.7h0M93.8 705.1h0M147.1 704.4h0M150.0 703.9h0M116.1 704.5h0M107.3 704.9h0M117.3 704.6h0M110.3 703.4h0M160.5 704.8h0M146.9 703.1h0M148.5 705.2h0M114.2 704.7h0M167.0 705.0h0M177.0 705.2h0M91.9 705.3h0M173.2 705.1h0M167.4 705.1h0M113.9 704.7h0M160.9 703.9h0M91.3 705.2h0M102.6 704.3h0M94.1 705.0h0M106.7 704.5h0M147.7 702.9h0M110.2 703.3h0M147.5 703.8h0M113.1 704.5h0M150.7 705.0h0M162.8 704.2h0" stroke="#228B22" stroke-width="3.2" stroke-linecap="round" stroke-opacity="0.55" fill="none"/>
<path d="M96.5 704.7h0M115.1 704.4h0M148.5 704.6h0M151.7 703.7h0M114.2 703.2h0M165.7 705.0h0M102.0 704.8h0M175.3 705.3h0M150.1 704.4h0M158.5 705.2h0M114.4 704.3h0M95.8 704.7h0M172.0 704.9h0M113.6 703.6h0M153.1 703.7h0M116.0 705.2h0M158.2 703.7h0M93.7 705.3h0M94.9 705.0h0M174.9 705.1h0M117.9 704.1h0M149.9 704.7h0M91.8 705.3h0M115.6 703.7h0M156.8 705.0h0M171.6 705.2h0M114.1 704.7h0M102.9 704.3h0M155.6 704.2h0M90.9 705.3h0M97.4 704.7h0M98.5 705.3h0M172.0 705.0h0M173.7 705.0h0M160.3 704.7h0M117.9 703.4h0M112.5 705.3h0M167.4 705.1h0M115.6 704.9h0M147.3 703.4h0M148.7 703.3h0M114.3 705.2h0M99.7 704.8h0M110.8 704.6h0M109.5 704.8h0M110.7 704.6h0M117.6 703.4h0M162.9 705.2h0M103.1 704.0h0M167.6 704.6h0M112.5 703.2h0M99.2 704.4h0M147.8 704.4h0M101.7 704.4h0M109.8 704.7h0M114.2 703.2h0M96.5 705.0h0M166.2 704.3h0M91.4 705.1h0M100.5 704.8h0M155.1 703.6h0M157.3 705.1h0M112.2 704.7h0M117.8 704.2h0M111.7 704.7h0M165.2 704.7h0M107.3 705.0h0M95.0 705.2h0M92.6 705.3h0M146.8 704.0h0M113.3 704.7h0M112.7 703.7h0M155.2 704.8h0M161.1 704.3h0M114.7 703.1h0M172.3 705.3h0M113.6 703.7h0M147.8 704.8h0M152.5 705.3h0M93.4 704.9h0M146.6 703.8h0M152.4 704.6h0M155.8 704.0h0M116.0 704.8h0M149.6 705.0h0M114.5 703.5h0M108.6 704.7h0M90.8 705.3h0M91.5 705.1h0M102.4 705.0h0M171.1 704.9h0M117.6 703.9h0M152.7 704.4h0M102.8 705.2h0M166.9 704.8h0M146.8 703.9h0M147.1 703.9h0M92.4 705.2h0M93.7 704.9h0M165.1 704.4h0M112.8 703.2h0M162.7 704.9h0M172.7 705.3h0M99.5 705.1h0M97.4 704.8h0M146.7 704.3h0M163.2 704.7h0M106.5 704.1h0M114.2 704.2h0M148.1 704.2h0M115.8 703.2h0M93.5 705.2h0M115.2 703.1h0M95.8 705.1h0M108.2 705.1h0M163.8 704.3h0M108.7 705.0h0M158.9 703.7h0M97.0 704.8h0M161.2 705.0h0M99.7 704.2h0M113.2 705.2h0M149.0 703.4h0M153.8 704.4h0M99.0 704.7h0M168.5 705.1h0M156.9 705.0h0M101.6 704.9h0M154.2 704.3h0M105.1 705.3h0M97.2 704.7h0M107.1 704.9h0M163.5 705.3h0" stroke="#228B22" stroke-width="3.2" stroke-linecap="round" stroke-opacity="0.55" fill="none"/>
<rect x="118.3" y="701.8" width="27.7" height="4.9" rx="1.5" fill="#4F4F4F"/>
<path d="M141.5 703.0h0M145.2 705.2h0M121.2 704.4h0M138.3 703.7h0M128.2 705.2h0M133.1 704.4h0M125.2 704.6h0M133.8 703.4h0M139.3 704.6h0M123.0 705.0h0M121.8 704.2h0M128.6 703.9h0M130.3 703.2h0M137.3 702.9h0M138.3 703.9h0M119.6 703.2h0M120.0 703.4h0M127.3 704.9h0M123.3 703.4h0M145.4 704.9h0M119.5 703.4h0M130.0 703.0h0M120.4 703.0h0M127.1 703.9h0M132.9 704.9h0M120.1 704.8h0M139.0 703.7h0M144.7 704.9h0M137.2 703.6h0M123.0 703.4h0M137.8 703.7h0M121.3 703.7h0M141.7 702.9h0M143.5 704.2h0M141.0 704.6h0M118.5 704.4h0M127.8 704.6h0M144.1 702.9h0M132.2 704.0h0M122.0 704.7h0M132.2 704.9h0M134.3 704.3h0M137.3 704.3h0M132.8 705.3h0M121.3 704.6h0M120.1 703.6h0M133.5 703.1h0M120.4 704.7h0M131.5 703.0h0M125.4 704.9h0M139.9 703.1h0M140.2 703.6h0M140.9 704.2h0M124.2 704.9h0M132.2 704.0h0M141.5 704.1h0M123.8 704.5h0M120.8 703.7h0M122.8 704.2h0M118.5 704.3h0M127.6 703.3h0M126.9 704.4h0M125.5 703.6h0M140.9 704.7h0M139.4 703.9h0M124.5 703.0h0M124.7 704.0h0M121.3 703.9h0M119.1 703.1h0M141.1 704.8h0M131.5 704.1h0M137.0 705.2h0M136.2 702.9h0M122.0 703.1h0M132.9 704.7h0M130.8 704.0h0M145.3 703.7h0M128.0 703.9h0M119.6 705.2h0M128.3 703.1h0M126.5 704.2h0M129.2 704.1h0M127.4 704.0h0M140.9 703.2h0M139.0 704.1h0M119.5 703.7h0M136.5 705.1h0M122.1 704.4h0M121.8 704.8h0M136.0 704.4h0M142.1 703.6h0M132.9 702.9h0M131.4 703.7h0M135.8 703.3h0M132.8 703.1h0M127.8 705.2h0M120.4 703.5h0M144.6 703.6h0M120.2 702.9h0M125.9 705.0h0M136.1 705.1h0M122.0 705.3h0M120.5 704.6h0M142.9 703.8h0M124.8 704.1h0M126.9 703.3h0M133.8 703.0h0M143.1 703.4h0M140.7 702.9h0M123.8 704.8h0M136.3 703.3h0M122.5 704.7h0M138.3 704.9h0M130.0 703.1h0M142.5 704.5h0M135.2 704.1h0M134.5 703.1h0M134.6 704.7h0M121.3 703.2h0M137.1 704.2h0M123.4 703.9h0M129.4 704.1h0M136.3 705.1h0M138.6 703.3h0M123.6 704.1h0" stroke="#4D4D4D" stroke-width="3.2" stroke-linecap="round" stroke-opacity="0.55" fill="none"/>
<path d="M121.9 704.9h0M120.6 704.2h0M120.1 705.1h0M125.8 705.0h0M133.6 703.0h0M124.5 704.7h0M134.1 703.6h0M122.3 704.0h0M120.0 704.1h0M123.3 704.7h0M139.6 704.1h0M125.1 703.9h0M145.1 704.0h0M119.1 704.2h0M119.2 704.6h0M130.1 703.3h0M127.5 704.8h0M144.1 705.0h0M121.4 704.9h0M133.6 704.2h0M119.1 703.0h0M118.5 703.3h0M135.6 703.1h0M130.5 704.8h0M119.9 705.0h0M142.7 702.9h0M131.2 704.1h0M132.0 703.2h0M122.4 705.0h0M124.7 705.2h0M132.5 703.6h0M141.2 704.9h0M123.9 704.1h0M125.5 704.3h0M120.9 705.2h0M144.6 704.4h0M133.7 703.4h0M125.3 705.3h0M120.4 703.7h0M138.4 704.6h0M145.3 705.0h0M138.2 705.3h0M127.0 704.5h0M142.0 704.6h0M133.8 703.8h0M138.1 703.1h0M140.1 702.9h0M120.8 705.0h0M132.0 704.4h0M132.9 703.0h0M134.3 704.2h0M129.0 703.7h0M129.4 703.0h0M131.6 703.6h0M141.5 705.0h0M128.4 705.0h0M122.7 703.5h0M140.9 703.5h0M144.7 704.2h0M125.6 704.4h0M120.7 703.2h0M131.9 705.3h0M130.9 704.6h0M129.9 703.4h0M126.8 704.7h0M135.6 703.0h0M134.4 703.1h0M132.6 704.5h0M125.0 703.9h0M122.5 703.0h0M140.5 703.3h0M141.8 703.3h0M132.3 703.2h0M133.0 703.4h0M145.1 703.7h0M143.3 703.3h0M137.6 703.1h0M125.7 702.9h0M129.1 704.5h0M138.7 702.9h0M145.6 703.3h0M125.3 704.6h0M126.1 704.3h0M143.4 703.4h0M120.9 704.3h0M120.7 703.2h0M128.0 705.3h0M129.2 703.2h0M138.4 704.8h0M128.1 704.2h0M135.6 703.6h0M122.4 703.3h0M145.1 704.3h0M129.5 704.4h0M126.2 704.7h0M123.2 704.1h0M125.4 704.4h0M133.3 705.2h0M138.5 703.9h0M137.5 703.8h0M135.6 704.0h0M122.9 704.2h0M118.9 704.5h0M144.3 704.7h0M118.6 704.6h0M135.3 704.9h0M139.5 703.8h0M129.2 704.3h0M136.5 704.9h0M125.1 702.9h0M132.6 703.8h0M119.8 704.8h0M127.8 703.3h0M134.5 704.0h0M133.5 705.1h0M120.3 705.1h0M118.4 704.9h0M142.4 703.3h0M142.3 703.6h0M130.9 704.5h0M122.6 704.1h0M119.5 704.2h0M120.3 703.2h0M140.3 703.5h0M138.6 704.7h0" stroke="#4D4D4D" stroke-width="3.2" stroke-linecap="round" stroke-opacity="0.55" fill="none"/>
<line x1="118.1" y1="477.3" x2="118.1" y2="717.4" stroke="#7a7a7a" stroke-width="0.8" stroke-dasharray="3 2"/>
<line x1="146.2" y1="477.3" x2="146.2" y2="717.4" stroke="#7a7a7a" stroke-width="0.8" stroke-dasharray="3 2"/>
<line x1="55.0" y1="702.4" x2="209.5" y2="702.4" stroke="#7a7a7a" stroke-width="0.8" stroke-dasharray="3 2"/>
<line x1="55.0" y1="477.3" x2="55.0" y2="718.0" stroke="#3a3a3a" stroke-width="1.3"/>
<line x1="54.4" y1="717.4" x2="209.5" y2="717.4" stroke="#3a3a3a" stroke-width="1.3"/>
<line x1="51.0" y1="705.3" x2="55.0" y2="705.3" stroke="#3a3a3a" stroke-width="1.1"/>
<text x="46.5" y="709.6" font-size="12" font-weight="bold" text-anchor="end" fill="#111" font-family='"Liberation Sans", sans-serif' >0</text>
<line x1="51.0" y1="632.9" x2="55.0" y2="632.9" stroke="#3a3a3a" stroke-width="1.1"/>
<text x="46.5" y="637.2" font-size="12" font-weight="bold" text-anchor="end" fill="#111" font-family='"Liberation Sans", sans-serif' >50</text>
<line x1="51.0" y1="560.5" x2="55.0" y2="560.5" stroke="#3a3a3a" stroke-width="1.1"/>
<text x="46.5" y="564.8" font-size="12" font-weight="bold" text-anchor="end" fill="#111" font-family='"Liberation Sans", sans-serif' >100</text>
<line x1="51.0" y1="488.1" x2="55.0" y2="488.1" stroke="#3a3a3a" stroke-width="1.1"/>
<text x="46.5" y="492.4" font-size="12" font-weight="bold" text-anchor="end" fill="#111" font-family='"Liberation Sans", sans-serif' >150</text>
<line x1="61.8" y1="717.4" x2="61.8" y2="721.4" stroke="#3a3a3a" stroke-width="1.1"/>
<text x="61.8" y="733.6" font-size="12" font-weight="bold" text-anchor="middle" fill="#111" font-family='"Liberation Sans", sans-serif' >-10</text>
<line x1="97.0" y1="717.4" x2="97.0" y2="721.4" stroke="#3a3a3a" stroke-width="1.1"/>
<text x="97.0" y="733.6" font-size="12" font-weight="bold" text-anchor="middle" fill="#111" font-family='"Liberation Sans", sans-serif' >-5</text>
<line x1="132.2" y1="717.4" x2="132.2" y2="721.4" stroke="#3a3a3a" stroke-width="1.1"/>
<text x="132.2" y="733.6" font-size="12" font-weight="bold" text-anchor="middle" fill="#111" font-family='"Liberation Sans", sans-serif' >0</text>
<line x1="167.3" y1="717.4" x2="167.3" y2="721.4" stroke="#3a3a3a" stroke-width="1.1"/>
<text x="167.3" y="733.6" font-size="12" font-weight="bold" text-anchor="middle" fill="#111" font-family='"Liberation Sans", sans-serif' >5</text>
<line x1="202.5" y1="717.4" x2="202.5" y2="721.4" stroke="#3a3a3a" stroke-width="1.1"/>
<text x="202.5" y="733.6" font-size="12" font-weight="bold" text-anchor="middle" fill="#111" font-family='"Liberation Sans", sans-serif' >10</text>
<text x="136.3" y="460.6" font-size="12" font-weight="bold" text-anchor="middle" fill="#111" font-family='"Liberation Sans", sans-serif' >Caput epididymis</text>
<text x="69.0" y="484.2" font-size="11.2" font-weight="normal" text-anchor="start" fill="#111" font-family='"Liberation Sans", sans-serif' >1178</text>
<text x="169.5" y="484.2" font-size="11.2" font-weight="normal" text-anchor="start" fill="#111" font-family='"Liberation Sans", sans-serif' >2061</text>
<line x1="286.6" y1="477.3" x2="286.6" y2="717.4" stroke="#F3F3F3" stroke-width="0.8"/>
<line x1="321.6" y1="477.3" x2="321.6" y2="717.4" stroke="#F3F3F3" stroke-width="0.8"/>
<line x1="356.8" y1="477.3" x2="356.8" y2="717.4" stroke="#F3F3F3" stroke-width="0.8"/>
<line x1="391.8" y1="477.3" x2="391.8" y2="717.4" stroke="#F3F3F3" stroke-width="0.8"/>
<line x1="262.7" y1="669.1" x2="416.0" y2="669.1" stroke="#F3F3F3" stroke-width="0.8"/>
<line x1="262.7" y1="596.7" x2="416.0" y2="596.7" stroke="#F3F3F3" stroke-width="0.8"/>
<line x1="262.7" y1="524.3" x2="416.0" y2="524.3" stroke="#F3F3F3" stroke-width="0.8"/>
<line x1="269.0" y1="477.3" x2="269.0" y2="717.4" stroke="#EBEBEB" stroke-width="1.1"/>
<line x1="304.1" y1="477.3" x2="304.1" y2="717.4" stroke="#EBEBEB" stroke-width="1.1"/>
<line x1="339.2" y1="477.3" x2="339.2" y2="717.4" stroke="#EBEBEB" stroke-width="1.1"/>
<line x1="374.3" y1="477.3" x2="374.3" y2="717.4" stroke="#EBEBEB" stroke-width="1.1"/>
<line x1="409.4" y1="477.3" x2="409.4" y2="717.4" stroke="#EBEBEB" stroke-width="1.1"/>
<line x1="262.7" y1="705.3" x2="416.0" y2="705.3" stroke="#EBEBEB" stroke-width="1.1"/>
<line x1="262.7" y1="632.9" x2="416.0" y2="632.9" stroke="#EBEBEB" stroke-width="1.1"/>
<line x1="262.7" y1="560.5" x2="416.0" y2="560.5" stroke="#EBEBEB" stroke-width="1.1"/>
<line x1="262.7" y1="488.1" x2="416.0" y2="488.1" stroke="#EBEBEB" stroke-width="1.1"/>
<path d="M327.6 652.4h0M345.9 688.5h0M329.6 699.0h0M333.7 695.6h0M349.0 681.4h0M329.6 693.4h0M350.5 697.1h0M333.8 698.3h0M346.5 699.5h0M329.5 685.1h0M330.4 679.4h0M332.1 702.0h0M332.8 698.9h0M349.7 671.8h0M350.6 689.4h0M332.1 695.6h0M330.9 696.3h0M348.2 695.0h0M350.9 690.1h0M348.3 689.4h0M351.0 699.1h0M327.0 694.3h0M348.3 688.5h0M327.8 675.2h0M335.2 698.5h0M341.0 702.3h0M327.1 687.8h0M349.4 680.2h0M349.4 692.6h0M330.0 691.0h0M326.9 698.4h0M329.4 700.6h0M350.7 661.4h0M347.1 696.4h0M337.5 701.8h0M336.1 697.7h0M346.2 698.4h0M348.4 681.8h0M350.4 695.9h0M349.7 680.2h0M326.8 694.1h0M347.5 690.3h0M328.5 689.3h0M328.8 677.0h0M348.4 686.2h0M329.4 690.2h0M351.0 693.8h0M332.1 700.2h0M332.1 694.5h0M329.8 693.0h0M330.4 693.0h0M329.8 698.3h0M329.6 673.6h0M327.0 647.2h0M330.2 698.9h0M328.9 683.8h0M331.0 682.4h0M330.8 686.8h0M334.5 698.4h0M332.5 701.6h0M343.7 695.3h0M344.3 692.6h0M331.1 696.7h0M347.8 696.2h0M334.2 701.3h0M328.7 671.0h0M350.8 686.8h0M333.4 697.9h0M345.9 702.2h0M340.7 702.3h0M327.3 676.3h0M348.3 699.9h0M349.4 676.9h0M350.1 685.9h0M328.2 677.5h0M350.9 694.9h0M330.1 681.9h0M348.5 697.0h0M334.6 698.0h0M333.7 693.5h0M332.6 691.5h0M332.6 691.5h0M333.2 702.2h0M349.3 689.1h0M351.4 689.7h0M346.8 691.5h0M333.4 699.7h0M351.2 671.8h0M350.3 679.9h0M345.4 700.0h0M333.2 699.2h0M346.0 692.3h0M328.1 683.1h0M327.1 701.3h0M327.8 680.4h0M328.2 678.7h0M350.3 668.3h0M332.2 698.8h0M329.0 692.8h0M348.3 698.8h0M351.6 676.0h0M344.9 692.7h0M342.7 701.9h0M349.0 692.2h0M345.5 698.5h0M345.6 699.6h0M330.1 685.7h0M337.1 702.0h0M331.8 700.8h0M330.2 685.7h0M334.2 701.5h0M334.5 700.7h0M327.4 691.6h0M327.0 695.7h0M347.7 690.5h0M350.8 656.2h0M350.6 674.2h0M336.2 701.1h0M350.8 698.3h0M346.4 701.3h0M331.8 698.0h0M334.1 698.1h0M348.6 696.4h0M348.5 690.2h0M326.9 692.2h0M343.7 697.3h0M333.2 699.2h0M332.3 690.0h0M329.6 697.0h0M345.0 696.1h0M350.3 688.7h0M351.4 649.0h0M328.3 671.2h0M347.1 691.1h0M336.1 700.3h0M331.9 696.4h0M347.9 692.1h0M351.0 697.3h0M334.5 701.8h0M349.3 690.5h0M350.7 664.0h0M329.8 697.8h0M327.2 658.3h0M349.1 674.4h0M346.2 698.7h0M331.8 701.0h0M349.9 697.8h0M328.6 680.5h0M351.1 687.7h0M349.7 676.8h0M350.3 683.2h0M332.9 694.9h0M345.7 697.0h0M327.1 699.2h0M348.9 681.8h0M349.5 673.7h0M334.0 697.4h0M328.7 671.9h0M333.5 695.6h0M347.7 680.5h0M345.6 701.3h0M345.7 696.9h0M329.3 684.1h0M350.8 701.5h0M330.7 697.5h0M348.1 702.4h0M328.5 675.7h0M351.5 694.3h0M328.8 671.9h0M329.0 664.4h0M348.8 684.8h0M345.4 692.2h0M329.7 686.5h0M327.6 680.6h0M347.3 692.3h0M342.7 701.4h0M328.3 672.9h0M348.5 690.1h0M350.0 675.1h0M344.5 695.8h0M351.5 662.5h0M329.2 688.4h0M348.0 699.6h0M329.8 685.7h0M351.4 688.8h0M347.9 700.6h0M334.0 700.8h0M346.9 689.2h0M327.5 685.1h0M346.8 691.9h0M332.4 692.2h0M345.6 690.2h0M350.5 697.0h0M350.1 680.6h0M350.0 697.8h0M347.1 700.6h0M351.4 650.2h0M327.6 683.9h0M327.3 675.6h0M328.1 685.5h0M351.5 694.0h0M346.6 690.9h0M351.4 680.8h0M329.7 682.2h0M350.5 688.0h0M329.3 701.0h0M350.3 676.0h0M328.6 666.3h0M348.8 693.6h0M348.3 688.2h0M342.3 700.3h0M345.2 700.8h0M350.9 685.6h0M328.5 695.2h0M332.2 700.6h0M329.0 688.5h0M350.5 696.9h0M331.8 696.8h0M347.3 700.3h0M351.1 700.3h0M328.8 700.2h0M350.9 699.9h0M350.8 679.8h0M331.0 696.7h0M340.8 702.2h0M349.3 684.7h0M348.8 688.4h0M347.2 697.1h0M328.8 689.0h0M344.6 701.8h0M332.8 701.6h0M333.0 698.0h0M350.3 681.0h0M327.6 697.6h0M326.9 680.8h0M345.2 695.8h0M329.3 678.6h0M327.2 673.9h0M331.8 695.1h0M329.0 670.2h0M327.5 685.7h0M348.0 683.5h0M347.5 683.7h0M350.2 667.4h0M328.5 676.2h0M349.1 697.4h0M336.7 699.6h0M351.0 684.5h0M328.6 664.7h0M330.4 693.9h0M332.1 691.9h0M350.6 690.9h0M348.0 696.7h0M334.6 697.1h0M330.0 675.9h0M331.6 688.0h0M350.9 658.7h0M347.8 701.2h0M348.4 688.9h0M349.6 683.9h0M350.7 663.6h0M351.5 642.8h0M350.3 699.0h0M328.6 668.9h0M350.7 692.9h0M347.0 697.4h0M350.6 688.3h0M329.7 696.1h0M346.6 691.4h0M329.2 681.7h0" stroke="#4169E1" stroke-width="3.2" stroke-linecap="round" stroke-opacity="0.55" fill="none"/>
<path d="M327.3 695.0h0M351.5 692.3h0M351.4 639.9h0M349.7 673.8h0M328.4 683.2h0M329.0 687.4h0M349.5 689.6h0M329.4 701.1h0M346.3 696.5h0M348.7 688.7h0M330.3 688.1h0M350.1 700.8h0M327.7 682.6h0M327.6 648.0h0M329.1 670.4h0M351.0 698.5h0M327.9 674.7h0M348.0 679.8h0M327.2 657.4h0M341.4 701.3h0M330.9 688.8h0M328.2 690.2h0M327.7 680.6h0M350.0 666.6h0M327.5 663.3h0M347.4 701.3h0M347.3 700.0h0M328.9 684.3h0M327.0 701.1h0M348.4 701.6h0M334.6 700.3h0M331.6 686.8h0M334.0 697.7h0M329.8 677.2h0M331.7 698.9h0M327.9 699.4h0M346.5 696.7h0M350.2 665.6h0M327.5 676.8h0M335.3 695.8h0M329.5 696.0h0M332.2 692.9h0M329.1 678.3h0M348.6 695.2h0M344.4 700.0h0M344.7 696.2h0M335.2 696.6h0M350.8 672.7h0M329.7 690.5h0M345.1 697.9h0M351.6 688.7h0M348.4 681.5h0M348.8 700.7h0M327.5 685.6h0M328.7 683.0h0M329.8 692.9h0M351.6 686.6h0M328.9 690.8h0M329.7 685.0h0M348.9 687.5h0M345.7 692.8h0M351.3 656.3h0M350.9 687.7h0M348.8 697.5h0M348.2 680.7h0M329.8 687.2h0M328.1 701.2h0M349.3 684.7h0M329.4 696.5h0M347.9 689.4h0M350.4 684.8h0M333.5 693.4h0M349.9 695.3h0M328.8 688.2h0M345.0 693.6h0M330.7 691.2h0M327.1 643.0h0M351.6 682.9h0M333.3 699.4h0M349.0 698.8h0M329.4 697.5h0M348.6 676.7h0M342.2 701.4h0M331.3 702.0h0M328.7 692.3h0M349.8 683.2h0M348.9 685.3h0M351.2 689.0h0M331.8 690.4h0M332.5 702.3h0M330.4 690.4h0M335.8 700.2h0M328.2 690.6h0M350.3 671.5h0M334.5 699.1h0M350.2 679.9h0M329.6 692.8h0M333.7 692.8h0M329.4 700.2h0M347.9 684.6h0M348.6 702.3h0M344.9 698.7h0M337.0 700.2h0M343.2 698.5h0M329.4 695.6h0M348.9 680.5h0M341.6 702.1h0M329.9 696.8h0M348.8 689.2h0M328.5 689.9h0M349.0 702.3h0M349.1 663.9h0M347.6 694.0h0M332.2 697.3h0M329.6 677.1h0M346.2 694.6h0M351.0 700.4h0M350.3 685.6h0M351.0 649.4h0M348.0 688.3h0M328.7 700.5h0M328.4 684.2h0M342.7 701.3h0M336.8 701.6h0M341.5 702.0h0M328.6 682.4h0M347.0 701.6h0M331.0 687.6h0M341.9 700.5h0M331.9 701.2h0M329.7 689.9h0M329.5 678.0h0M328.3 693.9h0M351.1 661.0h0M337.0 700.3h0M348.9 678.5h0M332.7 694.3h0M328.4 699.8h0M326.9 646.3h0M348.5 682.1h0M349.2 674.2h0M332.0 691.1h0M332.9 692.9h0M327.3 644.8h0M348.6 698.9h0M329.3 687.3h0M348.1 687.6h0M336.3 701.1h0M346.5 700.3h0M347.5 688.1h0M331.6 699.8h0M349.7 690.9h0M349.7 666.4h0M335.1 701.2h0M350.8 694.8h0M332.0 694.3h0M349.3 674.9h0M351.6 697.7h0M348.3 692.0h0M348.7 689.6h0M349.4 695.3h0M349.6 690.1h0M348.9 695.9h0M351.1 677.6h0M334.7 699.7h0M328.1 677.8h0M347.5 701.4h0M346.0 696.6h0M347.8 701.6h0M330.4 693.4h0M349.5 701.9h0M347.1 699.9h0M348.4 700.1h0M327.7 675.8h0M330.1 699.2h0M350.2 672.3h0M349.0 691.9h0M332.7 700.5h0M343.3 696.9h0M345.4 696.7h0M327.3 670.0h0M327.9 692.3h0M331.3 699.7h0M344.6 696.1h0M348.0 697.9h0M350.9 675.0h0M351.3 694.0h0M346.4 692.8h0M327.6 651.7h0M347.4 689.0h0M348.7 679.7h0M331.2 701.6h0M332.4 692.8h0M347.0 702.3h0M351.0 662.3h0M331.0 684.9h0M331.7 695.1h0M326.9 646.4h0M327.7 701.5h0M348.8 673.5h0M348.4 697.1h0M346.8 698.1h0M351.6 691.0h0M328.6 701.3h0M328.9 701.2h0M329.7 695.5h0M349.0 679.1h0M330.8 689.3h0M342.4 700.9h0M350.0 693.5h0M328.6 665.3h0M327.4 696.1h0M350.9 689.0h0M348.7 687.3h0M330.0 687.6h0M343.5 700.8h0M349.3 689.9h0M345.5 693.8h0M347.7 691.8h0M332.7 689.5h0M346.6 697.7h0M345.6 700.8h0M327.3 681.0h0M327.3 685.9h0M327.8 683.5h0M348.1 697.0h0M351.5 686.5h0M328.0 689.2h0M330.9 686.7h0M351.0 686.8h0M351.2 663.9h0M328.2 683.8h0M349.7 688.6h0M329.6 688.0h0M331.2 701.1h0M329.3 701.0h0M329.2 688.2h0M350.9 685.3h0M347.7 696.2h0M333.4 697.6h0M331.6 697.7h0M351.0 692.0h0M350.8 663.2h0M328.3 664.4h0M350.4 682.7h0M329.2 700.4h0M335.7 698.7h0M327.9 677.6h0M346.5 693.7h0M332.5 702.3h0M329.3 672.8h0M331.6 696.7h0M328.5 670.1h0M349.2 682.3h0M330.3 697.9h0M326.8 643.9h0M348.9 700.3h0M348.2 676.5h0M329.9 674.9h0M351.3 676.5h0M327.9 668.2h0M349.0 670.4h0M350.3 683.3h0M343.3 701.9h0M349.1 694.2h0M351.4 671.4h0M327.0 685.9h0M350.8 635.4h0M346.7 697.2h0M346.8 697.6h0" stroke="#4169E1" stroke-width="3.2" stroke-linecap="round" stroke-opacity="0.55" fill="none"/>
<path d="M350.5 693.8h0M327.5 690.7h0M350.7 698.7h0M331.2 686.4h0M334.4 693.8h0M351.0 693.1h0M327.7 690.9h0M327.4 693.2h0M326.9 685.7h0M350.2 698.8h0M332.6 693.1h0M330.6 694.3h0M330.2 693.2h0M349.0 684.9h0M351.0 701.3h0M346.5 689.1h0M348.2 689.8h0M348.7 673.7h0M345.0 691.9h0M334.1 699.7h0M342.9 700.5h0M350.4 693.4h0M351.5 690.9h0M327.7 687.2h0M331.2 696.4h0M329.8 692.5h0M351.0 657.8h0M349.4 700.2h0M345.2 694.8h0M328.5 700.8h0M327.1 693.7h0M351.6 667.3h0M345.4 701.5h0M331.5 701.7h0M349.6 673.7h0M327.3 697.0h0M328.9 697.4h0M347.7 693.4h0M346.1 693.4h0M332.8 693.4h0M346.7 699.4h0M349.6 695.8h0M347.8 696.9h0M345.8 697.0h0M351.5 701.0h0M332.9 700.0h0M345.9 699.1h0M326.8 680.0h0M330.9 692.7h0M329.0 693.7h0M327.0 677.7h0M328.4 677.5h0M331.9 698.9h0M347.6 688.9h0M329.8 687.9h0M351.4 676.0h0M327.7 667.3h0M349.4 690.5h0M328.4 670.0h0M328.1 675.0h0M342.9 699.1h0M351.2 675.5h0M334.9 698.8h0M330.3 694.3h0M349.6 683.7h0M348.7 674.3h0M329.8 687.5h0M327.8 685.2h0M328.5 695.8h0M350.0 695.4h0M349.6 677.8h0M327.3 658.9h0M329.6 682.6h0M345.6 698.3h0M343.7 700.4h0M329.1 696.9h0M327.7 681.2h0M346.8 698.8h0M332.6 700.3h0M329.4 690.9h0M327.5 658.4h0M328.0 701.1h0M347.9 683.1h0M327.0 681.5h0M330.3 702.0h0M328.5 700.9h0M348.9 680.3h0M327.2 693.2h0M350.2 697.6h0M351.2 669.2h0M347.7 690.2h0M336.1 702.3h0M346.6 700.8h0M329.0 672.1h0M351.4 688.5h0M329.5 685.6h0M344.2 700.6h0M348.6 682.0h0M333.9 696.2h0M335.7 702.4h0M350.1 680.6h0M332.0 699.7h0M333.2 693.4h0M349.8 680.3h0M328.0 680.5h0M349.1 684.6h0M329.3 683.7h0M349.5 699.6h0M347.2 689.3h0M351.0 675.3h0M351.5 698.2h0M329.0 667.4h0M329.5 685.4h0M332.4 695.3h0M351.0 683.0h0M350.9 661.8h0M328.6 689.1h0M327.4 681.6h0M332.1 698.8h0M350.8 700.0h0M350.6 659.6h0M347.2 695.2h0M348.8 702.1h0M329.4 701.8h0M327.9 695.6h0M347.8 689.5h0M348.0 684.1h0M331.4 698.2h0M329.0 679.5h0M350.2 700.4h0M342.4 698.0h0M327.2 663.2h0M349.7 671.6h0M331.6 691.6h0M333.3 693.4h0M349.8 685.6h0M331.3 701.4h0M331.0 690.7h0M348.2 698.2h0M350.9 678.7h0M326.9 679.4h0M347.9 699.6h0M332.0 697.6h0M326.9 639.7h0M349.3 687.6h0M351.0 676.8h0M349.3 664.0h0M330.9 697.7h0M327.6 700.8h0M329.3 673.2h0M349.0 674.2h0M333.6 697.7h0M346.8 688.8h0M330.2 701.7h0M350.5 688.7h0M327.4 697.7h0M345.3 693.6h0M350.8 699.3h0M348.5 702.3h0M350.9 673.1h0M335.0 694.0h0M329.8 699.8h0M345.7 700.5h0M328.8 697.2h0M348.3 685.4h0M332.2 699.9h0M345.6 696.6h0M349.7 681.5h0M351.5 663.9h0M348.4 686.5h0M328.9 690.4h0M328.7 691.6h0M350.4 658.3h0M349.8 668.1h0M351.5 696.3h0M330.4 695.4h0M328.3 692.8h0M350.2 679.0h0M348.2 678.0h0M349.6 697.9h0M327.9 702.1h0M333.7 700.7h0M351.5 662.7h0M351.4 691.9h0M346.0 694.5h0M329.3 678.5h0M350.1 686.5h0M331.0 691.9h0M343.4 699.5h0M351.0 683.8h0M344.1 694.7h0M329.0 678.1h0M351.0 683.7h0M350.2 661.3h0M327.4 686.0h0M328.9 689.0h0M349.9 674.6h0M328.5 681.9h0M350.2 691.5h0M349.1 685.0h0M330.1 691.7h0M329.5 695.0h0M350.5 683.0h0M327.4 684.0h0M328.3 679.4h0M332.1 690.4h0M328.3 701.9h0M347.5 696.9h0M327.7 698.1h0M350.7 689.9h0M348.4 685.0h0M348.5 695.6h0M351.4 648.5h0M347.0 697.2h0M351.6 689.6h0M344.3 695.3h0M348.7 694.1h0M347.6 698.4h0M347.9 692.8h0M331.2 683.1h0M345.1 700.5h0M331.8 700.1h0M349.3 694.5h0M345.2 694.6h0M331.6 689.6h0M332.5 692.0h0M349.4 678.5h0M350.2 700.2h0M350.3 666.8h0M327.7 692.1h0M348.5 692.7h0M345.0 702.3h0M350.7 679.6h0M326.9 674.1h0M328.4 679.3h0M344.9 698.2h0M347.9 685.2h0M348.9 687.2h0M328.6 696.6h0M331.0 691.3h0M350.7 653.4h0M330.3 683.7h0M350.7 684.2h0M329.2 672.8h0M332.7 702.3h0M350.8 687.5h0M350.7 688.1h0M346.5 697.1h0M330.2 688.4h0M327.4 679.1h0M328.8 693.8h0M346.4 692.7h0M348.1 687.0h0M349.0 700.0h0M328.4 699.9h0M349.9 691.1h0M331.8 695.3h0M329.3 689.1h0M333.7 702.0h0M345.5 702.1h0M331.8 690.4h0M344.9 702.0h0M351.2 674.8h0M349.0 677.5h0M351.6 664.5h0M343.3 699.8h0M334.7 699.2h0M327.8 696.1h0M327.1 696.7h0M328.8 702.0h0" stroke="#4169E1" stroke-width="3.2" stroke-linecap="round" stroke-opacity="0.55" fill="none"/>
<path d="M329.4 679.7h0M351.5 663.0h0M333.9 702.2h0M327.0 658.2h0M351.4 652.3h0M348.8 693.4h0M350.1 688.5h0M350.6 679.3h0M347.2 688.6h0M329.8 700.1h0M346.4 697.3h0M347.1 687.0h0M330.2 675.0h0M331.5 701.0h0M346.9 690.9h0M350.5 691.8h0M350.1 701.0h0M335.1 698.5h0M350.5 676.1h0M349.2 681.5h0M328.1 694.3h0M328.1 682.3h0M328.3 670.0h0M349.3 680.6h0M351.2 652.7h0M345.6 698.1h0M330.3 687.7h0M327.9 695.3h0M351.2 669.8h0M351.3 650.0h0M351.5 665.0h0M332.5 693.4h0M351.0 653.7h0M328.3 666.3h0M351.3 678.4h0M330.4 686.7h0M327.3 690.6h0M331.4 691.8h0M345.6 696.2h0M348.9 684.5h0M349.3 687.1h0M348.8 693.2h0M350.1 700.8h0M330.1 679.1h0M326.8 663.7h0M328.0 702.3h0M329.4 667.6h0M350.0 681.2h0M347.7 688.8h0M345.7 694.5h0M331.0 699.2h0M350.6 696.9h0M351.1 695.2h0M328.6 701.1h0M334.6 701.0h0M336.1 699.9h0M350.0 671.8h0M334.4 702.0h0M350.8 692.9h0M350.4 693.2h0M327.6 685.5h0M334.1 695.6h0M329.9 699.8h0M351.4 697.9h0M350.7 698.5h0M349.6 694.7h0M329.3 679.0h0M349.1 679.0h0M329.6 684.2h0M351.4 659.8h0M332.7 692.5h0M349.8 699.3h0M331.8 691.0h0M343.9 697.7h0M350.7 686.0h0M335.1 702.2h0M329.6 688.9h0M348.1 698.6h0M343.4 701.3h0M347.9 690.3h0M348.4 682.5h0M328.1 697.7h0M329.7 699.8h0M330.2 701.5h0M350.2 698.5h0M330.7 700.9h0M349.4 695.7h0M344.2 697.9h0M341.4 701.5h0M348.7 701.6h0M349.4 690.0h0M327.8 692.9h0M328.0 689.7h0M328.4 677.5h0M350.3 661.0h0M337.0 702.4h0M327.0 699.8h0M349.3 668.2h0M327.6 672.5h0M327.7 668.4h0M342.9 702.1h0M350.2 683.6h0M346.6 689.1h0M330.6 696.1h0M331.3 692.9h0M327.2 663.9h0M348.8 683.1h0M330.1 696.7h0M331.8 689.6h0M349.4 689.4h0M327.4 680.3h0M332.8 697.7h0M332.5 695.8h0M333.2 697.5h0M349.8 662.2h0M331.7 693.3h0M327.6 646.7h0M349.3 679.0h0M350.9 638.0h0M349.4 687.7h0M350.1 702.1h0M346.8 702.4h0M335.5 698.4h0M337.8 702.4h0M346.2 698.3h0M331.8 698.9h0M328.2 657.4h0M345.7 697.7h0M350.8 673.0h0M328.9 680.2h0M343.7 701.7h0M350.6 685.1h0M330.9 700.8h0M329.4 691.1h0M332.4 693.8h0M329.2 674.6h0M349.6 678.0h0M348.3 687.8h0M349.2 676.1h0M346.7 686.6h0M335.0 696.3h0M327.3 700.4h0M343.5 700.2h0M341.2 701.7h0M327.2 678.1h0M330.4 697.5h0M345.9 693.6h0M328.6 698.5h0M331.7 702.2h0M334.1 695.8h0M351.3 702.3h0M330.4 691.9h0M351.1 681.3h0M349.8 695.7h0M327.6 676.1h0M345.7 696.7h0M346.8 692.2h0M350.1 678.7h0M328.8 701.1h0M327.3 691.1h0M328.8 701.4h0M345.3 695.4h0M334.2 695.4h0M344.7 698.4h0M331.3 694.0h0M334.0 702.1h0M327.9 683.8h0M350.3 669.0h0M350.1 669.4h0M351.3 671.0h0M351.1 651.8h0M350.7 696.2h0M329.6 682.9h0M349.8 692.7h0M326.8 677.8h0M330.9 702.3h0M347.3 692.6h0M349.1 686.0h0M328.2 667.3h0M351.5 683.1h0M350.8 691.5h0M350.6 664.3h0M332.1 694.8h0M330.5 687.7h0M349.3 668.1h0M347.0 695.6h0M351.1 678.6h0M350.3 690.7h0M350.0 699.9h0M330.2 678.8h0M329.3 702.1h0M327.6 681.4h0M327.2 693.8h0M330.3 669.9h0M345.8 700.7h0M350.6 661.1h0M350.4 699.5h0M345.6 694.7h0M350.0 686.8h0M328.8 702.1h0M349.7 693.9h0M329.0 698.7h0M327.2 676.3h0M331.0 698.1h0M326.9 671.9h0M349.1 678.9h0M345.9 701.6h0M347.9 682.0h0M335.0 700.2h0M350.4 691.0h0M330.6 691.5h0M336.0 700.7h0M350.5 652.8h0M348.9 692.2h0M350.1 698.1h0M335.7 698.8h0M351.3 630.3h0M350.1 701.9h0M330.8 696.3h0M328.4 697.9h0M334.1 701.0h0M348.9 683.0h0M326.8 646.7h0M348.8 676.7h0M345.7 693.5h0M328.8 702.2h0M327.8 663.5h0M330.5 701.7h0M344.5 695.5h0M327.5 678.7h0M347.3 698.2h0M327.9 698.2h0M327.6 690.5h0M351.3 696.9h0M328.3 663.3h0M344.9 694.7h0M332.5 697.7h0M351.4 655.1h0M350.2 664.1h0M327.9 667.7h0M329.6 675.9h0M346.1 697.1h0M331.6 688.8h0M346.0 690.6h0M329.2 691.1h0M348.8 701.4h0M329.0 691.2h0M327.4 647.1h0M329.1 701.0h0M350.5 677.4h0M348.3 687.4h0M328.3 680.6h0M347.9 700.5h0M327.4 682.8h0M330.5 679.1h0M334.4 699.3h0M328.8 701.1h0M351.1 643.1h0M343.1 699.0h0M330.4 701.0h0M351.0 666.9h0M331.8 694.5h0M328.2 682.7h0M347.5 691.3h0M349.9 701.1h0M347.7 678.1h0M332.2 688.6h0M327.4 679.2h0M349.2 681.7h0M329.1 685.0h0" stroke="#4169E1" stroke-width="3.2" stroke-linecap="round" stroke-opacity="0.55" fill="none"/>
<path d="M328.3 690.7h0M327.3 658.6h0M348.5 684.3h0M350.5 697.3h0M329.6 689.9h0M347.2 695.1h0M327.4 669.0h0M326.8 690.3h0M348.4 691.0h0M341.3 702.4h0M351.4 672.5h0M351.2 667.4h0M348.4 686.0h0M333.2 701.2h0M346.5 696.7h0M328.3 658.4h0M348.4 701.8h0M351.1 701.4h0M327.9 666.5h0M350.8 686.2h0M346.9 694.8h0M345.2 694.3h0M350.8 692.5h0M328.6 697.9h0M347.9 692.9h0M327.5 701.9h0M348.9 693.6h0M332.7 695.4h0M350.4 699.5h0M350.9 667.8h0M327.4 702.2h0M346.8 695.1h0M326.9 676.4h0M331.8 702.0h0M346.1 695.1h0M334.2 692.4h0M333.0 701.1h0M330.5 685.0h0M346.1 693.8h0M333.6 701.9h0M333.0 694.1h0M327.9 677.9h0M351.1 678.7h0M331.5 702.1h0M346.9 691.3h0M343.9 699.6h0M348.6 682.7h0M347.0 692.3h0M334.1 701.6h0M331.0 688.5h0M349.0 700.9h0M330.0 692.5h0M346.0 701.8h0M349.2 691.2h0M350.5 697.1h0M344.0 701.9h0M346.8 690.5h0M346.6 686.7h0M347.0 698.6h0M347.5 701.6h0M330.2 695.4h0M327.1 662.7h0M335.1 697.5h0M328.6 693.2h0M345.6 693.5h0M328.6 682.7h0M334.5 697.9h0M328.7 679.2h0M351.3 665.6h0M351.4 643.6h0M344.9 699.1h0M328.6 669.3h0M327.4 660.4h0M332.4 699.9h0M327.5 689.4h0M351.4 687.2h0M349.7 685.4h0M329.2 673.7h0M349.6 697.0h0M351.5 636.3h0M327.2 689.2h0M344.1 700.2h0M327.7 680.7h0M327.4 673.8h0M346.6 700.5h0M330.4 678.4h0M327.5 700.8h0M327.4 686.7h0M328.8 698.7h0M342.4 699.6h0M332.3 686.7h0M327.4 668.8h0M331.3 688.0h0M351.3 700.3h0M348.2 683.8h0M350.8 680.7h0M328.6 672.4h0M341.8 701.4h0M345.0 699.4h0M349.0 670.0h0M327.0 660.2h0M326.9 689.7h0M351.3 646.2h0M327.1 696.9h0M331.6 699.9h0M333.4 701.7h0M348.4 684.5h0M350.2 692.7h0M350.9 688.6h0M351.4 677.7h0M351.6 678.7h0M346.5 697.9h0M333.6 700.8h0M327.9 694.3h0M350.9 701.8h0M345.8 700.4h0M350.4 693.4h0M347.9 693.2h0M345.0 694.7h0M350.8 690.5h0M336.1 700.6h0M328.1 701.2h0M349.3 672.4h0M329.6 680.7h0M347.2 688.3h0M348.2 688.2h0M328.2 666.0h0M346.3 692.7h0M331.1 699.3h0M348.7 682.2h0M351.6 696.9h0M350.2 685.3h0M350.8 656.0h0M346.3 690.4h0M331.2 691.3h0M349.7 664.5h0M328.6 682.6h0M328.4 697.9h0M351.6 687.0h0M328.7 699.3h0M331.9 698.0h0M349.3 695.0h0M351.0 695.4h0M330.5 672.8h0M333.1 699.3h0M328.6 683.8h0M351.2 661.3h0M348.8 692.5h0M348.3 671.2h0M331.5 689.6h0M327.1 667.1h0M350.3 685.1h0M347.4 682.8h0M345.7 692.1h0M346.7 688.7h0M329.8 697.6h0M343.2 700.3h0M351.4 701.6h0M343.9 700.6h0M344.1 699.4h0M327.3 702.1h0M332.3 693.8h0M348.4 702.2h0M349.3 675.7h0M328.0 693.5h0M343.5 698.6h0M349.9 679.5h0M348.0 694.8h0M348.2 685.0h0M348.0 701.1h0M350.7 700.5h0M331.7 698.1h0M350.6 685.9h0M332.1 700.4h0M349.4 690.5h0M327.0 698.9h0M342.5 698.9h0M334.0 697.5h0M328.6 671.2h0M350.1 693.4h0M329.5 686.3h0M346.0 688.8h0M332.1 702.3h0M349.1 686.9h0M329.3 690.0h0M334.7 697.8h0M350.1 672.9h0M329.8 691.7h0M349.1 684.2h0M333.2 695.4h0M334.0 696.6h0M349.8 685.1h0M350.9 665.3h0M341.2 701.4h0M347.0 694.3h0M351.5 684.6h0M347.9 701.9h0M335.0 696.2h0M329.7 675.3h0M349.1 688.1h0M349.1 700.8h0M349.7 678.6h0M332.4 693.5h0M332.6 692.2h0M330.4 683.6h0M351.2 682.1h0M349.4 677.1h0M349.0 700.6h0M330.0 684.9h0M347.9 691.1h0M347.5 690.9h0M330.7 687.3h0M328.0 658.1h0M351.3 699.3h0M328.5 667.9h0M330.4 678.7h0M347.4 685.7h0M328.0 683.1h0M330.0 697.0h0M329.6 673.5h0M327.3 682.5h0M335.3 701.0h0M328.2 697.5h0M348.5 677.4h0M328.1 662.1h0M331.3 701.1h0M334.1 697.2h0M328.7 671.7h0M350.2 679.2h0M329.2 691.6h0M330.1 695.4h0M346.0 690.4h0M333.0 701.4h0M349.6 686.8h0M344.2 692.4h0M329.4 688.1h0M333.7 700.5h0M351.1 661.3h0M328.2 699.1h0M349.6 674.3h0M332.0 691.9h0M330.9 700.4h0M334.6 695.6h0M333.5 695.0h0M327.5 690.5h0M348.8 676.4h0M329.0 685.4h0M351.5 667.4h0M327.8 678.1h0M347.6 681.6h0M344.1 696.6h0M329.7 683.6h0M330.3 692.8h0M351.2 691.5h0M346.5 689.0h0M345.8 695.5h0M329.7 696.7h0M332.0 699.0h0M329.1 696.2h0M334.2 698.7h0M328.8 697.6h0M351.1 700.8h0M327.2 694.2h0M351.3 678.8h0M326.8 700.3h0M331.9 689.1h0M351.3 630.9h0M332.6 698.0h0M334.4 698.0h0M346.1 698.2h0" stroke="#4169E1" stroke-width="3.2" stroke-linecap="round" stroke-opacity="0.55" fill="none"/>
<path d="M376.6 698.2h0M363.4 682.1h0M364.7 694.8h0M373.9 699.0h0M383.2 694.6h0M357.3 684.0h0M323.5 697.3h0M375.2 701.4h0M320.8 675.5h0M363.8 683.3h0M390.8 702.0h0M366.4 688.1h0M400.1 702.3h0M316.0 682.7h0M357.4 695.2h0M391.9 702.0h0M322.3 652.2h0M317.3 674.8h0M320.0 687.4h0M305.1 702.1h0M355.0 662.3h0M355.2 656.0h0M371.2 690.1h0M355.1 657.1h0M357.7 666.7h0M381.6 696.2h0M356.9 695.5h0M317.8 684.2h0M321.4 671.6h0M356.8 694.3h0M316.8 684.9h0M363.9 687.5h0M323.1 664.9h0M316.8 661.2h0M367.8 687.9h0M318.5 677.1h0M322.4 685.6h0M355.3 667.6h0M360.0 677.1h0M358.6 669.8h0M377.9 699.8h0M358.6 669.6h0M319.8 697.7h0M317.1 689.7h0M369.1 691.4h0M317.7 686.2h0M318.1 685.5h0M367.5 697.6h0M361.3 675.1h0M367.9 691.1h0M356.3 651.5h0M297.4 702.3h0M360.5 696.7h0M317.6 679.0h0M359.3 672.4h0M320.0 674.7h0M313.1 694.2h0M321.6 663.6h0M374.1 702.1h0M372.5 697.2h0M355.9 697.9h0M321.2 630.2h0M364.3 693.6h0M363.5 684.8h0M368.7 699.4h0M319.2 665.8h0M357.1 673.0h0M355.7 683.9h0M370.2 700.9h0M357.9 663.6h0M322.7 688.9h0M380.3 698.0h0M322.7 649.7h0M373.7 698.1h0M302.9 699.7h0M322.0 661.0h0M320.9 687.2h0M357.9 685.2h0M319.1 676.6h0M393.9 693.4h0M369.7 692.0h0M359.1 672.2h0M358.5 680.7h0M356.3 682.9h0M356.5 692.8h0M323.0 647.1h0M362.7 688.1h0M313.3 691.3h0M369.7 691.6h0M358.1 663.2h0M319.2 678.3h0M305.9 702.2h0M284.4 693.7h0M319.8 692.4h0M319.4 702.0h0M317.5 674.5h0M364.9 689.0h0M372.2 695.1h0M318.9 692.3h0M373.1 695.3h0M357.3 673.4h0M359.9 678.6h0M358.2 681.9h0M357.4 696.1h0M322.2 675.0h0M356.8 676.3h0M367.3 701.3h0M317.8 675.6h0M317.4 691.9h0M320.0 671.3h0M320.7 684.4h0M380.6 699.6h0M366.1 700.7h0M354.9 686.3h0M310.9 699.0h0M355.2 647.1h0M360.5 696.2h0M317.1 699.4h0M321.6 697.2h0M319.7 664.3h0M320.2 661.5h0M355.1 691.2h0M317.5 692.5h0M373.9 699.9h0M355.7 659.5h0M361.9 689.1h0M358.6 666.9h0M375.7 694.8h0M357.0 693.0h0M313.3 699.6h0M312.0 696.8h0M358.3 700.2h0M368.0 696.2h0M373.6 695.5h0M356.3 661.1h0M321.9 682.6h0M306.4 666.1h0M316.8 691.4h0M314.7 701.1h0M355.1 641.7h0M367.6 698.6h0M320.7 675.9h0M397.4 701.4h0M355.6 682.3h0M378.5 700.1h0M367.5 692.0h0M310.2 688.2h0M364.1 676.8h0M362.4 697.9h0M356.2 667.8h0M382.5 696.3h0M320.3 683.4h0M320.0 681.1h0M386.1 698.7h0M321.0 672.6h0M383.9 697.3h0M376.0 701.5h0M370.7 698.9h0M368.4 692.7h0M359.5 673.3h0M356.0 682.5h0M361.4 677.9h0M358.2 666.1h0M322.9 630.9h0M313.3 701.9h0M359.1 679.8h0M354.9 671.6h0M361.3 674.9h0M372.9 694.0h0M322.0 651.8h0M355.4 638.9h0M321.6 649.1h0M355.5 662.6h0M356.6 651.9h0M359.5 680.7h0M316.0 678.5h0M355.5 696.9h0M317.8 650.5h0M366.5 677.3h0M364.4 698.2h0M366.9 689.4h0M322.7 662.0h0M360.2 687.6h0M358.2 665.9h0M362.6 661.9h0M358.0 667.4h0M356.4 656.7h0M365.4 699.1h0M323.4 667.9h0M321.8 648.6h0M365.3 685.2h0M358.6 690.4h0M355.7 662.9h0M365.9 701.3h0M302.8 698.0h0M384.9 697.1h0M314.7 702.3h0M357.2 660.5h0M313.1 695.0h0M316.7 675.5h0M358.2 693.0h0M396.3 701.2h0M322.7 647.8h0M397.0 701.0h0M294.6 699.6h0M369.2 692.4h0M367.9 699.1h0M379.3 695.0h0M381.1 698.6h0M364.3 682.1h0M364.5 702.0h0M309.4 699.8h0M309.4 680.8h0M319.8 665.0h0M311.8 694.9h0M355.4 678.9h0M357.1 692.2h0M321.4 659.2h0M322.8 673.0h0M361.5 687.5h0M302.9 701.6h0M356.1 665.8h0M363.4 698.3h0M359.5 674.2h0M384.4 699.4h0M355.5 676.6h0M357.6 682.8h0M316.5 692.3h0M355.8 646.6h0M322.9 674.6h0M354.9 698.9h0M384.8 698.8h0M361.7 686.9h0M318.4 656.4h0M359.2 667.1h0M322.9 673.9h0M319.2 697.3h0M358.1 672.3h0M376.1 683.0h0M304.6 700.3h0M322.5 687.6h0M355.2 640.9h0M361.4 659.9h0M359.3 669.2h0M387.9 700.7h0M323.3 651.6h0M315.1 686.1h0M319.9 658.0h0M306.0 676.3h0M361.0 603.9h0M320.5 661.7h0M362.8 678.6h0M357.7 698.0h0" stroke="#EE0000" stroke-width="3.2" stroke-linecap="round" stroke-opacity="0.55" fill="none"/>
<path d="M371.6 698.7h0M365.3 692.0h0M308.5 694.8h0M303.6 675.3h0M363.0 691.0h0M377.4 699.3h0M311.4 688.6h0M357.8 649.5h0M368.7 691.1h0M358.9 673.5h0M315.5 690.1h0M368.3 692.3h0M322.3 661.0h0M384.9 687.1h0M356.6 690.7h0M356.0 693.9h0M360.9 678.8h0M378.0 695.0h0M322.5 686.4h0M368.3 688.6h0M319.5 689.6h0M320.4 665.0h0M317.1 696.1h0M370.7 694.0h0M356.3 698.7h0M355.3 695.7h0M317.2 692.0h0M360.4 686.1h0M356.3 670.1h0M360.4 682.0h0M356.7 695.4h0M356.8 659.4h0M354.9 690.2h0M314.8 689.2h0M366.1 698.6h0M322.8 669.5h0M389.6 699.6h0M316.1 697.1h0M358.6 657.7h0M360.0 681.2h0M379.3 700.7h0M355.7 685.0h0M373.4 695.0h0M310.5 699.4h0M397.6 694.9h0M317.0 676.2h0M373.3 694.4h0M355.3 666.5h0M370.1 699.7h0M323.2 648.6h0M371.4 696.2h0M318.7 698.0h0M307.9 701.8h0M304.5 699.6h0M381.5 698.4h0M321.7 666.0h0M359.9 686.6h0M356.7 651.9h0M356.3 652.4h0M318.1 689.8h0M309.6 689.9h0M375.6 700.2h0M307.5 697.0h0M357.5 679.2h0M355.5 661.4h0M356.5 692.2h0M355.0 685.3h0M360.0 684.7h0M322.2 644.3h0M306.0 694.5h0M383.1 699.1h0M359.1 682.7h0M311.6 690.2h0M365.8 689.7h0M315.8 700.0h0M369.3 690.0h0M355.4 641.2h0M323.0 685.6h0M358.2 674.4h0M362.6 686.4h0M365.8 687.8h0M365.5 699.4h0M356.4 646.3h0M359.0 623.3h0M367.0 689.0h0M322.5 663.1h0M322.1 660.3h0M376.2 697.7h0M311.9 701.6h0M382.3 696.3h0M355.8 674.3h0M312.7 659.9h0M312.2 701.6h0M321.6 653.8h0M367.9 689.4h0M373.8 695.6h0M319.9 667.7h0M321.9 647.4h0M355.7 645.6h0M362.6 678.0h0M397.8 701.2h0M374.5 690.9h0M371.6 691.8h0M356.6 677.5h0M356.6 689.3h0M319.3 693.0h0M386.1 697.9h0M314.0 686.4h0M313.3 691.5h0M357.1 668.7h0M316.9 674.9h0M355.8 651.0h0M361.8 683.5h0M356.2 664.7h0M394.7 700.5h0M356.5 646.8h0M322.2 655.6h0M378.0 699.4h0M315.0 687.6h0M323.1 687.1h0M372.3 696.1h0M355.4 642.4h0M312.6 669.7h0M318.2 692.6h0M363.7 676.7h0M320.1 661.0h0M322.4 701.5h0M355.2 685.2h0M363.7 684.0h0M394.2 701.7h0M358.0 683.3h0M307.7 696.2h0M359.4 694.5h0M362.0 688.8h0M321.9 654.0h0M356.2 660.3h0M355.2 638.7h0M320.4 661.3h0M379.0 696.2h0M357.4 673.6h0M359.5 668.6h0M304.6 699.2h0M321.4 673.7h0M355.6 677.0h0M355.1 654.9h0M392.5 700.7h0M323.2 641.6h0M390.7 700.0h0M318.4 693.8h0M323.1 668.6h0M356.8 696.5h0M321.3 662.1h0M357.2 665.2h0M369.4 695.7h0M322.0 674.5h0M367.9 700.8h0M373.8 700.6h0M373.4 694.5h0M359.5 689.9h0M315.1 682.7h0M323.4 647.9h0M318.0 671.0h0M308.1 698.2h0M397.0 702.0h0M315.1 681.6h0M365.7 691.7h0M356.9 700.8h0M355.5 689.0h0M371.6 652.2h0M316.5 700.6h0M371.9 701.2h0M313.6 689.8h0M357.8 699.2h0M310.2 700.7h0M321.5 685.6h0M321.7 679.2h0M314.5 683.8h0M358.5 667.9h0M354.9 642.7h0M370.8 698.1h0M358.3 682.4h0M316.6 698.3h0M395.4 701.5h0M368.5 688.8h0M304.6 701.2h0M387.6 699.6h0M320.3 673.8h0M323.2 640.8h0M361.3 699.3h0M319.9 665.1h0M308.7 699.5h0M355.4 675.5h0M355.2 657.6h0M322.6 644.9h0M316.7 678.3h0M361.2 696.5h0M366.0 692.3h0M366.6 690.3h0M371.5 696.2h0M363.4 694.3h0M386.8 698.5h0M358.6 663.9h0M323.8 621.3h0M358.9 668.4h0M360.4 671.2h0M323.3 698.7h0M378.5 699.9h0M358.9 670.0h0M395.0 700.1h0M321.4 676.6h0M322.7 658.0h0M380.7 672.8h0M360.4 672.8h0M322.7 665.9h0M316.6 677.4h0M386.1 698.3h0M359.8 701.3h0M358.6 678.0h0M358.2 686.3h0M321.9 652.5h0M366.0 684.5h0M378.9 701.2h0M321.1 696.8h0M397.7 701.2h0M384.6 697.9h0M322.6 695.7h0M356.8 677.8h0M321.1 690.8h0M390.1 695.4h0M306.8 699.5h0M366.1 694.4h0M318.1 683.7h0M322.0 648.5h0M310.6 693.9h0M386.4 702.0h0M359.4 669.9h0M370.7 699.3h0M322.3 682.0h0M355.0 663.8h0M357.7 699.5h0M362.2 689.5h0M307.5 699.4h0M361.2 695.5h0M314.0 690.7h0M381.7 699.7h0M396.1 699.2h0M355.4 650.1h0M292.5 689.6h0M364.8 699.9h0M362.6 698.6h0M323.3 664.9h0M300.6 702.3h0M357.1 686.5h0" stroke="#EE0000" stroke-width="3.2" stroke-linecap="round" stroke-opacity="0.55" fill="none"/>
<path d="M385.1 697.8h0M371.8 701.3h0M321.2 630.5h0M378.8 702.0h0M359.2 667.6h0M356.2 671.3h0M321.4 683.8h0M300.9 701.3h0M315.0 680.8h0M311.6 700.1h0M356.7 655.4h0M356.0 667.2h0M315.4 696.2h0M367.0 694.6h0M360.6 698.8h0M319.4 684.9h0M310.5 698.8h0M369.1 694.2h0M373.2 701.1h0M361.5 653.1h0M358.4 668.7h0M356.0 648.8h0M317.4 701.6h0M368.3 695.6h0M361.7 675.9h0M355.5 647.4h0M358.1 680.1h0M302.5 691.5h0M380.6 695.9h0M357.3 702.3h0M358.4 663.8h0M323.1 645.1h0M317.6 686.7h0M355.1 676.4h0M323.0 683.7h0M373.5 697.3h0M360.6 673.7h0M357.3 690.0h0M386.8 698.5h0M356.5 685.6h0M360.6 699.9h0M383.6 697.2h0M378.4 696.9h0M357.2 657.1h0M365.2 700.8h0M307.6 664.8h0M377.2 697.3h0M310.3 694.5h0M362.5 679.2h0M390.1 699.9h0M382.7 692.9h0M356.6 690.7h0M359.6 684.6h0M323.0 686.5h0M320.7 691.8h0M367.3 696.5h0M370.3 692.2h0M362.0 686.6h0M356.7 656.3h0M355.3 701.4h0M358.8 685.9h0M314.6 674.6h0M322.0 655.0h0M375.2 699.9h0M321.0 697.2h0M396.1 701.0h0M366.8 697.8h0M355.0 665.8h0M355.2 646.1h0M355.9 660.2h0M370.0 673.1h0M323.2 682.8h0M312.5 695.5h0M360.9 673.8h0M371.2 701.0h0M323.4 638.8h0M364.7 690.4h0M396.8 700.7h0M356.5 659.5h0M287.3 689.4h0M317.7 677.1h0M317.3 688.0h0M379.0 696.4h0M320.1 690.1h0M358.4 673.9h0M357.1 660.7h0M322.8 645.5h0M387.8 698.0h0M321.4 673.5h0M318.4 691.6h0M310.6 659.2h0M319.6 669.7h0M362.1 685.3h0M316.1 694.6h0M355.9 645.7h0M322.8 692.4h0M315.2 681.8h0M355.5 654.3h0M369.8 688.3h0M320.9 654.0h0M358.7 669.2h0M323.1 653.0h0M358.1 672.4h0M355.0 662.9h0M395.8 687.8h0M321.1 654.8h0M320.5 673.3h0M360.9 694.1h0M365.9 629.1h0M355.8 644.1h0M319.9 683.9h0M370.6 683.0h0M321.3 657.3h0M323.0 654.3h0M365.8 690.2h0M358.5 682.3h0M360.0 697.4h0M360.8 699.3h0M368.3 691.3h0M317.8 671.9h0M376.5 698.3h0M318.6 702.1h0M315.0 697.9h0M322.4 695.5h0M314.6 686.2h0M322.9 643.8h0M359.3 697.9h0M317.3 678.2h0M358.5 689.9h0M356.0 661.8h0M370.5 686.1h0M355.0 691.7h0M368.5 699.9h0M321.0 678.8h0M362.7 678.2h0M355.7 642.2h0M320.2 633.5h0M318.0 690.5h0M355.4 689.7h0M322.0 646.3h0M362.3 685.6h0M356.9 662.0h0M309.0 694.9h0M363.2 701.6h0M321.1 683.0h0M320.9 655.8h0M364.9 686.4h0M321.1 677.5h0M394.7 702.0h0M361.6 701.4h0M300.3 676.4h0M357.3 660.2h0M362.1 677.4h0M322.1 665.1h0M355.4 679.8h0M382.4 697.7h0M317.2 649.5h0M320.1 697.2h0M359.1 700.7h0M383.8 696.7h0M369.5 687.9h0M319.3 678.8h0M318.5 693.6h0M397.7 701.6h0M317.5 697.7h0M358.2 676.8h0M356.5 661.4h0M321.3 669.2h0M388.6 699.7h0M319.9 686.1h0M360.6 686.0h0M393.0 699.8h0M322.6 665.0h0M320.3 697.5h0M357.1 659.7h0M370.0 700.3h0M322.6 654.5h0M357.1 672.0h0M316.9 699.5h0M305.3 698.3h0M317.4 693.0h0M377.9 696.6h0M355.7 686.2h0M322.9 683.8h0M322.2 648.9h0M294.7 690.9h0M309.4 696.1h0M360.8 690.3h0M320.1 671.1h0M294.6 695.2h0M386.0 697.3h0M319.4 678.1h0M370.4 648.6h0M305.7 699.3h0M377.4 691.4h0M357.3 670.4h0M315.0 699.1h0M323.1 679.8h0M355.8 648.1h0M321.3 690.1h0M369.6 692.2h0M364.4 699.5h0M356.7 676.1h0M364.2 684.1h0M366.4 701.9h0M321.9 673.8h0M360.9 679.8h0M361.9 685.1h0M357.9 684.2h0M356.6 670.1h0M317.6 675.7h0M360.8 681.3h0M368.6 696.5h0M321.1 686.8h0M367.0 658.3h0M365.3 690.7h0M360.1 674.5h0M323.3 640.3h0M366.0 700.1h0M359.4 672.3h0M357.3 701.1h0M301.2 700.6h0M314.8 687.7h0M358.2 696.8h0M322.9 645.0h0M320.4 670.2h0M367.4 701.8h0M320.3 673.5h0M320.8 695.3h0M313.8 693.0h0M395.8 696.6h0M319.6 677.5h0M366.4 684.1h0M315.1 695.6h0M315.2 686.5h0M322.0 673.9h0M319.1 666.8h0M315.9 694.5h0M357.9 683.6h0M359.0 694.2h0M321.5 681.9h0M323.2 649.4h0M360.9 700.3h0M380.8 702.0h0M364.2 699.9h0M360.3 637.9h0M356.5 664.4h0M321.0 667.0h0M309.9 700.9h0M322.9 692.6h0M322.9 690.9h0M321.5 700.5h0M365.2 688.7h0" stroke="#EE0000" stroke-width="3.2" stroke-linecap="round" stroke-opacity="0.55" fill="none"/>
<path d="M364.1 692.8h0M362.0 679.1h0M358.0 670.2h0M311.9 700.5h0M315.2 677.3h0M357.3 662.1h0M363.3 701.2h0M321.8 649.9h0M323.1 660.3h0M373.5 665.0h0M374.9 701.0h0M311.9 689.9h0M363.7 693.3h0M355.5 665.9h0M363.8 691.2h0M355.7 698.8h0M319.6 701.0h0M322.6 682.4h0M388.8 700.8h0M392.1 699.9h0M361.2 680.4h0M357.3 665.4h0M311.1 695.6h0M356.2 645.3h0M363.3 679.4h0M359.9 671.0h0M362.7 687.1h0M355.6 674.5h0M358.2 632.2h0M316.8 695.9h0M310.9 699.8h0M322.3 690.0h0M308.6 695.0h0M322.5 677.3h0M357.3 661.7h0M319.9 686.3h0M321.5 652.5h0M317.8 677.2h0M317.9 671.0h0M358.7 683.3h0M358.8 695.1h0M357.4 680.5h0M356.2 685.0h0M355.6 646.8h0M320.5 698.2h0M355.2 677.8h0M364.5 693.0h0M320.7 688.0h0M316.3 692.4h0M361.3 697.4h0M365.1 691.1h0M322.5 697.3h0M356.0 682.9h0M366.8 696.7h0M369.2 690.2h0M354.9 669.0h0M316.6 684.5h0M323.3 646.0h0M320.8 685.4h0M355.2 682.2h0M322.6 646.1h0M362.7 694.4h0M321.4 682.8h0M382.1 701.6h0M357.2 684.3h0M358.2 609.7h0M359.6 683.8h0M323.1 648.0h0M365.6 684.8h0M363.2 686.9h0M361.9 694.4h0M378.3 660.1h0M319.1 669.5h0M358.3 693.2h0M355.6 661.5h0M366.5 699.3h0M360.4 691.0h0M355.8 646.6h0M316.5 699.4h0M317.6 672.9h0M356.0 645.5h0M319.7 690.2h0M318.1 682.2h0M357.8 669.8h0M366.6 687.1h0M357.6 677.9h0M306.6 701.5h0M355.0 643.5h0M321.5 680.4h0M307.5 696.7h0M359.1 683.5h0M364.4 700.5h0M385.7 698.5h0M386.7 701.8h0M359.2 669.8h0M321.2 668.1h0M384.4 701.2h0M323.3 655.3h0M363.3 688.2h0M355.1 686.9h0M318.4 682.5h0M322.4 651.7h0M362.7 687.0h0M360.3 689.6h0M323.4 685.4h0M323.4 688.4h0M323.5 637.9h0M373.1 697.2h0M373.2 697.2h0M318.9 684.8h0M315.9 688.6h0M362.3 695.0h0M363.7 688.4h0M319.2 696.8h0M358.7 669.2h0M309.3 681.6h0M354.9 672.8h0M366.9 690.1h0M359.6 691.4h0M366.3 692.7h0M312.5 689.4h0M358.4 670.5h0M357.8 689.6h0M319.9 702.3h0M318.2 673.0h0M371.6 701.2h0M380.7 702.1h0M319.0 691.9h0M315.8 683.8h0M359.3 698.0h0M319.4 685.2h0M385.0 700.0h0M323.5 641.9h0M360.5 643.4h0M313.8 692.7h0M373.7 695.4h0M397.4 701.2h0M322.3 649.9h0M365.4 683.6h0M305.8 700.5h0M377.7 695.6h0M357.9 663.8h0M356.6 666.8h0M312.3 699.3h0M313.0 689.6h0M394.7 700.9h0M316.5 694.9h0M317.0 660.6h0M323.1 689.4h0M318.2 697.1h0M322.7 676.6h0M382.8 701.4h0M318.8 676.4h0M363.7 684.0h0M357.9 674.1h0M317.7 674.2h0M357.7 659.7h0M318.2 690.6h0M314.9 683.9h0M373.8 701.3h0M316.0 697.8h0M362.8 690.7h0M357.7 676.0h0M358.8 667.1h0M355.6 693.1h0M364.4 682.8h0M355.9 666.3h0M382.7 698.8h0M315.8 693.6h0M362.1 693.4h0M355.7 642.6h0M319.5 678.2h0M355.2 645.8h0M307.3 702.1h0M316.9 680.7h0M311.2 693.7h0M318.4 688.5h0M320.8 687.8h0M322.0 693.1h0M291.2 685.6h0M361.4 694.4h0M373.8 694.0h0M323.2 695.4h0M322.6 650.9h0M357.2 663.8h0M382.5 700.1h0M356.4 650.1h0M362.0 691.0h0M364.1 688.5h0M386.9 697.2h0M361.6 674.9h0M379.2 666.2h0M392.0 702.0h0M367.2 689.3h0M381.4 697.0h0M368.2 692.9h0M302.6 698.2h0M322.4 668.3h0M362.3 694.4h0M314.4 700.4h0M357.0 647.3h0M319.4 685.8h0M368.6 697.5h0M357.8 670.6h0M355.0 667.9h0M359.6 671.8h0M355.0 671.5h0M379.0 700.4h0M316.0 697.8h0M355.8 674.7h0M319.3 677.6h0M359.6 671.5h0M322.6 696.8h0M321.9 679.9h0M365.4 658.7h0M374.6 702.1h0M367.1 695.1h0M395.8 695.4h0M375.2 651.9h0M318.3 683.8h0M369.0 699.0h0M322.8 664.9h0M356.8 666.5h0M367.5 689.2h0M361.8 701.4h0M315.0 684.8h0M365.6 690.5h0M378.3 702.1h0M368.3 693.1h0M297.9 688.3h0M355.7 677.2h0M378.3 700.0h0M363.8 692.1h0M359.6 691.4h0M358.9 670.8h0M355.7 660.7h0M372.9 700.3h0M355.9 687.5h0M355.8 643.4h0M376.2 702.2h0M355.0 699.0h0M321.5 683.7h0M321.4 670.4h0M319.9 638.1h0M310.5 693.3h0M322.4 679.2h0M356.7 691.7h0M322.1 676.0h0M356.0 669.3h0M356.9 621.6h0M369.1 677.6h0M361.0 694.3h0" stroke="#EE0000" stroke-width="3.2" stroke-linecap="round" stroke-opacity="0.55" fill="none"/>
<path d="M358.5 685.2h0M356.5 647.6h0M357.4 667.3h0M372.5 673.5h0M355.1 651.3h0M360.2 692.2h0M323.5 700.8h0M323.4 657.4h0M382.9 681.1h0M358.5 666.0h0M373.4 693.3h0M356.9 698.4h0M313.1 669.4h0M355.4 684.0h0M362.5 636.4h0M319.9 697.9h0M374.3 694.4h0M321.1 655.6h0M304.0 698.9h0M360.5 694.1h0M363.3 701.1h0M359.9 674.5h0M379.7 699.9h0M365.9 693.5h0M358.2 679.0h0M313.2 701.6h0M362.7 683.7h0M355.3 650.6h0M357.0 688.1h0M354.9 688.7h0M321.7 636.7h0M355.6 683.1h0M319.4 655.4h0M358.6 671.2h0M314.2 700.1h0M364.1 695.5h0M365.1 694.0h0M323.1 646.4h0M383.0 696.6h0M314.6 694.1h0M394.2 700.5h0M374.3 699.5h0M318.0 671.6h0M397.1 700.8h0M364.5 694.0h0M357.7 679.4h0M357.8 662.2h0M365.5 697.5h0M367.0 699.6h0M354.9 700.1h0M322.9 651.8h0M358.6 664.0h0M361.7 681.2h0M365.5 685.5h0M300.6 692.6h0M355.2 642.7h0M358.0 695.2h0M309.9 700.9h0M388.0 699.3h0M374.3 696.5h0M381.7 701.9h0M383.4 700.4h0M373.0 648.2h0M365.7 687.8h0M320.0 698.8h0M317.6 677.8h0M323.4 639.0h0M321.5 667.7h0M355.4 659.0h0M370.6 699.8h0M365.6 684.8h0M355.9 647.6h0M369.8 692.6h0M289.9 702.1h0M360.4 661.8h0M382.0 698.4h0M317.8 678.1h0M308.5 689.7h0M388.0 699.8h0M323.4 699.1h0M367.1 687.6h0M355.6 652.8h0M386.3 700.7h0M360.0 700.1h0M322.8 649.1h0M318.1 674.3h0M358.0 684.7h0M322.4 668.1h0M355.8 666.5h0M362.3 690.7h0M370.8 701.9h0M357.0 701.3h0M355.7 644.6h0M363.3 693.5h0M372.1 694.5h0M323.0 652.1h0M367.9 693.3h0M360.5 682.7h0M321.0 675.1h0M317.2 698.1h0M382.6 699.8h0M321.6 662.7h0M299.9 701.4h0M358.2 671.9h0M296.0 700.7h0M361.1 700.2h0M356.3 652.0h0M317.8 675.9h0M314.7 697.2h0M378.7 702.3h0M314.1 687.0h0M358.2 680.2h0M321.4 685.1h0M355.1 690.6h0M359.7 696.8h0M362.9 699.4h0M320.7 701.4h0M365.2 688.3h0M358.0 691.3h0M373.8 699.4h0M366.6 693.1h0M312.1 690.5h0M375.7 696.4h0M314.7 700.8h0M355.3 649.9h0M354.9 665.5h0M391.9 700.9h0M375.8 699.9h0M322.5 679.4h0M355.9 652.8h0M384.0 681.1h0M356.8 685.1h0M357.7 690.2h0M377.5 702.0h0M357.5 699.6h0M355.1 638.9h0M364.1 692.7h0M358.1 674.7h0M356.7 672.1h0M362.7 683.0h0M321.4 673.2h0M357.7 700.7h0M357.3 683.1h0M320.6 691.8h0M355.0 639.0h0M320.4 678.7h0M373.1 699.0h0M322.8 694.9h0M370.8 698.2h0M370.8 699.1h0M323.1 657.5h0M370.5 694.5h0M356.6 653.3h0M377.1 698.8h0M320.0 668.4h0M365.8 692.1h0M375.0 701.4h0M386.6 700.4h0M317.8 671.3h0M323.3 674.7h0M355.1 698.6h0M355.1 666.3h0M384.2 700.3h0M309.5 701.4h0M368.9 702.1h0M375.7 678.3h0M370.5 702.1h0M316.6 680.3h0M358.5 675.1h0M304.4 689.0h0M311.5 690.8h0M357.7 702.2h0M398.7 701.9h0M323.2 642.8h0M385.1 686.5h0M383.0 698.7h0M360.3 665.4h0M356.7 659.6h0M321.0 692.7h0M361.7 688.4h0M357.2 696.5h0M305.2 699.7h0M316.9 680.3h0M359.2 685.8h0M321.2 689.1h0M399.7 702.2h0M319.4 678.8h0M383.1 698.7h0M363.5 684.4h0M314.2 686.0h0M358.0 664.5h0M355.2 651.9h0M318.0 681.5h0M323.1 646.1h0M358.6 679.8h0M316.1 690.9h0M315.2 701.1h0M384.0 696.7h0M355.6 673.2h0M360.0 695.5h0M321.2 681.2h0M381.3 696.6h0M387.0 699.2h0M369.3 692.0h0M355.7 663.7h0M362.3 693.9h0M322.8 680.4h0M317.8 677.8h0M375.3 686.1h0M380.0 701.1h0M355.3 654.5h0M358.1 682.3h0M321.3 677.1h0M364.4 644.7h0M361.3 699.6h0M355.4 665.5h0M359.0 674.0h0M365.5 686.3h0M355.8 672.9h0M363.4 691.6h0M358.6 695.8h0M322.7 655.5h0M363.5 679.9h0M302.5 683.3h0M379.1 701.5h0M320.7 687.6h0M319.6 700.2h0M304.2 700.3h0M370.8 695.6h0M387.4 701.8h0M386.2 701.2h0M361.6 697.5h0M358.1 676.2h0M357.2 690.1h0M356.2 653.2h0M359.7 684.6h0M355.1 653.7h0M359.2 694.2h0M359.8 676.4h0M361.9 682.7h0M365.6 701.3h0M362.4 691.5h0M323.5 679.4h0M306.6 697.9h0M376.1 699.9h0M354.9 673.5h0M321.9 700.4h0M357.9 694.5h0M360.8 691.0h0M359.8 701.6h0M355.8 689.5h0M378.4 699.5h0" stroke="#EE0000" stroke-width="3.2" stroke-linecap="round" stroke-opacity="0.55" fill="none"/>
<path d="M365.1 686.4h0M375.2 701.5h0M355.6 662.0h0M316.0 688.2h0M367.0 696.4h0M391.5 693.7h0M320.9 675.8h0M387.1 696.6h0M321.2 651.5h0M297.9 702.2h0M356.1 674.9h0M378.6 685.7h0M368.6 679.0h0M368.0 698.5h0M363.7 686.9h0M363.8 692.1h0M358.6 695.7h0M375.0 697.1h0M368.2 689.1h0M297.2 701.9h0M366.0 690.7h0M360.3 695.7h0M382.3 696.3h0M313.1 694.5h0M320.0 674.3h0M359.1 678.4h0M362.6 683.9h0M368.8 695.9h0M362.0 676.5h0M368.5 696.2h0M356.0 700.9h0M355.3 695.6h0M366.2 688.6h0M319.9 667.3h0M357.7 699.8h0M322.4 656.0h0M359.9 694.8h0M357.3 676.0h0M386.8 699.2h0M362.1 675.7h0M322.3 670.4h0M368.0 635.8h0M360.2 696.4h0M356.6 689.3h0M357.0 695.4h0M356.2 658.0h0M320.3 687.0h0M392.2 700.4h0M308.1 700.7h0M311.7 696.1h0M323.0 662.0h0M319.2 699.9h0M359.0 671.2h0M319.5 687.6h0M367.1 699.0h0M323.5 681.8h0M318.7 668.7h0M322.6 667.1h0M376.5 694.7h0M360.7 678.8h0M365.5 687.6h0M361.8 681.8h0M298.7 692.7h0M361.1 677.4h0M319.3 681.7h0M356.6 648.7h0M322.0 684.8h0M365.9 637.2h0M389.7 698.0h0M363.6 688.8h0M355.5 680.8h0M357.6 665.6h0M308.3 702.1h0M315.6 689.1h0M379.1 698.3h0M361.9 694.4h0M374.3 694.3h0M357.8 699.0h0M389.4 680.3h0M365.3 688.6h0M312.6 689.9h0M317.7 690.9h0M310.8 677.3h0M358.6 676.2h0M357.5 681.7h0M318.9 666.5h0M322.6 694.7h0M318.6 683.5h0M355.5 662.6h0M309.9 701.3h0M322.8 651.3h0M355.4 671.7h0M323.4 688.7h0M301.6 701.4h0M378.6 695.9h0M322.6 655.3h0M357.5 687.8h0M375.3 684.6h0M357.8 685.8h0M316.8 681.7h0M312.4 696.6h0M355.8 679.7h0M377.2 694.9h0M365.2 702.0h0M322.1 649.4h0M365.7 693.8h0M321.6 663.2h0M382.5 699.1h0M363.5 687.7h0M323.3 670.3h0M396.7 702.1h0M321.0 672.1h0M322.9 692.4h0M366.4 685.3h0M394.6 700.1h0M363.9 693.3h0M363.7 700.4h0M377.3 701.1h0M319.8 682.2h0M362.1 700.3h0M359.0 690.3h0M303.3 696.6h0M355.8 645.5h0M355.1 656.6h0M357.5 677.8h0M320.9 694.8h0M322.7 650.9h0M365.8 701.6h0M381.5 665.0h0M323.4 694.1h0M356.3 653.7h0M313.3 694.0h0M312.8 697.5h0M311.4 689.8h0M276.7 701.0h0M376.0 692.7h0M318.8 668.3h0M385.7 700.2h0M304.2 684.4h0M377.1 697.8h0M316.5 670.8h0M358.4 674.1h0M372.6 696.8h0M356.7 664.3h0M321.0 680.6h0M390.1 690.6h0M322.0 683.0h0M323.4 690.2h0M356.4 668.1h0M322.9 657.1h0M322.6 667.3h0M372.4 694.6h0M395.8 701.7h0M321.8 669.4h0M355.4 640.1h0M356.3 660.8h0M376.4 695.0h0M366.1 689.7h0M376.7 695.9h0M360.4 675.0h0M315.4 690.4h0M356.6 648.5h0M312.8 670.1h0M382.9 702.3h0M358.0 664.7h0M309.6 679.4h0M368.5 699.8h0M314.9 693.5h0M356.1 698.6h0M359.9 670.8h0M361.9 672.9h0M316.6 685.5h0M289.1 702.1h0M370.9 697.5h0M374.0 699.6h0M320.9 670.6h0M317.1 701.4h0M356.9 678.9h0M359.6 696.9h0M309.2 700.8h0M378.5 701.1h0M323.4 638.1h0M382.5 682.2h0M359.3 701.6h0M375.8 701.7h0M365.9 686.2h0M367.8 694.6h0M376.1 700.0h0M355.6 646.0h0M355.2 643.8h0M356.2 687.2h0M304.1 697.7h0M313.4 700.7h0M357.8 660.5h0M314.5 692.8h0M362.0 677.5h0M361.6 681.9h0M356.1 679.2h0M365.3 663.9h0M322.1 665.7h0M355.4 656.7h0M372.7 695.9h0M363.1 630.0h0M381.1 700.1h0M355.6 671.5h0M321.4 679.4h0M367.0 693.6h0M359.6 687.6h0M311.7 695.9h0M381.3 696.6h0M355.2 695.2h0M314.7 689.2h0M384.8 700.1h0M372.1 693.7h0M319.8 679.1h0M383.0 701.6h0M365.2 694.5h0M362.1 651.8h0M359.9 686.6h0M323.3 695.2h0M356.1 676.5h0M310.8 697.8h0M303.9 700.3h0M315.4 699.4h0M323.4 646.3h0M362.6 685.9h0M309.6 701.7h0M355.3 642.3h0M313.5 696.2h0M364.4 687.9h0M321.7 689.1h0M361.0 680.5h0M321.7 669.7h0M357.6 659.9h0M360.5 673.5h0M321.5 691.4h0M360.7 674.7h0M396.0 701.9h0M304.8 699.2h0M316.3 693.9h0M322.9 657.4h0M320.0 680.9h0M357.5 698.1h0M382.7 698.8h0M364.8 678.3h0M380.2 696.5h0M356.8 677.9h0M370.1 696.3h0M356.0 675.5h0M323.1 645.7h0M363.5 680.5h0M398.4 702.3h0" stroke="#EE0000" stroke-width="3.2" stroke-linecap="round" stroke-opacity="0.55" fill="none"/>
<path d="M325.2 701.9L323.7 701.9L322.1 702.0L320.6 702.0L319.1 702.1L317.6 702.2L316.1 702.3L314.6 702.4L313.1 702.5L311.6 702.6L310.1 702.7L308.6 702.9L307.0 703.0L305.5 703.2L304.0 703.3L302.5 703.5L301.0 703.6L299.5 703.8L298.0 703.9L296.5 704.1L295.0 704.3L295.0 704.5L296.5 704.6L298.0 704.8L299.5 704.9L301.0 705.0L302.5 705.2L304.0 705.3L305.5 705.4L307.0 705.5L308.6 705.6L310.1 705.7L311.6 705.8L313.1 705.9L314.6 706.0L316.1 706.1L317.6 706.2L319.1 706.2L320.6 706.3L322.1 706.3L323.7 706.4L325.2 706.4Z" fill="#2E8E2E" fill-opacity="0.85"/>
<path d="M353.2 701.9L355.3 701.9L357.3 702.0L359.3 702.0L361.4 702.1L363.4 702.2L365.5 702.3L367.5 702.4L369.5 702.5L371.6 702.6L373.6 702.7L375.6 702.9L377.7 703.0L379.7 703.2L381.7 703.3L383.8 703.5L385.8 703.6L387.8 703.8L389.9 703.9L391.9 704.1L394.0 704.3L394.0 704.5L391.9 704.6L389.9 704.8L387.8 704.9L385.8 705.0L383.8 705.2L381.7 705.3L379.7 705.4L377.7 705.5L375.6 705.6L373.6 705.7L371.6 705.8L369.5 705.9L367.5 706.0L365.5 706.1L363.4 706.2L361.4 706.2L359.3 706.3L357.3 706.3L355.3 706.4L353.2 706.4Z" fill="#2E8E2E" fill-opacity="0.85"/>
<path d="M381.5 704.7h0M354.5 705.0h0M361.3 703.8h0M305.6 704.6h0M311.1 704.4h0M375.7 704.2h0M315.2 704.3h0M303.7 705.0h0M373.0 705.2h0M387.9 704.9h0M301.7 705.0h0M310.5 705.0h0M362.2 703.7h0M317.2 704.9h0M369.2 705.1h0M321.0 703.7h0M390.6 705.2h0M380.1 704.5h0M355.9 704.8h0M384.4 704.6h0M353.5 703.1h0M296.4 705.1h0M353.5 704.7h0M364.3 705.2h0M365.9 705.0h0M319.9 703.4h0M377.0 704.4h0M319.4 704.1h0M318.4 703.7h0M314.3 703.6h0M354.7 703.2h0M300.2 705.0h0M323.2 705.1h0M323.1 703.9h0M360.0 703.2h0M381.4 704.7h0M322.1 703.4h0M304.2 705.2h0M314.8 704.3h0M388.8 705.3h0M371.4 704.5h0M354.7 704.2h0M358.7 704.6h0M379.9 704.9h0M321.3 703.7h0M316.5 705.2h0M300.8 705.0h0M374.0 704.9h0M316.1 705.1h0M300.3 705.3h0M300.1 704.9h0M308.7 704.1h0M309.8 704.0h0M304.4 704.5h0M299.4 704.8h0M382.7 704.6h0M380.3 704.3h0M306.4 705.0h0M354.3 704.7h0M385.1 704.8h0M305.8 705.0h0M318.2 704.4h0M358.6 704.1h0M353.8 704.0h0M387.8 704.9h0M355.8 703.1h0M359.7 703.7h0M311.8 704.7h0M319.7 704.1h0M320.6 703.8h0M318.7 703.6h0M356.4 704.6h0M376.2 705.0h0M374.4 704.6h0M304.7 704.6h0M317.5 703.4h0M322.8 704.3h0M356.1 703.5h0M308.6 704.8h0M381.1 704.4h0M361.0 703.4h0M353.5 704.4h0M320.3 704.1h0M392.0 705.2h0M312.1 704.4h0M354.5 704.6h0M392.3 705.2h0M321.3 703.9h0M321.2 703.4h0M323.4 703.9h0M378.1 704.8h0M359.4 703.3h0M310.9 704.5h0M393.0 705.2h0M365.7 703.6h0M387.2 704.9h0M372.0 704.4h0M317.2 704.5h0M303.5 704.8h0M315.5 705.0h0M311.5 703.8h0M305.1 704.8h0M367.3 704.1h0M371.0 704.1h0M358.5 703.2h0M312.2 705.0h0M362.3 704.6h0M372.7 704.1h0M353.7 703.5h0M363.3 704.5h0M371.5 704.1h0M300.6 705.2h0M320.3 704.4h0M369.0 704.3h0M319.5 704.2h0M373.9 704.2h0M360.8 703.9h0M321.1 703.2h0M388.4 704.9h0M375.0 704.5h0M380.6 704.8h0M391.4 705.2h0M321.3 703.2h0M324.9 705.2h0M324.9 704.5h0M354.2 703.1h0M301.9 704.6h0M313.5 704.0h0M370.2 704.5h0M362.8 703.6h0M298.0 705.0h0M380.6 705.2h0M321.1 704.5h0M361.0 703.2h0" stroke="#228B22" stroke-width="3.2" stroke-linecap="round" stroke-opacity="0.55" fill="none"/>
<path d="M320.1 705.0h0M324.1 703.0h0M309.8 704.8h0M376.1 705.1h0M315.1 703.6h0M324.8 705.3h0M307.6 704.6h0M315.0 705.1h0M320.0 704.6h0M388.5 705.1h0M318.2 704.4h0M312.2 705.2h0M381.2 704.8h0M306.6 704.3h0M299.8 705.2h0M311.9 705.1h0M381.7 705.0h0M383.1 705.1h0M362.4 703.3h0M377.0 704.9h0M365.6 705.1h0M314.3 703.7h0M300.8 704.9h0M312.8 704.8h0M308.7 704.9h0M308.9 705.0h0M361.4 704.2h0M370.4 705.2h0M312.3 703.9h0M310.0 704.9h0M323.5 704.8h0M364.4 704.1h0M379.3 704.7h0M321.6 704.4h0M371.4 704.6h0M364.4 703.9h0M365.1 704.7h0M371.7 704.2h0M320.6 705.1h0M324.9 703.0h0M301.7 704.8h0M355.6 703.3h0M322.8 705.1h0M386.3 705.0h0M305.2 704.5h0M297.4 705.1h0M360.5 703.5h0M371.8 705.0h0M367.5 704.3h0M388.8 705.0h0M362.3 704.8h0M322.8 704.0h0M366.1 704.5h0M320.6 703.8h0M320.5 704.4h0M324.9 703.5h0M357.2 703.2h0M324.3 704.4h0M303.9 705.3h0M383.4 704.7h0M353.9 703.2h0M372.2 703.9h0M391.5 705.1h0M319.0 705.2h0M375.1 705.2h0M319.6 703.7h0M323.8 705.1h0M313.1 704.5h0M309.9 704.2h0M353.7 704.6h0M366.7 704.0h0M318.4 703.8h0M356.2 704.8h0M390.5 705.1h0M312.5 704.9h0M313.7 705.3h0M371.2 704.9h0M378.3 704.7h0M366.5 704.5h0M355.5 704.0h0M375.8 705.2h0M313.9 704.3h0M297.5 705.3h0M380.5 704.5h0M323.5 702.9h0M305.5 704.3h0M323.3 703.6h0M379.4 704.7h0M324.7 703.5h0M358.8 704.5h0M384.0 705.1h0M356.8 704.1h0M311.7 704.9h0M323.0 702.9h0M355.5 703.8h0M315.9 704.5h0M317.1 705.3h0M321.4 703.7h0M359.6 704.8h0M318.2 704.9h0M363.9 704.1h0M314.7 704.4h0M353.6 704.0h0M359.4 703.9h0M357.6 703.7h0M303.3 705.2h0M318.7 704.8h0M374.8 704.1h0M388.1 705.3h0M306.4 704.8h0M323.6 702.9h0M354.5 704.2h0M360.1 704.9h0M298.6 705.1h0M356.3 705.1h0M371.2 703.9h0M373.2 704.3h0M297.1 705.1h0M372.8 704.6h0M393.5 705.2h0M364.1 704.8h0M318.5 704.0h0M353.8 705.3h0M385.9 705.0h0M375.0 705.0h0M296.6 705.2h0M324.9 704.6h0M318.0 704.2h0M310.6 704.3h0M357.3 703.3h0M378.0 704.5h0M364.7 704.3h0M390.8 705.3h0" stroke="#228B22" stroke-width="3.2" stroke-linecap="round" stroke-opacity="0.55" fill="none"/>
<path d="M370.6 704.8h0M310.6 704.9h0M318.2 703.8h0M324.7 703.7h0M315.9 704.7h0M318.8 704.0h0M383.2 705.3h0M386.4 705.2h0M379.3 704.5h0M321.9 704.4h0M312.3 704.6h0M319.9 705.0h0M323.3 705.2h0M309.6 703.9h0M389.0 705.1h0M356.8 704.8h0M377.3 704.2h0M356.0 703.4h0M323.6 704.9h0M317.5 703.6h0M299.7 705.2h0M375.0 704.8h0M362.7 703.9h0M376.3 704.2h0M296.5 705.2h0M304.3 705.1h0M320.8 703.2h0M355.1 704.1h0M380.4 705.1h0M310.4 704.5h0M307.0 704.2h0M311.3 705.1h0M306.4 705.1h0M306.9 705.1h0M311.7 704.9h0M323.2 705.1h0M374.6 705.3h0M353.5 705.0h0M314.4 704.6h0M354.2 704.1h0M363.2 704.0h0M300.5 704.9h0M311.2 704.9h0M360.9 704.9h0M296.9 705.2h0M321.9 703.3h0M305.9 704.7h0M303.9 704.5h0M380.2 704.7h0M300.2 705.2h0M356.5 703.0h0M301.6 704.8h0M305.6 704.8h0M312.4 705.0h0M323.1 705.3h0M357.6 703.4h0M314.1 703.7h0M353.5 704.3h0M370.5 704.9h0M321.7 703.8h0M322.2 703.9h0M381.9 704.5h0M386.2 705.1h0M303.0 704.5h0M382.5 705.2h0M380.0 704.9h0M364.9 703.5h0M321.1 703.7h0M357.6 704.6h0M311.3 703.9h0M306.6 704.5h0M319.8 704.8h0M322.5 703.4h0M309.1 704.6h0M322.0 704.2h0M381.1 704.9h0M373.5 704.5h0M383.3 704.6h0M355.4 705.0h0M384.6 704.8h0M354.6 704.5h0M359.6 705.1h0M297.3 705.2h0M309.5 704.0h0M316.7 705.1h0M378.8 704.6h0M386.0 705.0h0M354.8 704.4h0M386.9 705.2h0M374.2 704.9h0M382.2 705.2h0M361.8 704.4h0M299.8 705.3h0M368.0 704.1h0M364.0 703.5h0M388.9 705.2h0M301.6 705.0h0M353.7 704.1h0M299.2 705.1h0M372.1 704.1h0M378.2 705.0h0M389.2 705.0h0M315.7 704.1h0M356.8 704.6h0M323.1 702.9h0M373.7 705.1h0M390.8 705.1h0M378.9 704.3h0M315.1 705.2h0M324.6 704.8h0M357.6 703.0h0M312.7 704.5h0M389.4 705.1h0M304.4 705.2h0M309.7 705.0h0M304.3 704.6h0M318.4 705.1h0M309.1 704.3h0M316.4 704.9h0M311.5 704.8h0M321.1 703.3h0M357.0 703.8h0M385.9 705.0h0M311.1 704.1h0M309.8 704.1h0M374.3 705.2h0M300.0 704.9h0M373.0 704.9h0M324.9 703.1h0M305.9 704.3h0M393.2 705.2h0M317.7 704.0h0M369.8 704.3h0" stroke="#228B22" stroke-width="3.2" stroke-linecap="round" stroke-opacity="0.55" fill="none"/>
<rect x="325.4" y="701.8" width="27.7" height="4.9" rx="1.5" fill="#4F4F4F"/>
<path d="M338.6 703.2h0M329.7 702.9h0M348.6 703.9h0M338.3 703.3h0M327.7 703.2h0M341.9 703.3h0M329.0 703.9h0M346.2 704.5h0M350.5 703.0h0M344.0 703.6h0M330.5 704.3h0M343.7 704.9h0M349.4 703.8h0M334.7 703.3h0M332.2 703.6h0M343.1 704.0h0M346.6 704.3h0M331.6 704.8h0M332.1 702.9h0M348.7 704.0h0M345.0 704.0h0M336.1 702.8h0M326.8 704.2h0M330.8 703.4h0M336.1 704.9h0M342.4 705.3h0M345.1 704.5h0M340.8 704.9h0M339.7 705.3h0M332.1 704.0h0M349.1 703.1h0M344.7 704.0h0M344.6 703.3h0M332.7 704.1h0M348.7 704.8h0M341.0 704.7h0M352.8 702.9h0M344.4 705.2h0M338.0 703.4h0M333.4 703.0h0M330.5 704.6h0M345.9 703.8h0M343.8 705.1h0M328.6 704.6h0M341.4 704.5h0M331.8 704.1h0M349.0 705.2h0M336.7 703.4h0M347.1 705.3h0M329.5 704.2h0M336.1 704.4h0M339.9 703.2h0M329.1 704.6h0M348.1 705.3h0M342.1 704.7h0M325.6 705.0h0M333.5 703.1h0M341.6 704.1h0M340.5 704.8h0M326.5 705.3h0M333.6 705.0h0M351.1 704.2h0M346.0 704.7h0M339.1 704.8h0M333.1 702.8h0M330.2 705.0h0M349.7 702.9h0M336.6 704.6h0M343.9 702.9h0M344.3 704.8h0M329.9 705.3h0M339.4 704.6h0M337.7 705.1h0M337.4 703.4h0M330.7 704.5h0M332.2 705.3h0M348.2 703.3h0M333.2 702.9h0M349.3 705.2h0M341.6 704.9h0M333.4 703.5h0M331.3 703.3h0M338.6 705.1h0M335.5 704.7h0M352.1 704.0h0M331.6 704.8h0M352.5 704.6h0M336.8 702.9h0M329.1 704.0h0M331.5 704.6h0M336.3 704.4h0M346.9 703.5h0M346.9 703.4h0M339.5 703.7h0M328.7 704.2h0M330.5 704.4h0M345.1 704.4h0M345.4 704.2h0M352.3 704.8h0M332.0 702.9h0M346.2 703.3h0M334.1 704.0h0M349.3 704.4h0M348.6 705.1h0M338.7 705.0h0M349.5 705.1h0M333.5 704.5h0M329.8 704.6h0M349.4 704.2h0M351.7 704.4h0M343.7 704.4h0M330.9 703.9h0M345.1 704.6h0M329.0 703.3h0M348.6 703.8h0M345.1 704.2h0M350.7 705.2h0M344.2 703.8h0M330.4 703.5h0M351.2 704.3h0M346.0 703.3h0M335.5 703.4h0M352.9 703.6h0M348.1 703.9h0M337.8 703.5h0" stroke="#4D4D4D" stroke-width="3.2" stroke-linecap="round" stroke-opacity="0.55" fill="none"/>
<path d="M330.5 703.0h0M348.2 704.7h0M339.0 703.6h0M331.3 703.6h0M351.0 704.2h0M326.4 705.1h0M342.1 704.1h0M351.1 704.5h0M328.9 703.0h0M336.1 705.1h0M340.8 705.1h0M326.9 705.2h0M337.6 705.2h0M343.5 703.2h0M328.3 704.1h0M341.8 705.2h0M333.8 704.3h0M332.2 704.4h0M341.6 704.8h0M336.3 705.1h0M341.3 704.1h0M346.3 703.5h0M346.3 704.3h0M336.8 704.1h0M350.8 703.2h0M333.8 704.5h0M332.9 705.2h0M352.2 703.4h0M336.9 703.4h0M336.4 703.4h0M348.8 704.1h0M327.5 703.7h0M340.8 705.2h0M347.1 704.3h0M329.6 704.0h0M344.8 703.0h0M333.9 704.7h0M343.4 703.8h0M349.1 704.1h0M340.3 703.3h0M337.0 705.1h0M336.6 703.5h0M336.5 704.4h0M336.5 704.6h0M343.0 702.9h0M329.4 704.2h0M334.3 704.9h0M349.2 704.0h0M347.4 705.3h0M343.3 703.2h0M337.7 704.9h0M333.6 703.0h0M330.8 705.1h0M331.9 703.0h0M345.5 705.2h0M346.0 704.9h0M344.9 705.2h0M337.7 704.8h0M337.5 703.8h0M327.0 703.6h0M352.2 704.3h0M329.9 704.5h0M351.3 704.2h0M348.5 704.3h0M345.4 703.0h0M338.6 704.4h0M332.9 704.3h0M340.0 703.0h0M338.0 703.9h0M342.2 704.8h0M333.5 703.3h0M336.1 704.0h0M345.1 705.0h0M332.5 704.6h0M337.8 704.8h0M352.7 704.5h0M340.5 704.1h0M337.0 703.8h0M345.0 703.8h0M328.5 703.9h0M328.7 703.8h0M340.9 704.2h0M325.9 704.9h0M343.2 703.0h0M341.8 704.1h0M351.4 703.1h0M349.9 704.2h0M338.9 704.4h0M334.1 704.4h0M326.6 703.9h0M325.7 702.9h0M338.5 703.1h0M329.5 703.0h0M344.1 704.5h0M334.1 703.7h0M346.9 702.9h0M335.5 703.7h0M336.1 704.8h0M336.9 704.8h0M334.4 703.8h0M343.2 703.7h0M350.4 705.0h0M338.7 703.1h0M351.3 703.4h0M329.8 703.6h0M341.7 703.2h0M334.3 703.0h0M334.8 704.7h0M338.6 704.7h0M332.8 704.0h0M336.5 704.3h0M336.3 702.9h0M348.3 704.5h0M339.5 703.0h0M337.2 703.9h0M346.5 704.5h0M337.6 704.7h0M347.2 703.8h0M351.0 705.2h0M330.9 703.3h0M345.7 705.1h0M332.7 704.4h0M325.6 705.2h0M352.7 703.9h0M335.0 704.0h0" stroke="#4D4D4D" stroke-width="3.2" stroke-linecap="round" stroke-opacity="0.55" fill="none"/>
<line x1="325.2" y1="477.3" x2="325.2" y2="717.4" stroke="#7a7a7a" stroke-width="0.8" stroke-dasharray="3 2"/>
<line x1="353.2" y1="477.3" x2="353.2" y2="717.4" stroke="#7a7a7a" stroke-width="0.8" stroke-dasharray="3 2"/>
<line x1="262.7" y1="702.4" x2="416.0" y2="702.4" stroke="#7a7a7a" stroke-width="0.8" stroke-dasharray="3 2"/>
<line x1="262.7" y1="477.3" x2="262.7" y2="718.0" stroke="#3a3a3a" stroke-width="1.3"/>
<line x1="262.09999999999997" y1="717.4" x2="416.0" y2="717.4" stroke="#3a3a3a" stroke-width="1.3"/>
<line x1="258.7" y1="705.3" x2="262.7" y2="705.3" stroke="#3a3a3a" stroke-width="1.1"/>
<text x="254.2" y="709.6" font-size="12" font-weight="bold" text-anchor="end" fill="#111" font-family='"Liberation Sans", sans-serif' >0</text>
<line x1="258.7" y1="632.9" x2="262.7" y2="632.9" stroke="#3a3a3a" stroke-width="1.1"/>
<text x="254.2" y="637.2" font-size="12" font-weight="bold" text-anchor="end" fill="#111" font-family='"Liberation Sans", sans-serif' >50</text>
<line x1="258.7" y1="560.5" x2="262.7" y2="560.5" stroke="#3a3a3a" stroke-width="1.1"/>
<text x="254.2" y="564.8" font-size="12" font-weight="bold" text-anchor="end" fill="#111" font-family='"Liberation Sans", sans-serif' >100</text>
<line x1="258.7" y1="488.1" x2="262.7" y2="488.1" stroke="#3a3a3a" stroke-width="1.1"/>
<text x="254.2" y="492.4" font-size="12" font-weight="bold" text-anchor="end" fill="#111" font-family='"Liberation Sans", sans-serif' >150</text>
<line x1="269.0" y1="717.4" x2="269.0" y2="721.4" stroke="#3a3a3a" stroke-width="1.1"/>
<text x="269.0" y="733.6" font-size="12" font-weight="bold" text-anchor="middle" fill="#111" font-family='"Liberation Sans", sans-serif' >-10</text>
<line x1="304.1" y1="717.4" x2="304.1" y2="721.4" stroke="#3a3a3a" stroke-width="1.1"/>
<text x="304.1" y="733.6" font-size="12" font-weight="bold" text-anchor="middle" fill="#111" font-family='"Liberation Sans", sans-serif' >-5</text>
<line x1="339.2" y1="717.4" x2="339.2" y2="721.4" stroke="#3a3a3a" stroke-width="1.1"/>
<text x="339.2" y="733.6" font-size="12" font-weight="bold" text-anchor="middle" fill="#111" font-family='"Liberation Sans", sans-serif' >0</text>
<line x1="374.3" y1="717.4" x2="374.3" y2="721.4" stroke="#3a3a3a" stroke-width="1.1"/>
<text x="374.3" y="733.6" font-size="12" font-weight="bold" text-anchor="middle" fill="#111" font-family='"Liberation Sans", sans-serif' >5</text>
<line x1="409.4" y1="717.4" x2="409.4" y2="721.4" stroke="#3a3a3a" stroke-width="1.1"/>
<text x="409.4" y="733.6" font-size="12" font-weight="bold" text-anchor="middle" fill="#111" font-family='"Liberation Sans", sans-serif' >10</text>
<text x="342.0" y="460.6" font-size="12" font-weight="bold" text-anchor="middle" fill="#111" font-family='"Liberation Sans", sans-serif' >Corpus epididymis</text>
<text x="277.9" y="484.2" font-size="11.2" font-weight="normal" text-anchor="start" fill="#111" font-family='"Liberation Sans", sans-serif' >525</text>
<text x="379.5" y="484.2" font-size="11.2" font-weight="normal" text-anchor="start" fill="#111" font-family='"Liberation Sans", sans-serif' >998</text>
<line x1="493.7" y1="477.3" x2="493.7" y2="717.4" stroke="#F3F3F3" stroke-width="0.8"/>
<line x1="528.8" y1="477.3" x2="528.8" y2="717.4" stroke="#F3F3F3" stroke-width="0.8"/>
<line x1="563.8" y1="477.3" x2="563.8" y2="717.4" stroke="#F3F3F3" stroke-width="0.8"/>
<line x1="598.9" y1="477.3" x2="598.9" y2="717.4" stroke="#F3F3F3" stroke-width="0.8"/>
<line x1="469.0" y1="669.1" x2="623.1" y2="669.1" stroke="#F3F3F3" stroke-width="0.8"/>
<line x1="469.0" y1="596.7" x2="623.1" y2="596.7" stroke="#F3F3F3" stroke-width="0.8"/>
<line x1="469.0" y1="524.3" x2="623.1" y2="524.3" stroke="#F3F3F3" stroke-width="0.8"/>
<line x1="476.2" y1="477.3" x2="476.2" y2="717.4" stroke="#EBEBEB" stroke-width="1.1"/>
<line x1="511.2" y1="477.3" x2="511.2" y2="717.4" stroke="#EBEBEB" stroke-width="1.1"/>
<line x1="546.3" y1="477.3" x2="546.3" y2="717.4" stroke="#EBEBEB" stroke-width="1.1"/>
<line x1="581.3" y1="477.3" x2="581.3" y2="717.4" stroke="#EBEBEB" stroke-width="1.1"/>
<line x1="616.4" y1="477.3" x2="616.4" y2="717.4" stroke="#EBEBEB" stroke-width="1.1"/>
<line x1="469.0" y1="705.3" x2="623.1" y2="705.3" stroke="#EBEBEB" stroke-width="1.1"/>
<line x1="469.0" y1="632.9" x2="623.1" y2="632.9" stroke="#EBEBEB" stroke-width="1.1"/>
<line x1="469.0" y1="560.5" x2="623.1" y2="560.5" stroke="#EBEBEB" stroke-width="1.1"/>
<line x1="469.0" y1="488.1" x2="623.1" y2="488.1" stroke="#EBEBEB" stroke-width="1.1"/>
<path d="M540.6 699.3h0M556.7 693.7h0M540.6 695.6h0M539.3 701.1h0M539.8 697.1h0M556.0 689.2h0M536.6 701.6h0M534.1 693.8h0M535.6 685.9h0M538.1 691.9h0M554.4 696.1h0M534.7 686.9h0M557.3 693.5h0M535.2 686.1h0M558.4 686.3h0M534.0 698.9h0M549.9 699.5h0M544.0 701.6h0M558.6 689.1h0M536.2 688.8h0M557.3 687.2h0M537.7 694.0h0M537.3 698.9h0M534.9 684.0h0M535.3 686.4h0M558.3 687.2h0M551.6 701.7h0M557.3 692.3h0M536.7 690.3h0M553.8 695.5h0M551.6 698.9h0M534.7 682.7h0M533.9 681.9h0M555.6 695.6h0M534.1 682.6h0M557.7 691.9h0M535.4 693.6h0M534.9 697.5h0M534.9 687.9h0M536.3 700.6h0M556.0 692.0h0M534.5 702.2h0M556.1 690.8h0M535.6 691.0h0M558.4 687.4h0M550.3 697.9h0M535.7 694.6h0M535.7 686.6h0M536.3 689.1h0M551.5 696.1h0M553.4 700.2h0M549.7 699.3h0M557.9 686.2h0M557.2 689.5h0M534.8 687.0h0M557.3 694.6h0M557.3 689.7h0M537.0 694.3h0M536.1 701.6h0M556.7 700.2h0M534.4 684.6h0M535.3 692.0h0M556.0 694.2h0M556.6 688.8h0M550.8 701.3h0M557.3 690.6h0M535.6 698.4h0M539.5 694.8h0M558.1 692.9h0M536.4 691.2h0M557.9 695.2h0M534.0 685.8h0M541.0 697.2h0M536.9 697.6h0M556.1 690.8h0M553.2 701.8h0M558.1 686.8h0M557.4 689.6h0M558.6 684.6h0M536.8 697.3h0M533.9 692.1h0M534.8 698.1h0M558.5 687.4h0M556.8 687.4h0M534.9 685.1h0M551.1 696.6h0M537.5 701.0h0M534.3 684.6h0M534.2 699.5h0M558.2 702.0h0M536.4 688.4h0M534.0 695.4h0M535.3 685.8h0M555.3 699.6h0M552.2 700.0h0M556.7 700.0h0M551.7 698.0h0M535.8 690.5h0M557.9 685.0h0M554.1 696.0h0M557.0 687.6h0M535.4 687.8h0M534.5 682.6h0M556.2 695.1h0M558.1 688.7h0M535.4 687.2h0M558.1 684.5h0M539.9 698.4h0M556.9 699.6h0M536.5 692.7h0M553.5 695.4h0M558.6 696.9h0" stroke="#4169E1" stroke-width="3.2" stroke-linecap="round" stroke-opacity="0.55" fill="none"/>
<path d="M535.4 698.1h0M558.6 684.5h0M544.3 702.1h0M539.2 696.8h0M538.2 697.4h0M554.4 696.2h0M536.8 695.7h0M553.5 699.8h0M535.5 683.2h0M557.6 700.0h0M534.8 687.1h0M534.9 686.4h0M542.7 699.8h0M555.1 693.7h0M555.3 700.5h0M557.9 693.5h0M557.6 701.7h0M556.2 692.2h0M557.3 687.4h0M554.3 695.8h0M537.5 691.2h0M534.9 685.3h0M534.3 684.9h0M536.9 687.6h0M557.6 700.7h0M540.1 696.8h0M552.1 695.0h0M536.8 698.8h0M536.4 702.2h0M534.2 696.8h0M557.8 700.7h0M542.9 700.4h0M535.4 687.0h0M551.4 700.6h0M541.0 701.9h0M541.3 699.0h0M556.4 696.7h0M534.7 692.7h0M556.9 693.1h0M556.7 687.9h0M557.6 685.9h0M534.0 689.6h0M537.1 688.1h0M556.9 691.9h0M554.7 692.0h0M542.4 701.5h0M534.0 683.5h0M555.4 699.3h0M537.6 693.6h0M534.1 682.5h0M535.9 700.1h0M534.3 701.8h0M558.2 689.5h0M554.4 692.8h0M536.0 697.7h0M534.5 685.4h0M558.4 686.5h0M558.3 700.1h0M558.4 690.5h0M555.2 692.1h0M557.6 701.1h0M536.4 693.0h0M558.6 684.3h0M538.1 697.5h0M537.1 691.2h0M534.2 684.6h0M557.9 687.0h0M558.2 695.8h0M558.4 699.3h0M558.5 685.8h0M540.8 701.4h0M558.0 693.1h0M535.9 700.3h0M548.4 700.4h0M541.6 701.1h0M557.0 689.6h0M555.4 692.7h0M537.6 692.3h0M552.7 694.0h0M558.2 686.5h0M557.7 687.4h0M535.6 687.7h0M550.7 697.6h0M537.2 701.1h0M557.3 685.8h0M557.6 688.6h0M534.1 689.6h0M534.0 689.0h0M556.8 694.2h0M541.2 698.3h0M534.1 692.2h0M534.2 692.5h0M557.7 700.6h0M558.1 685.2h0M556.7 700.4h0M537.2 690.4h0M558.1 688.0h0M535.4 690.4h0M553.8 697.7h0M556.4 701.7h0M536.8 689.4h0M552.0 698.8h0M535.0 692.6h0M555.9 697.3h0M553.3 695.1h0M534.4 683.5h0M556.6 698.4h0M534.1 696.7h0M535.7 696.3h0M549.7 702.3h0M556.2 696.5h0M554.2 696.4h0" stroke="#4169E1" stroke-width="3.2" stroke-linecap="round" stroke-opacity="0.55" fill="none"/>
<path d="M558.3 684.9h0M541.2 699.6h0M534.0 684.9h0M534.6 685.7h0M551.1 697.4h0M537.7 694.0h0M534.9 692.0h0M535.7 687.3h0M555.9 700.2h0M536.7 701.7h0M537.4 695.4h0M551.2 699.5h0M556.4 690.8h0M536.7 689.3h0M550.9 700.4h0M558.1 684.6h0M535.6 690.3h0M552.9 694.0h0M553.2 695.7h0M553.6 695.3h0M556.8 700.3h0M555.7 690.4h0M549.6 700.5h0M535.8 690.4h0M535.3 690.4h0M534.2 682.5h0M536.1 684.8h0M534.8 685.5h0M557.1 690.4h0M557.3 690.1h0M534.2 685.9h0M543.1 699.6h0M536.8 689.8h0M552.8 696.8h0M552.8 696.1h0M536.7 698.0h0M535.5 686.6h0M542.2 700.0h0M557.3 698.5h0M534.3 695.1h0M557.2 687.8h0M534.4 687.1h0M534.0 687.2h0M558.0 684.5h0M539.1 697.4h0M534.2 687.0h0M541.4 699.5h0M535.9 689.9h0M557.3 693.5h0M551.9 701.0h0M536.7 695.7h0M558.5 684.7h0M537.3 698.2h0M556.9 702.2h0M534.5 683.3h0M534.0 691.7h0M558.3 686.9h0M551.5 700.3h0M556.9 691.6h0M557.0 702.0h0M552.3 701.1h0M555.0 690.0h0M534.8 683.4h0M534.2 687.0h0M557.9 686.5h0M557.8 684.5h0M536.9 689.5h0M557.2 688.2h0M538.0 702.0h0M534.9 687.3h0M536.9 694.2h0M538.1 697.4h0M536.5 689.6h0M558.3 685.1h0M552.6 696.1h0M557.6 696.2h0M540.5 701.4h0M538.0 699.7h0M534.0 684.5h0M535.3 688.4h0M534.5 682.2h0M534.6 685.2h0M553.6 692.8h0M539.8 701.9h0M558.6 695.2h0M558.5 684.6h0M554.0 691.7h0M556.3 694.4h0M555.4 699.5h0M536.2 688.2h0M558.4 685.2h0M535.4 687.4h0M542.7 697.9h0M540.6 696.0h0M537.3 689.5h0M537.0 692.0h0M535.1 697.3h0M541.8 696.8h0M535.3 690.7h0M539.6 698.4h0M538.4 702.0h0M556.3 695.3h0M535.4 684.9h0M539.1 694.6h0M558.4 684.4h0M552.0 697.8h0M544.3 701.7h0M548.5 701.5h0M556.7 693.5h0M539.7 698.8h0M534.2 686.7h0M558.2 685.5h0" stroke="#4169E1" stroke-width="3.2" stroke-linecap="round" stroke-opacity="0.55" fill="none"/>
<path d="M540.6 701.0h0M534.4 696.0h0M557.7 686.7h0M535.7 697.2h0M555.3 695.4h0M556.9 692.4h0M534.1 686.9h0M556.9 701.2h0M534.0 682.9h0M535.3 685.6h0M538.2 688.8h0M535.2 700.7h0M540.8 701.8h0M538.0 693.0h0M556.7 695.5h0M553.4 693.5h0M555.1 692.8h0M554.7 694.5h0M540.6 695.6h0M557.9 688.6h0M534.9 697.9h0M535.9 700.9h0M535.8 693.7h0M540.0 699.5h0M534.1 682.5h0M536.0 690.4h0M534.9 690.0h0M534.2 697.3h0M552.1 697.5h0M557.2 690.7h0M557.7 689.3h0M557.4 686.5h0M554.5 694.3h0M538.0 691.7h0M534.9 699.6h0M554.6 693.5h0M536.5 697.3h0M534.6 689.1h0M535.1 688.2h0M556.6 694.8h0M534.5 683.3h0M554.1 699.7h0M534.7 696.9h0M552.2 698.6h0M534.5 696.0h0M536.0 687.3h0M548.4 701.5h0M536.4 692.6h0M557.3 689.7h0M554.6 691.0h0M556.6 694.3h0M534.3 684.8h0M534.2 692.0h0M534.0 682.6h0M555.8 694.2h0M534.9 687.5h0M536.4 692.7h0M541.6 697.1h0M554.6 696.5h0M534.0 702.1h0M536.1 688.6h0M553.4 700.3h0M540.1 697.9h0M544.6 702.4h0M535.5 695.1h0M558.7 686.4h0M540.1 696.2h0M535.4 685.9h0M542.0 698.1h0M535.6 699.0h0M554.8 695.5h0M534.7 685.3h0M534.0 681.9h0M537.2 700.5h0M535.9 688.2h0M555.9 688.7h0M553.9 693.2h0M549.5 701.5h0M536.2 697.3h0M555.6 698.3h0M557.1 686.9h0M558.4 684.5h0M537.7 698.8h0M553.0 697.2h0M538.8 697.2h0M534.0 686.5h0M550.2 699.9h0M536.8 691.6h0M556.3 697.8h0M552.3 700.0h0M537.8 691.5h0M537.1 700.0h0M557.4 700.1h0M558.5 687.2h0M552.9 696.7h0M542.7 699.2h0M557.6 689.6h0M534.2 688.6h0M558.3 699.0h0M537.1 690.0h0M534.3 694.7h0M558.3 687.7h0M558.6 686.0h0M551.2 698.6h0M557.0 698.5h0M555.5 694.8h0M536.1 687.4h0M534.3 683.3h0M556.1 699.9h0M558.6 690.9h0M556.3 698.6h0M558.6 685.2h0" stroke="#4169E1" stroke-width="3.2" stroke-linecap="round" stroke-opacity="0.55" fill="none"/>
<path d="M553.4 692.1h0M537.2 696.2h0M555.4 691.9h0M557.7 691.9h0M552.5 698.2h0M535.2 686.8h0M558.4 688.3h0M540.1 697.5h0M542.4 699.5h0M534.0 684.7h0M552.7 696.2h0M535.9 700.3h0M556.6 701.1h0M535.0 693.9h0M535.9 687.3h0M554.1 699.1h0M534.9 685.9h0M554.4 701.0h0M534.1 682.5h0M537.5 700.8h0M535.1 702.4h0M556.4 691.9h0M536.8 694.6h0M536.9 697.2h0M554.6 693.6h0M539.5 700.9h0M534.9 684.7h0M558.4 684.6h0M558.7 685.0h0M550.4 698.4h0M537.5 689.1h0M558.7 684.9h0M554.6 698.6h0M558.3 696.9h0M557.0 687.5h0M535.8 686.3h0M554.7 693.0h0M535.6 693.7h0M534.2 682.0h0M534.2 685.5h0M535.4 687.8h0M535.1 690.7h0M541.3 700.4h0M536.4 694.5h0M534.3 690.4h0M557.4 687.3h0M540.6 696.3h0M550.6 697.9h0M535.6 701.1h0M537.4 698.1h0M539.1 699.5h0M554.4 693.0h0M557.7 692.2h0M534.0 692.0h0M557.5 690.0h0M540.2 697.0h0M534.2 683.6h0M557.7 685.6h0M551.6 699.6h0M534.8 683.1h0M554.2 696.3h0M539.9 695.2h0M543.4 701.3h0M541.8 699.3h0M552.2 700.1h0M555.1 694.6h0M534.6 685.9h0M538.1 698.4h0M558.6 686.9h0M550.8 698.0h0M540.4 696.7h0M558.5 684.1h0M558.5 684.2h0M535.1 683.8h0M557.6 700.6h0M557.9 692.5h0M537.9 695.6h0M537.9 695.9h0M535.4 700.9h0M555.3 694.7h0M558.3 692.8h0M535.6 693.6h0M534.1 688.7h0M535.9 698.1h0M550.6 699.6h0M558.0 685.7h0M543.8 702.3h0M536.1 691.6h0M535.9 692.4h0M540.5 695.7h0M535.5 684.7h0M534.7 694.2h0M557.2 695.4h0M557.6 685.4h0M557.8 693.6h0M534.8 692.2h0M535.6 691.0h0M536.5 699.3h0M542.7 699.8h0M536.6 688.7h0M535.2 690.4h0M543.4 699.7h0M555.8 694.7h0M540.1 697.7h0M550.0 697.9h0M541.2 698.5h0M534.1 686.9h0M540.6 696.1h0M550.8 698.4h0M553.5 700.0h0M555.3 690.2h0M534.5 684.9h0" stroke="#4169E1" stroke-width="3.2" stroke-linecap="round" stroke-opacity="0.55" fill="none"/>
<path d="M506.7 698.4h0M565.4 698.3h0M526.4 694.9h0M561.9 685.3h0M520.1 691.6h0M510.5 696.7h0M519.9 682.9h0M530.3 696.9h0M505.9 699.3h0M514.9 689.4h0M508.9 701.2h0M527.2 693.3h0M512.6 698.5h0M569.5 697.2h0M525.4 688.8h0M530.6 678.2h0M526.9 701.5h0M572.6 687.4h0M512.9 693.8h0M496.1 701.1h0M562.2 694.8h0M520.3 686.1h0M523.7 682.8h0M518.1 693.4h0M525.5 695.9h0M518.6 682.0h0M569.5 698.0h0M519.4 698.3h0M524.0 700.4h0M509.3 698.0h0M591.1 696.6h0M518.5 690.1h0M516.5 683.5h0M529.9 687.5h0M573.2 695.7h0M528.0 694.3h0M564.8 686.5h0M518.4 688.7h0M521.5 697.8h0M565.3 701.5h0M517.6 699.8h0M515.8 693.1h0M563.6 692.2h0M527.9 699.9h0M522.8 679.0h0M527.2 687.8h0M527.4 683.9h0M521.5 688.0h0M522.5 683.7h0M518.2 683.5h0M515.7 697.7h0M514.5 681.2h0M525.9 701.9h0M525.4 686.6h0M563.8 690.3h0M522.2 679.3h0M511.2 685.4h0M564.8 686.3h0M525.4 697.2h0M520.1 680.7h0M530.4 680.1h0M529.2 680.9h0M573.6 700.6h0M514.8 685.8h0M510.2 680.5h0M583.3 692.0h0M563.1 690.2h0M529.1 682.9h0M521.3 699.8h0M562.0 687.8h0M521.2 689.1h0M570.9 701.9h0M518.8 680.1h0M578.2 690.7h0M593.3 693.7h0M564.4 689.3h0M525.2 701.4h0M524.6 692.2h0M567.5 689.8h0M525.3 700.7h0M565.6 697.4h0M524.3 696.6h0M522.4 699.2h0M504.9 700.7h0M518.6 696.3h0M563.7 691.6h0M524.1 689.4h0M527.3 684.4h0M514.7 685.2h0M508.2 701.9h0M562.0 700.3h0M528.8 697.4h0M516.0 693.3h0M523.8 697.1h0M528.3 696.8h0M569.2 701.7h0M515.7 690.8h0M529.9 699.7h0M529.4 702.1h0M514.8 688.3h0M514.4 691.9h0M523.0 695.7h0M517.6 692.9h0M511.1 690.3h0M521.2 681.7h0M563.3 692.1h0M512.8 693.5h0M526.2 678.6h0M513.6 691.6h0M525.5 689.1h0M517.2 699.0h0M579.5 698.8h0M524.3 701.7h0M568.2 692.6h0M527.1 690.9h0M522.7 699.6h0M528.5 694.9h0M522.9 691.9h0M519.9 687.7h0M568.8 691.8h0M583.4 689.0h0M529.6 690.5h0M508.4 697.2h0M506.2 701.2h0M568.1 691.2h0M512.3 685.3h0M524.6 688.4h0M523.7 700.9h0M517.8 687.3h0M517.8 694.5h0M517.3 698.4h0M522.8 689.5h0M562.5 688.9h0M518.8 681.1h0M513.9 689.6h0M521.8 656.1h0M508.7 694.8h0M494.6 700.8h0M525.2 688.7h0M514.2 685.9h0M525.4 683.7h0M520.3 691.4h0M515.3 692.4h0M527.8 689.4h0M528.8 688.8h0M571.3 702.2h0M564.9 688.3h0M568.0 690.0h0M518.6 699.0h0M565.4 692.6h0M568.9 697.2h0M509.5 699.2h0M526.8 681.6h0M565.7 695.7h0M521.5 685.3h0M569.1 691.1h0M523.4 679.4h0M569.1 699.3h0M566.3 699.0h0M526.8 684.9h0M569.9 692.8h0M523.9 701.3h0M516.7 686.0h0M497.4 679.9h0M525.8 680.0h0M574.2 673.6h0M572.3 691.2h0M528.5 699.7h0M574.0 696.4h0M529.1 696.4h0M524.0 692.4h0M523.9 682.6h0M578.7 697.5h0M528.5 690.3h0M526.5 692.4h0M523.6 686.2h0M518.3 685.9h0M513.0 696.6h0M527.1 691.9h0M510.9 686.9h0M573.6 699.6h0M566.5 695.9h0M529.2 697.4h0M516.5 700.3h0M574.4 701.7h0M519.5 697.1h0M529.7 681.0h0" stroke="#EE0000" stroke-width="3.2" stroke-linecap="round" stroke-opacity="0.55" fill="none"/>
<path d="M525.5 694.1h0M529.7 689.3h0M528.7 681.6h0M516.3 686.4h0M525.2 699.0h0M530.5 694.3h0M512.6 690.9h0M562.4 691.6h0M527.1 682.1h0M566.9 702.1h0M510.0 691.4h0M530.5 678.5h0M570.1 695.1h0M567.6 691.1h0M527.7 684.5h0M568.3 690.0h0M564.2 701.6h0M516.1 685.4h0M515.5 700.6h0M517.9 693.4h0M508.5 697.8h0M571.2 701.9h0M524.0 696.4h0M514.3 688.0h0M567.5 695.5h0M518.4 682.2h0M522.8 688.3h0M509.6 698.7h0M526.8 679.2h0M529.4 701.0h0M521.4 702.0h0M512.5 695.0h0M514.1 682.2h0M567.3 697.8h0M563.7 696.2h0M563.7 697.4h0M565.4 696.5h0M507.5 700.0h0M564.6 700.7h0M562.5 696.0h0M564.4 698.3h0M564.6 693.8h0M570.2 700.3h0M521.6 679.5h0M524.9 683.8h0M524.5 695.6h0M563.0 688.8h0M518.7 692.1h0M530.3 699.8h0M510.0 699.5h0M519.6 700.9h0M524.3 686.3h0M530.1 695.1h0M525.4 687.4h0M513.9 687.6h0M515.9 687.4h0M568.6 693.0h0M574.6 699.7h0M522.5 681.6h0M522.1 701.0h0M516.5 702.3h0M520.1 680.5h0M516.3 690.0h0M513.2 685.1h0M571.2 699.5h0M517.9 690.3h0M563.9 688.2h0M563.8 685.7h0M520.1 694.6h0M585.8 693.0h0M528.8 691.4h0M566.1 691.3h0M530.1 690.6h0M508.5 695.4h0M530.3 678.5h0M573.6 615.5h0M526.5 692.7h0M565.0 699.4h0M524.8 680.2h0M518.2 683.6h0M514.8 694.1h0M517.1 700.1h0M530.4 698.6h0M513.3 687.6h0M564.2 699.0h0M509.5 699.7h0M526.5 694.1h0M517.5 700.9h0M522.7 693.8h0M512.9 695.4h0M569.3 693.0h0M523.8 696.2h0M509.3 699.9h0M521.7 693.4h0M565.7 690.3h0M523.3 698.8h0M527.9 699.4h0M514.1 694.3h0M528.2 686.7h0M528.7 685.5h0M528.1 683.7h0M520.6 694.7h0M525.6 699.4h0M481.8 700.2h0M524.5 695.8h0M519.2 682.6h0M529.6 692.4h0M511.6 696.6h0M516.1 696.1h0M529.7 681.3h0M563.0 697.4h0M523.9 687.9h0M517.4 699.8h0M509.7 700.6h0M516.5 680.5h0M505.2 700.9h0M520.0 700.6h0M515.6 695.2h0M523.2 682.1h0M520.6 696.8h0M524.7 685.7h0M516.7 701.8h0M574.7 615.5h0M515.1 701.4h0M565.0 699.1h0M566.5 692.5h0M512.6 695.9h0M527.5 702.2h0M523.8 681.4h0M513.9 683.1h0M497.9 699.4h0M505.5 700.3h0M514.9 696.9h0M510.8 687.6h0M567.4 694.6h0M520.6 683.6h0M530.2 678.6h0M564.1 690.6h0M562.7 686.4h0M510.0 698.2h0M514.5 685.0h0M519.1 685.6h0M526.4 701.3h0M512.2 695.0h0M522.2 683.3h0M518.2 687.6h0M517.2 695.4h0M479.7 660.4h0M522.9 686.9h0M528.5 680.6h0M564.1 688.3h0M515.2 697.5h0M499.5 701.6h0M562.6 691.9h0M566.8 697.3h0M518.6 683.9h0M523.8 684.9h0M521.9 680.7h0M564.6 694.4h0M511.6 684.9h0M517.5 699.8h0M521.4 689.5h0M500.6 702.1h0M566.3 697.1h0M566.9 688.0h0M565.3 697.6h0M504.6 701.2h0M530.1 697.8h0M489.4 698.4h0M505.5 701.8h0M515.0 685.5h0M514.3 681.1h0M562.8 686.3h0M511.3 696.8h0M526.6 701.5h0M516.2 683.9h0M504.8 701.6h0M511.6 687.0h0M511.2 685.6h0M516.4 688.1h0M510.6 690.6h0M510.9 700.5h0M515.4 686.5h0M525.9 698.0h0M513.3 681.4h0M564.9 698.3h0M528.4 690.7h0" stroke="#EE0000" stroke-width="3.2" stroke-linecap="round" stroke-opacity="0.55" fill="none"/>
<path d="M521.9 683.4h0M514.5 689.6h0M512.1 695.0h0M514.4 693.6h0M581.8 696.1h0M528.3 694.2h0M527.1 690.2h0M517.2 686.9h0M527.9 701.0h0M524.8 682.3h0M528.7 687.9h0M562.9 698.4h0M521.5 682.6h0M562.7 691.6h0M496.5 697.2h0M510.8 695.0h0M525.4 691.0h0M499.9 699.8h0M508.8 699.9h0M523.2 680.3h0M575.5 686.3h0M563.2 687.1h0M527.0 688.7h0M510.8 691.8h0M527.1 687.2h0M516.6 689.3h0M524.0 679.5h0M511.5 701.9h0M565.8 692.7h0M509.6 698.6h0M518.3 687.3h0M520.4 683.7h0M566.5 692.9h0M496.9 698.5h0M515.1 691.7h0M510.6 690.3h0M529.9 696.2h0M501.5 699.2h0M512.8 696.1h0M529.9 678.4h0M528.9 684.4h0M512.3 691.0h0M518.7 681.6h0M585.6 701.1h0M517.4 686.0h0M569.1 695.3h0M563.7 694.5h0M527.4 684.8h0M562.8 685.2h0M528.4 700.1h0M523.9 694.1h0M509.8 701.9h0M529.8 692.7h0M504.6 697.7h0M569.3 694.7h0M513.9 688.2h0M515.7 695.5h0M517.6 692.7h0M515.4 688.2h0M509.0 701.4h0M571.1 700.8h0M518.0 687.5h0M511.9 683.9h0M570.0 696.7h0M528.4 682.5h0M507.6 699.7h0M511.0 694.3h0M512.7 681.6h0M579.0 699.2h0M510.1 699.4h0M519.2 688.7h0M525.4 690.5h0M527.7 697.0h0M519.7 698.1h0M569.0 694.9h0M519.1 679.7h0M510.2 698.7h0M521.6 679.9h0M518.3 689.8h0M570.0 689.6h0M514.0 698.4h0M530.0 659.9h0M566.7 696.4h0M517.6 701.5h0M528.8 695.2h0M526.8 700.9h0M572.7 693.2h0M522.2 681.9h0M509.4 696.9h0M510.0 700.4h0M570.3 695.8h0M563.8 691.1h0M515.2 697.5h0M512.1 691.6h0M511.0 693.7h0M508.0 700.6h0M514.4 690.0h0M505.2 701.4h0M570.4 697.4h0M516.8 693.3h0M520.1 687.5h0M518.2 686.5h0M511.8 699.9h0M526.4 682.1h0M522.0 688.8h0M513.8 681.2h0M564.9 691.1h0M528.8 701.6h0M525.0 693.2h0M527.6 688.9h0M526.8 696.5h0M518.9 681.1h0M515.1 698.4h0M519.3 690.1h0M566.1 693.1h0M528.8 686.5h0M520.8 688.4h0M576.4 678.7h0M525.4 689.3h0M569.8 691.5h0M561.9 695.1h0M566.7 691.3h0M519.6 685.7h0M525.7 701.8h0M586.4 699.7h0M576.3 699.6h0M526.8 689.0h0M520.5 690.6h0M509.2 700.8h0M529.0 693.1h0M511.5 696.0h0M528.9 699.3h0M519.1 681.7h0M519.6 684.2h0M579.9 664.8h0M529.1 691.7h0M516.0 681.3h0M528.3 681.7h0M522.7 688.0h0M510.4 697.8h0M503.0 702.2h0M524.6 699.4h0M497.4 691.9h0M528.0 698.6h0M563.3 693.2h0M506.3 699.9h0M507.2 698.8h0M510.8 696.3h0M528.1 691.5h0M518.6 666.9h0M523.4 702.3h0M502.2 694.2h0M520.0 699.5h0M523.7 698.8h0M562.4 691.3h0M515.9 687.4h0M517.3 680.3h0M565.8 687.0h0M523.1 698.3h0M529.3 701.5h0M516.3 694.6h0M514.7 688.8h0M508.5 696.6h0M520.2 685.9h0M523.7 691.3h0M564.3 701.8h0M529.6 693.1h0M509.8 700.2h0M520.8 696.5h0M511.5 696.7h0M511.2 697.4h0M565.7 699.0h0M519.8 699.6h0M514.9 699.9h0M512.0 694.9h0M525.3 679.5h0M504.3 700.9h0M569.2 692.0h0M520.5 679.9h0M520.8 701.9h0M506.8 695.9h0M507.9 700.1h0M564.5 691.0h0M523.3 694.4h0M529.5 693.8h0M519.6 698.4h0M524.0 681.6h0" stroke="#EE0000" stroke-width="3.2" stroke-linecap="round" stroke-opacity="0.55" fill="none"/>
<path d="M521.6 683.8h0M522.4 690.2h0M509.2 685.2h0M509.4 695.4h0M565.0 689.7h0M511.9 686.3h0M508.7 696.4h0M509.1 700.2h0M525.6 681.7h0M572.4 692.0h0M564.1 687.8h0M566.5 691.7h0M514.4 684.1h0M517.7 681.1h0M517.5 698.8h0M564.4 676.7h0M609.4 693.3h0M511.6 701.1h0M528.1 687.5h0M519.4 698.8h0M565.4 688.3h0M562.4 696.4h0M518.4 691.1h0M512.4 690.0h0M506.3 698.9h0M511.2 696.2h0M519.4 679.7h0M572.5 696.9h0M566.2 690.7h0M566.9 690.9h0M519.3 702.2h0M519.6 700.0h0M573.2 701.3h0M566.2 697.5h0M505.3 699.8h0M524.2 685.9h0M511.7 701.6h0M524.8 681.5h0M527.6 700.0h0M524.1 679.6h0M515.1 681.5h0M517.6 684.2h0M511.8 684.5h0M509.7 693.5h0M523.7 692.1h0M529.4 701.2h0M521.3 688.0h0M527.3 679.8h0M523.2 684.2h0M508.9 698.1h0M522.9 693.6h0M511.2 695.0h0M498.9 701.3h0M562.6 697.2h0M524.3 686.7h0M521.1 682.3h0M511.6 686.1h0M568.5 694.7h0M519.4 686.2h0M523.4 698.1h0M568.2 695.0h0M568.4 691.3h0M513.3 686.1h0M529.1 693.4h0M530.6 684.1h0M514.7 698.4h0M529.3 696.4h0M522.3 688.4h0M510.8 701.7h0M522.5 688.3h0M566.2 689.2h0M567.0 691.8h0M530.3 691.1h0M520.1 695.7h0M577.3 694.8h0M530.6 691.4h0M563.8 687.9h0M569.3 694.0h0M569.7 693.5h0M573.6 696.6h0M511.7 695.9h0M523.1 695.2h0M529.5 686.3h0M567.5 699.9h0M515.1 691.8h0M567.2 689.2h0M521.7 685.6h0M522.2 693.6h0M516.0 695.7h0M509.8 695.8h0M507.9 700.9h0M519.2 692.0h0M513.4 679.9h0M514.7 698.6h0M516.3 681.7h0M512.7 692.9h0M527.5 678.0h0M572.2 701.7h0M530.5 691.8h0M513.5 698.0h0M530.2 683.3h0M512.2 685.9h0M523.7 694.3h0M510.6 695.3h0M507.2 698.4h0M514.1 686.9h0M517.7 682.2h0M520.5 685.5h0M520.4 697.0h0M527.2 688.1h0M524.0 687.5h0M564.6 691.0h0M511.1 694.8h0M565.9 688.4h0M524.0 694.5h0M566.0 699.5h0M524.1 690.1h0M527.6 699.4h0M523.3 695.1h0M570.5 700.7h0M515.7 685.0h0M529.4 680.2h0M520.0 699.8h0M526.3 678.4h0M564.9 690.3h0M520.4 697.1h0M573.2 673.8h0M583.2 700.0h0M511.7 700.6h0M520.1 698.4h0M563.5 688.8h0M524.4 678.7h0M567.5 695.5h0M519.6 692.5h0M562.7 688.0h0M526.5 689.4h0M577.8 697.7h0M512.5 689.3h0M564.3 689.1h0M515.2 698.9h0M523.5 690.1h0M521.9 689.6h0M505.5 702.0h0M523.4 696.9h0M529.0 699.8h0M507.6 697.0h0M521.6 679.5h0M567.1 700.4h0M565.5 693.6h0M564.2 688.9h0M521.3 693.5h0M528.4 702.3h0M523.6 696.6h0M512.9 698.6h0M510.6 692.6h0M570.8 697.4h0M509.3 697.5h0M516.1 687.5h0M565.0 689.7h0M502.0 692.5h0M563.0 690.6h0M523.1 698.7h0M530.4 682.3h0M509.1 696.0h0M518.2 691.3h0M522.2 687.7h0M566.2 699.4h0M566.2 688.0h0M523.9 678.4h0M526.0 684.9h0M567.6 699.2h0M565.0 691.2h0M527.6 697.9h0M517.6 696.6h0M523.7 696.6h0M529.3 697.0h0M521.8 694.5h0M524.6 694.7h0M495.8 679.2h0M529.1 696.4h0M521.8 689.6h0M526.0 700.0h0M518.8 691.3h0M514.9 687.2h0M508.9 699.6h0M519.5 690.4h0M529.3 693.4h0" stroke="#EE0000" stroke-width="3.2" stroke-linecap="round" stroke-opacity="0.55" fill="none"/>
<path d="M516.5 684.3h0M504.6 701.1h0M528.3 686.7h0M530.4 684.7h0M565.8 694.6h0M574.7 697.6h0M510.6 701.9h0M524.7 696.5h0M525.6 697.9h0M529.5 682.8h0M563.1 700.9h0M530.5 696.8h0M524.1 685.1h0M509.2 701.8h0M569.4 659.0h0M564.7 701.2h0M526.0 680.9h0M515.6 695.8h0M526.2 684.6h0M529.0 690.5h0M580.3 689.1h0M566.7 696.0h0M563.7 699.9h0M521.3 686.4h0M521.8 686.7h0M529.0 700.6h0M521.6 695.5h0M508.0 697.9h0M508.0 699.9h0M562.7 692.0h0M564.4 686.9h0M512.7 684.3h0M530.6 680.4h0M523.3 702.2h0M525.5 682.8h0M571.5 695.2h0M529.6 697.8h0M526.3 691.7h0M525.1 695.5h0M515.0 695.6h0M514.6 682.3h0M519.6 687.2h0M571.8 691.4h0M529.6 695.7h0M569.6 697.7h0M564.9 701.9h0M512.1 702.0h0M521.5 681.0h0M511.8 692.8h0M522.3 700.9h0M514.1 682.9h0M562.3 694.4h0M564.9 694.4h0M513.1 690.5h0M572.9 690.6h0M529.1 693.7h0M512.2 689.0h0M524.1 699.4h0M524.8 679.4h0M528.8 683.1h0M530.5 694.8h0M512.6 687.6h0M513.0 688.7h0M580.5 690.9h0M528.9 695.3h0M572.4 700.9h0M514.1 694.9h0M529.2 691.1h0M521.2 679.7h0M562.3 688.2h0M518.0 701.9h0M518.1 684.0h0M522.7 697.1h0M489.6 701.3h0M510.6 689.9h0M523.8 688.5h0M563.7 702.3h0M529.4 698.7h0M521.1 693.4h0M523.1 679.3h0M512.0 688.5h0M516.9 685.6h0M507.6 701.8h0M512.8 689.1h0M568.7 695.5h0M568.2 695.5h0M526.5 688.4h0M563.5 680.7h0M562.8 685.5h0M514.0 700.4h0M527.2 695.0h0M526.2 679.8h0M524.7 700.4h0M529.1 681.0h0M527.1 678.9h0M521.2 690.4h0M528.3 687.2h0M519.5 691.4h0M571.5 689.2h0M523.3 679.2h0M513.4 700.7h0M507.2 697.9h0M516.7 701.6h0M517.2 696.5h0M519.0 687.2h0M526.5 700.3h0M522.5 699.0h0M514.0 690.0h0M501.6 681.9h0M523.0 695.9h0M517.9 696.1h0M511.2 690.0h0M562.3 700.9h0M567.7 700.4h0M518.3 688.5h0M565.9 690.7h0M567.4 694.7h0M511.1 694.4h0M529.6 684.6h0M527.7 700.3h0M519.1 681.8h0M513.6 692.2h0M524.3 690.5h0M524.4 684.8h0M520.9 683.0h0M507.9 698.3h0M518.7 685.5h0M563.5 701.9h0M522.3 699.4h0M521.3 684.5h0M523.1 687.2h0M515.5 691.4h0M570.3 695.9h0M509.3 694.3h0M563.1 692.9h0M570.4 694.8h0M511.2 689.1h0M563.5 700.2h0M574.2 695.5h0M524.8 699.0h0M527.7 696.2h0M577.8 667.7h0M582.7 692.0h0M507.5 702.0h0M517.7 692.1h0M511.4 694.9h0M520.3 694.8h0M522.3 684.3h0M512.7 694.8h0M515.1 690.6h0M518.4 688.7h0M562.1 690.8h0M524.4 690.3h0M578.2 694.0h0M516.6 691.5h0M565.2 693.6h0M520.0 680.1h0M522.4 687.6h0M567.1 698.7h0M511.1 694.9h0M513.7 697.1h0M511.4 693.9h0M525.2 685.7h0M566.6 699.0h0M515.3 690.8h0M509.4 693.6h0M527.2 692.2h0M569.1 694.1h0M513.5 689.0h0M529.5 688.9h0M521.2 697.7h0M521.8 687.0h0M529.9 686.2h0M564.4 696.2h0M527.4 680.7h0M516.5 681.4h0M571.0 701.4h0M519.2 692.2h0M518.1 701.5h0M497.5 695.0h0M514.2 699.8h0M530.3 691.6h0M529.9 689.9h0M522.5 694.7h0M523.9 698.0h0M528.0 696.1h0M525.5 695.3h0" stroke="#EE0000" stroke-width="3.2" stroke-linecap="round" stroke-opacity="0.55" fill="none"/>
<path d="M512.9 700.7h0M521.4 700.9h0M510.2 699.5h0M564.3 686.0h0M522.4 692.5h0M564.5 699.6h0M509.3 693.6h0M521.9 683.4h0M496.7 694.4h0M523.4 687.3h0M525.4 684.8h0M567.3 700.1h0M511.4 697.7h0M528.0 683.2h0M525.0 692.8h0M517.6 697.4h0M562.8 699.1h0M563.8 697.3h0M525.7 699.0h0M518.5 682.8h0M524.9 679.9h0M518.2 691.1h0M525.0 678.8h0M521.9 699.4h0M521.3 685.6h0M516.4 689.8h0M578.0 700.0h0M525.6 691.4h0M516.0 698.3h0M526.3 692.5h0M519.8 681.4h0M527.1 687.9h0M506.6 699.1h0M522.9 682.3h0M525.2 692.1h0M522.0 691.1h0M562.4 689.4h0M520.2 700.7h0M589.6 698.7h0M512.3 700.2h0M502.2 694.2h0M521.4 693.9h0M518.2 680.6h0M525.4 700.5h0M514.6 694.9h0M567.4 694.0h0M570.0 701.3h0M519.5 681.3h0M502.1 698.7h0M506.4 694.5h0M529.4 683.3h0M513.1 681.4h0M508.1 701.7h0M516.5 687.8h0M512.4 693.9h0M529.9 681.6h0M517.9 682.5h0M572.2 674.3h0M517.7 701.4h0M529.6 701.2h0M519.0 680.0h0M518.0 692.5h0M524.5 680.4h0M505.3 693.1h0M526.3 701.2h0M515.8 689.0h0M524.7 697.7h0M530.4 686.5h0M527.6 693.0h0M566.2 688.7h0M528.9 677.9h0M563.4 701.5h0M563.0 696.2h0M570.2 688.9h0M518.4 690.7h0M522.1 684.1h0M569.0 698.1h0M513.3 701.2h0M505.7 699.9h0M519.5 693.8h0M576.4 699.2h0M509.5 698.3h0M520.5 690.4h0M512.8 696.3h0M514.0 691.7h0M526.5 685.8h0M576.8 697.5h0M522.0 688.2h0M516.4 683.6h0M511.0 694.7h0M519.4 682.7h0M517.2 699.3h0M516.8 693.6h0M511.7 687.6h0M526.8 694.6h0M517.7 687.6h0M574.7 694.5h0M520.7 688.8h0M527.6 702.0h0M570.4 702.2h0M576.9 676.8h0M514.7 683.6h0M566.4 688.3h0M522.8 699.3h0M566.5 693.1h0M518.9 699.6h0M530.0 690.2h0M510.7 692.2h0M562.7 694.2h0M513.2 696.9h0M515.0 687.9h0M564.1 697.1h0M508.1 695.1h0M529.6 679.5h0M508.2 699.6h0M525.6 682.5h0M572.9 695.0h0M512.4 688.6h0M564.6 698.0h0M524.0 689.1h0M573.1 701.3h0M516.1 684.3h0M517.3 694.4h0M569.2 692.5h0M565.4 698.6h0M511.7 690.5h0M568.6 693.1h0M510.8 691.1h0M569.1 696.5h0M566.2 690.0h0M518.7 698.0h0M510.7 681.0h0M562.9 690.6h0M517.5 692.5h0M514.1 680.3h0M520.2 686.7h0M524.3 694.9h0M521.9 687.3h0M521.0 688.8h0M524.2 695.7h0M510.7 687.4h0M530.5 702.3h0M571.4 695.7h0M523.1 678.9h0M514.9 692.3h0M569.4 695.9h0M572.8 698.4h0M498.0 685.7h0M509.5 702.0h0M574.2 699.1h0M529.9 687.1h0M525.2 679.7h0M514.0 680.0h0M579.5 699.4h0M566.7 700.8h0M567.5 697.8h0M520.7 701.3h0M484.1 699.7h0M526.7 687.4h0M513.8 690.1h0M515.9 691.7h0M563.4 700.3h0M530.0 691.2h0M526.6 689.1h0M569.8 693.5h0M528.7 694.2h0M524.6 697.4h0M529.2 693.6h0M525.8 681.1h0M523.0 685.6h0M566.0 696.1h0M510.8 687.9h0M569.5 700.7h0M523.0 686.8h0M528.0 683.9h0M512.7 684.1h0M530.3 689.9h0M530.7 678.3h0M566.6 687.6h0M563.0 691.1h0M516.5 682.8h0M511.6 698.2h0M568.4 700.6h0M516.2 690.5h0M524.5 694.4h0M515.2 681.2h0" stroke="#EE0000" stroke-width="3.2" stroke-linecap="round" stroke-opacity="0.55" fill="none"/>
<path d="M532.3 701.9L530.7 701.9L529.1 702.0L527.5 702.0L526.0 702.1L524.4 702.2L522.8 702.3L521.2 702.4L519.7 702.5L518.1 702.6L516.5 702.7L514.9 702.9L513.4 703.0L511.8 703.2L510.2 703.3L508.6 703.5L507.0 703.6L505.5 703.8L503.9 703.9L502.3 704.1L500.7 704.3L500.7 704.5L502.3 704.6L503.9 704.8L505.5 704.9L507.0 705.0L508.6 705.2L510.2 705.3L511.8 705.4L513.4 705.5L514.9 705.6L516.5 705.7L518.1 705.8L519.7 705.9L521.2 706.0L522.8 706.1L524.4 706.2L526.0 706.2L527.5 706.3L529.1 706.3L530.7 706.4L532.3 706.4Z" fill="#2E8E2E" fill-opacity="0.85"/>
<path d="M560.3 701.9L561.5 701.9L562.8 702.0L564.0 702.0L565.2 702.1L566.5 702.2L567.7 702.3L568.9 702.4L570.1 702.5L571.4 702.6L572.6 702.7L573.8 702.9L575.0 703.0L576.3 703.2L577.5 703.3L578.7 703.5L579.9 703.6L581.2 703.8L582.4 703.9L583.6 704.1L584.9 704.3L584.9 704.5L583.6 704.6L582.4 704.8L581.2 704.9L579.9 705.0L578.7 705.2L577.5 705.3L576.3 705.4L575.0 705.5L573.8 705.6L572.6 705.7L571.4 705.8L570.1 705.9L568.9 706.0L567.7 706.1L566.5 706.2L565.2 706.2L564.0 706.3L562.8 706.3L561.5 706.4L560.3 706.4Z" fill="#2E8E2E" fill-opacity="0.85"/>
<path d="M560.6 704.2h0M527.9 703.6h0M528.3 703.6h0M564.7 704.5h0M569.6 704.2h0M567.0 704.0h0M509.5 704.5h0M512.3 704.5h0M510.8 704.9h0M523.8 704.0h0M584.7 705.3h0M522.2 704.2h0M517.5 703.9h0M567.9 703.4h0M525.2 705.1h0M583.6 705.2h0M529.7 704.7h0M529.9 704.4h0M522.4 704.0h0M514.0 704.2h0M509.5 705.0h0M561.1 705.0h0M529.8 704.4h0M566.0 704.6h0M531.6 704.8h0M530.4 703.8h0M514.2 704.3h0M523.5 703.3h0M581.4 705.3h0M567.6 705.1h0M527.8 704.8h0M576.5 704.9h0M507.3 705.1h0M522.2 703.4h0M507.5 704.8h0M527.4 705.1h0M514.7 704.1h0M514.3 704.1h0M567.6 703.7h0M563.5 704.7h0M519.3 704.1h0M531.7 704.9h0M519.2 704.2h0M527.0 704.5h0M520.6 704.2h0M566.2 703.4h0M514.2 704.3h0M584.6 705.2h0M517.4 704.3h0M570.5 704.6h0M509.6 704.5h0M529.8 703.3h0M520.8 705.2h0M510.0 705.1h0M521.8 705.0h0M516.2 704.9h0M506.2 704.9h0M530.4 703.1h0M578.5 704.9h0M521.2 703.9h0M578.1 704.5h0M528.7 703.0h0M569.2 703.7h0M567.9 704.8h0M500.9 705.3h0M569.5 703.7h0M576.3 704.6h0M573.0 704.4h0M576.1 704.5h0M560.7 705.0h0M560.9 704.9h0M521.4 704.0h0M576.3 705.3h0M531.2 704.7h0M564.8 704.4h0M532.0 703.7h0M577.1 704.8h0M569.3 703.6h0M531.7 703.1h0M584.1 705.2h0M512.2 704.9h0M501.3 705.3h0M513.6 705.1h0M570.1 704.6h0M584.0 705.2h0M528.3 703.0h0M567.1 705.1h0M571.7 704.2h0M573.3 703.9h0M529.3 704.6h0M511.4 705.0h0M530.4 704.1h0M515.0 705.0h0M511.5 704.4h0M519.4 704.4h0M531.3 704.0h0M514.4 704.5h0M515.2 704.4h0M503.9 705.1h0M560.6 704.2h0M528.3 704.5h0M508.4 705.0h0M585.0 705.2h0M575.3 704.3h0M560.7 703.5h0M562.5 703.0h0M560.7 703.3h0M572.3 703.9h0M506.2 704.8h0M521.6 704.3h0M582.8 705.1h0M577.1 705.3h0M562.8 703.3h0M527.0 704.8h0M519.0 703.9h0M518.6 704.4h0M531.4 704.5h0M521.7 704.1h0M529.5 704.7h0M565.4 704.4h0M580.7 704.9h0M504.9 705.0h0M521.8 704.5h0M565.4 704.3h0M567.6 704.2h0M525.6 703.4h0M513.0 705.1h0M578.7 705.2h0M525.4 704.1h0M500.9 705.2h0M579.2 705.0h0M573.3 704.1h0M570.4 704.2h0M563.8 703.3h0" stroke="#228B22" stroke-width="3.2" stroke-linecap="round" stroke-opacity="0.55" fill="none"/>
<path d="M515.9 704.0h0M521.2 705.1h0M520.5 704.8h0M573.9 704.4h0M515.6 704.5h0M572.5 704.9h0M584.1 705.3h0M504.6 705.1h0M569.0 705.1h0M562.3 703.5h0M516.1 705.2h0M583.4 705.2h0M520.5 703.6h0M502.3 705.2h0M561.0 703.6h0M579.1 704.7h0M565.7 703.3h0M575.2 704.3h0M530.9 704.8h0M575.5 704.7h0M560.6 703.4h0M567.3 703.7h0M579.4 705.3h0M578.5 704.6h0M531.2 703.1h0M579.8 705.1h0M510.1 704.7h0M509.4 704.9h0M571.3 704.7h0M563.4 704.1h0M561.2 704.3h0M521.0 704.3h0M572.8 704.0h0M577.1 704.6h0M507.7 705.0h0M519.2 705.0h0M518.0 705.1h0M583.3 705.1h0M578.5 705.1h0M582.6 705.2h0M530.9 703.5h0M560.6 704.7h0M562.3 703.5h0M518.9 705.1h0M566.4 704.1h0M504.8 705.2h0M569.6 704.7h0M563.5 704.8h0M504.7 705.1h0M530.0 704.1h0M582.8 705.3h0M569.9 704.4h0M562.3 703.7h0M571.3 703.8h0M504.9 705.1h0M563.8 703.3h0M581.9 705.0h0M571.6 705.1h0M582.6 705.2h0M531.4 704.1h0M512.2 704.4h0M519.4 704.4h0M507.6 705.1h0M566.2 705.2h0M561.5 703.1h0M516.9 704.8h0M562.6 705.1h0M577.7 705.1h0M507.3 705.2h0M564.5 704.2h0M512.6 705.2h0M561.5 704.0h0M574.4 704.1h0M507.2 705.0h0M566.9 704.4h0M566.1 704.7h0M567.8 704.9h0M526.8 703.2h0M580.7 705.1h0M520.4 705.2h0M579.9 705.0h0M565.0 704.6h0M504.6 705.1h0M502.3 705.3h0M573.5 704.3h0M509.0 704.8h0M583.2 705.3h0M566.7 704.3h0M515.3 704.9h0M563.6 704.7h0M525.4 704.5h0M563.2 704.4h0M562.5 703.8h0M579.4 705.3h0M530.6 704.0h0M531.4 704.9h0M577.0 704.4h0M526.5 704.8h0M567.4 704.2h0M570.8 704.3h0M573.5 703.9h0M520.3 704.4h0M512.9 704.7h0M525.7 705.0h0M532.1 704.7h0M581.7 705.1h0M517.3 703.9h0M562.3 703.7h0M521.5 705.2h0M502.4 705.1h0M581.2 705.0h0M567.3 704.2h0M527.0 704.6h0M561.7 705.0h0M584.9 705.3h0M562.2 705.1h0M525.6 704.2h0M531.5 703.7h0M530.5 705.0h0M501.9 705.2h0M510.3 704.8h0M531.8 704.2h0M577.5 704.8h0M513.9 704.8h0M514.5 705.0h0M561.3 703.5h0M529.8 703.7h0M512.2 704.6h0M531.0 704.4h0M531.6 704.8h0M560.5 703.2h0M509.8 704.9h0M562.9 705.2h0" stroke="#228B22" stroke-width="3.2" stroke-linecap="round" stroke-opacity="0.55" fill="none"/>
<path d="M523.0 703.8h0M518.0 703.8h0M526.2 705.2h0M507.7 705.1h0M579.5 704.6h0M561.3 704.8h0M581.2 705.2h0M525.7 704.0h0M579.4 705.0h0M573.8 704.5h0M581.6 705.2h0M531.2 704.9h0M531.4 703.3h0M523.7 705.0h0M571.3 704.3h0M584.4 705.2h0M574.8 704.1h0M581.1 704.9h0M525.4 704.4h0M565.1 704.2h0M523.7 704.0h0M565.8 705.2h0M584.3 705.2h0M561.7 703.9h0M506.6 705.2h0M581.3 705.0h0M532.1 703.0h0M576.8 704.6h0M526.3 704.5h0M580.1 705.3h0M569.8 704.3h0M506.4 704.7h0M560.8 704.9h0M511.3 704.7h0M560.6 704.3h0M524.3 704.9h0M576.7 704.3h0M577.3 704.8h0M562.2 703.5h0M531.0 704.1h0M565.3 705.0h0M566.0 703.5h0M532.0 704.3h0M518.5 704.4h0M505.3 705.1h0M523.7 704.7h0M576.0 704.6h0M530.6 703.2h0M580.1 704.7h0M527.9 705.0h0M561.1 703.1h0M532.0 705.3h0M524.0 704.2h0M582.5 705.2h0M571.0 704.9h0M575.2 704.6h0M510.4 705.2h0M569.7 704.6h0M570.7 704.1h0M528.1 703.8h0M584.1 705.3h0M579.3 705.2h0M513.8 704.9h0M507.7 704.6h0M513.6 705.0h0M528.3 703.7h0M525.8 704.8h0M563.9 705.0h0M572.3 703.8h0M524.3 705.2h0M568.7 704.4h0M529.1 704.6h0M567.3 705.1h0M517.4 704.4h0M566.7 704.7h0M507.3 705.1h0M583.0 705.3h0M573.3 705.1h0M527.4 703.5h0M571.1 705.3h0M576.1 705.1h0M566.7 704.0h0M563.0 704.0h0M581.8 704.9h0M561.5 704.5h0M523.1 705.1h0M578.5 704.7h0M565.7 704.2h0M505.8 705.2h0M525.7 704.3h0M528.8 703.1h0M576.9 704.3h0M529.5 704.0h0M502.6 705.3h0M564.2 705.3h0M564.7 703.6h0M571.0 704.9h0M576.2 705.2h0M501.5 705.2h0M523.3 704.6h0M503.5 705.2h0M530.2 704.8h0M572.2 704.7h0M522.7 704.2h0M526.7 705.0h0M530.2 704.9h0M560.8 703.1h0M560.6 703.9h0M526.8 705.1h0M502.9 705.1h0M571.8 705.3h0M569.3 704.5h0M514.8 704.8h0M522.8 704.2h0M562.7 705.3h0M566.9 705.1h0M512.6 705.2h0M577.8 704.6h0M563.5 703.4h0M582.4 705.1h0M570.6 703.9h0M573.7 704.3h0M523.2 703.9h0M530.9 703.4h0M571.7 705.3h0M524.4 704.6h0M578.3 704.6h0M532.0 705.1h0M519.7 704.0h0M564.0 703.7h0M503.6 705.1h0M560.6 704.7h0M580.4 705.0h0" stroke="#228B22" stroke-width="3.2" stroke-linecap="round" stroke-opacity="0.55" fill="none"/>
<rect x="532.5" y="701.8" width="27.6" height="4.9" rx="1.5" fill="#4F4F4F"/>
<path d="M558.5 704.1h0M534.8 704.0h0M547.6 703.4h0M555.5 704.7h0M543.1 705.1h0M541.7 704.2h0M540.8 703.6h0M550.5 704.9h0M533.8 704.7h0M546.7 703.1h0M538.7 704.0h0M551.7 704.4h0M548.8 703.7h0M558.2 704.6h0M546.4 705.2h0M533.6 704.0h0M557.4 705.3h0M555.8 703.6h0M547.2 703.3h0M550.4 703.8h0M549.7 704.0h0M553.0 704.4h0M536.4 703.7h0M552.7 705.2h0M552.8 705.1h0M550.4 703.0h0M540.4 704.0h0M540.4 704.4h0M542.2 704.7h0M533.1 703.6h0M552.3 704.1h0M545.8 704.6h0M553.1 703.4h0M556.8 703.0h0M537.4 704.6h0M541.1 705.1h0M540.0 705.2h0M534.9 704.0h0M535.1 704.4h0M539.5 704.9h0M558.4 704.5h0M547.6 704.6h0M552.8 705.0h0M540.0 703.0h0M559.6 702.8h0M541.2 705.0h0M544.4 703.2h0M548.0 703.9h0M547.4 705.2h0M535.5 702.9h0M553.7 703.7h0M540.5 703.2h0M533.4 703.4h0M552.2 703.2h0M547.9 704.1h0M552.3 703.1h0M544.9 704.1h0M555.3 703.6h0M558.0 704.2h0M546.9 703.6h0M545.1 703.7h0M559.9 703.5h0M554.8 703.8h0M556.2 705.0h0M542.2 702.9h0M554.0 704.2h0M552.2 704.5h0M550.7 704.2h0M557.5 704.6h0M554.2 704.3h0M545.1 703.0h0M545.5 703.1h0M553.1 704.9h0M544.8 704.0h0M558.9 704.2h0M543.1 703.8h0M540.7 703.6h0M542.6 704.2h0M540.9 704.4h0M536.0 704.3h0M541.2 704.7h0M556.0 703.9h0M543.1 704.9h0M554.9 704.2h0M536.8 703.3h0M534.4 703.1h0M541.3 704.4h0M550.2 702.8h0M540.0 703.1h0M534.8 704.0h0M554.3 705.1h0M547.3 704.2h0M533.9 704.4h0M548.9 705.1h0M533.3 704.6h0M540.9 704.2h0M552.3 703.3h0M535.8 704.9h0M557.9 704.7h0M553.1 704.2h0M552.7 703.4h0M550.2 703.2h0M557.4 704.8h0M533.1 704.0h0M556.2 702.9h0M554.7 704.5h0M542.2 703.7h0M542.0 703.6h0M534.7 704.5h0M551.3 704.3h0M549.9 704.1h0M559.2 703.0h0M547.7 704.1h0M534.2 703.6h0M559.7 704.4h0M551.7 704.5h0M536.9 705.2h0M540.5 703.3h0M536.2 704.9h0M532.8 703.1h0M545.9 704.9h0M553.3 705.0h0M534.0 704.8h0M544.7 704.8h0M534.9 705.2h0" stroke="#4D4D4D" stroke-width="3.2" stroke-linecap="round" stroke-opacity="0.55" fill="none"/>
<path d="M559.5 703.3h0M543.6 704.6h0M550.1 704.5h0M543.0 703.3h0M537.6 704.3h0M559.7 705.0h0M533.8 702.9h0M559.3 702.9h0M559.2 703.1h0M543.9 703.6h0M559.2 703.0h0M540.1 703.4h0M545.6 703.3h0M536.8 705.0h0M546.5 702.9h0M554.0 704.7h0M555.0 705.0h0M543.7 704.7h0M541.9 702.8h0M551.8 704.5h0M533.8 704.4h0M546.3 703.0h0M537.4 704.6h0M551.3 705.1h0M539.7 703.2h0M542.9 705.2h0M545.4 704.5h0M553.9 705.0h0M559.7 705.0h0M541.8 703.9h0M536.4 703.4h0M547.5 704.9h0M534.0 705.3h0M552.0 704.3h0M538.5 703.6h0M533.5 705.3h0M540.5 704.6h0M554.3 703.6h0M553.6 704.3h0M552.4 704.5h0M552.9 703.6h0M539.7 702.9h0M545.8 705.2h0M551.2 703.0h0M536.9 703.2h0M555.9 704.1h0M549.6 703.7h0M545.2 703.8h0M541.0 705.3h0M548.2 703.4h0M551.0 703.2h0M553.3 702.9h0M534.3 704.3h0M553.0 702.9h0M533.4 705.2h0M535.1 704.0h0M537.8 705.1h0M554.4 704.2h0M556.7 704.7h0M540.6 705.3h0M557.8 703.0h0M536.2 703.6h0M535.9 705.3h0M541.9 704.6h0M558.9 704.5h0M538.4 703.3h0M555.0 703.2h0M543.8 705.1h0M554.2 704.2h0M551.4 703.1h0M553.9 703.7h0M542.9 703.9h0M549.6 703.4h0M536.3 703.6h0M542.1 703.6h0M558.9 704.7h0M544.4 703.2h0M534.4 704.0h0M549.8 704.4h0M558.6 704.9h0M557.8 703.0h0M554.3 705.2h0M533.7 703.0h0M533.8 703.3h0M544.7 703.0h0M536.2 704.0h0M539.5 703.4h0M539.4 703.1h0M544.7 704.8h0M546.1 704.1h0M554.5 703.8h0M559.8 704.2h0M544.2 703.8h0M551.4 704.2h0M538.6 703.3h0M551.1 704.8h0M558.1 703.1h0M542.7 703.3h0M543.6 704.1h0M533.6 702.9h0M538.3 704.0h0M536.9 704.0h0M535.4 703.5h0M533.4 703.9h0M555.7 703.1h0M548.3 703.0h0M540.5 704.2h0M544.6 702.9h0M538.1 703.4h0M549.0 704.7h0M539.4 704.3h0M539.5 705.3h0M548.5 705.2h0M556.1 703.8h0M534.9 704.9h0M553.6 704.1h0M545.5 703.6h0M544.0 703.2h0M538.7 704.4h0M555.8 703.2h0M549.1 703.2h0M535.0 704.1h0M556.9 704.9h0M533.1 702.9h0M535.4 704.0h0" stroke="#4D4D4D" stroke-width="3.2" stroke-linecap="round" stroke-opacity="0.55" fill="none"/>
<line x1="532.3" y1="477.3" x2="532.3" y2="717.4" stroke="#7a7a7a" stroke-width="0.8" stroke-dasharray="3 2"/>
<line x1="560.3" y1="477.3" x2="560.3" y2="717.4" stroke="#7a7a7a" stroke-width="0.8" stroke-dasharray="3 2"/>
<line x1="469.0" y1="702.4" x2="623.1" y2="702.4" stroke="#7a7a7a" stroke-width="0.8" stroke-dasharray="3 2"/>
<line x1="469.0" y1="477.3" x2="469.0" y2="718.0" stroke="#3a3a3a" stroke-width="1.3"/>
<line x1="468.4" y1="717.4" x2="623.1" y2="717.4" stroke="#3a3a3a" stroke-width="1.3"/>
<line x1="465.0" y1="705.3" x2="469.0" y2="705.3" stroke="#3a3a3a" stroke-width="1.1"/>
<text x="460.5" y="709.6" font-size="12" font-weight="bold" text-anchor="end" fill="#111" font-family='"Liberation Sans", sans-serif' >0</text>
<line x1="465.0" y1="632.9" x2="469.0" y2="632.9" stroke="#3a3a3a" stroke-width="1.1"/>
<text x="460.5" y="637.2" font-size="12" font-weight="bold" text-anchor="end" fill="#111" font-family='"Liberation Sans", sans-serif' >50</text>
<line x1="465.0" y1="560.5" x2="469.0" y2="560.5" stroke="#3a3a3a" stroke-width="1.1"/>
<text x="460.5" y="564.8" font-size="12" font-weight="bold" text-anchor="end" fill="#111" font-family='"Liberation Sans", sans-serif' >100</text>
<line x1="465.0" y1="488.1" x2="469.0" y2="488.1" stroke="#3a3a3a" stroke-width="1.1"/>
<text x="460.5" y="492.4" font-size="12" font-weight="bold" text-anchor="end" fill="#111" font-family='"Liberation Sans", sans-serif' >150</text>
<line x1="476.2" y1="717.4" x2="476.2" y2="721.4" stroke="#3a3a3a" stroke-width="1.1"/>
<text x="476.2" y="733.6" font-size="12" font-weight="bold" text-anchor="middle" fill="#111" font-family='"Liberation Sans", sans-serif' >-10</text>
<line x1="511.2" y1="717.4" x2="511.2" y2="721.4" stroke="#3a3a3a" stroke-width="1.1"/>
<text x="511.2" y="733.6" font-size="12" font-weight="bold" text-anchor="middle" fill="#111" font-family='"Liberation Sans", sans-serif' >-5</text>
<line x1="546.3" y1="717.4" x2="546.3" y2="721.4" stroke="#3a3a3a" stroke-width="1.1"/>
<text x="546.3" y="733.6" font-size="12" font-weight="bold" text-anchor="middle" fill="#111" font-family='"Liberation Sans", sans-serif' >0</text>
<line x1="581.3" y1="717.4" x2="581.3" y2="721.4" stroke="#3a3a3a" stroke-width="1.1"/>
<text x="581.3" y="733.6" font-size="12" font-weight="bold" text-anchor="middle" fill="#111" font-family='"Liberation Sans", sans-serif' >5</text>
<line x1="616.4" y1="717.4" x2="616.4" y2="721.4" stroke="#3a3a3a" stroke-width="1.1"/>
<text x="616.4" y="733.6" font-size="12" font-weight="bold" text-anchor="middle" fill="#111" font-family='"Liberation Sans", sans-serif' >10</text>
<text x="543.3" y="460.6" font-size="12" font-weight="bold" text-anchor="middle" fill="#111" font-family='"Liberation Sans", sans-serif' >Cauda epididymis</text>
<text x="481.5" y="484.2" font-size="11.2" font-weight="normal" text-anchor="start" fill="#111" font-family='"Liberation Sans", sans-serif' >888</text>
<text x="583.1" y="484.2" font-size="11.2" font-weight="normal" text-anchor="start" fill="#111" font-family='"Liberation Sans", sans-serif' >155</text>
<g transform="rotate(-90)">
<text x="-623.6" y="13.8" font-size="10.6" font-weight="bold" text-anchor="start" fill="#000" font-family='"Liberation Sans", sans-serif' >&#8722;Log</text>
<text x="-597.4" y="16.0" font-size="7.5" font-weight="bold" fill="#111" font-family='"Liberation Sans", sans-serif' textLength="7.4" lengthAdjust="spacingAndGlyphs" >10</text>
<text x="-588.9" y="13.8" font-size="11.6" font-weight="bold" fill="#111" font-family='"Liberation Serif", serif' textLength="31.8" lengthAdjust="spacingAndGlyphs" >(padj)</text>
</g>
<text x="288.4" y="751.1" font-size="10.0" font-weight="bold" text-anchor="start" fill="#000" font-family='"Liberation Sans", sans-serif' >Log</text>
<text x="307.0" y="753.3" font-size="7.3" font-weight="bold" fill="#111" font-family='"Liberation Sans", sans-serif' textLength="4.6" lengthAdjust="spacingAndGlyphs" >2</text>
<text x="313.2" y="751.1" font-size="11.0" font-weight="bold" fill="#111" font-family='"Liberation Serif", serif' textLength="71.0" lengthAdjust="spacingAndGlyphs" >(Fold Change)</text>
<circle cx="26.9" cy="768.6" r="5.7" fill="#A6A6A6"/>
<circle cx="81.6" cy="768.6" r="5.7" fill="#90C590"/>
<circle cx="255.5" cy="768.6" r="5.7" fill="#A0B4F0"/>
<circle cx="354.4" cy="768.6" r="5.7" fill="#F68080"/>
<text x="41.3" y="772.2" font-size="12" font-weight="bold" fill="#111" font-family='"Liberation Sans", sans-serif' textLength="17.0" lengthAdjust="spacingAndGlyphs" >NS</text>
<text x="97.4" y="772.2" font-size="10.2" font-weight="bold" text-anchor="start" fill="#000" font-family='"Liberation Sans", sans-serif' >|Log</text>
<text x="120.7" y="774.6" font-size="7.6" font-weight="bold" fill="#111" font-family='"Liberation Sans", sans-serif' textLength="4.6" lengthAdjust="spacingAndGlyphs" >2</text>
<text x="129.7" y="772.2" font-size="12.0" font-weight="bold" fill="#111" font-family='"Liberation Serif", serif' textLength="78.8" lengthAdjust="spacingAndGlyphs" >(Fold Change)</text>
<text x="211.0" y="772.2" font-size="12" font-weight="bold" fill="#111" font-family='"Liberation Sans", sans-serif' textLength="22.6" lengthAdjust="spacingAndGlyphs" >| &gt; 2</text>
<text x="269.9" y="772.2" font-size="12" font-weight="bold" fill="#111" font-family='"Liberation Sans", sans-serif' textLength="61.3" lengthAdjust="spacingAndGlyphs" >padj &lt; 0.01</text>
<text x="373.2" y="772.2" font-size="10.2" font-weight="bold" text-anchor="start" fill="#000" font-family='"Liberation Sans", sans-serif' >|Log</text>
<text x="396.5" y="774.6" font-size="7.6" font-weight="bold" fill="#111" font-family='"Liberation Sans", sans-serif' textLength="4.6" lengthAdjust="spacingAndGlyphs" >2</text>
<text x="405.5" y="772.2" font-size="12.0" font-weight="bold" fill="#111" font-family='"Liberation Serif", serif' textLength="78.8" lengthAdjust="spacingAndGlyphs" >(Fold Change)</text>
<text x="486.8" y="772.2" font-size="12" font-weight="bold" fill="#111" font-family='"Liberation Sans", sans-serif' textLength="22.6" lengthAdjust="spacingAndGlyphs" >| &gt; 2</text>
<text x="514.2" y="772.2" font-size="10.2" font-weight="bold" fill="#111" font-family='"Liberation Sans", sans-serif' textLength="65.0" lengthAdjust="spacingAndGlyphs" >&amp; padj &lt; 0.01</text>
</svg>
</body></html>
